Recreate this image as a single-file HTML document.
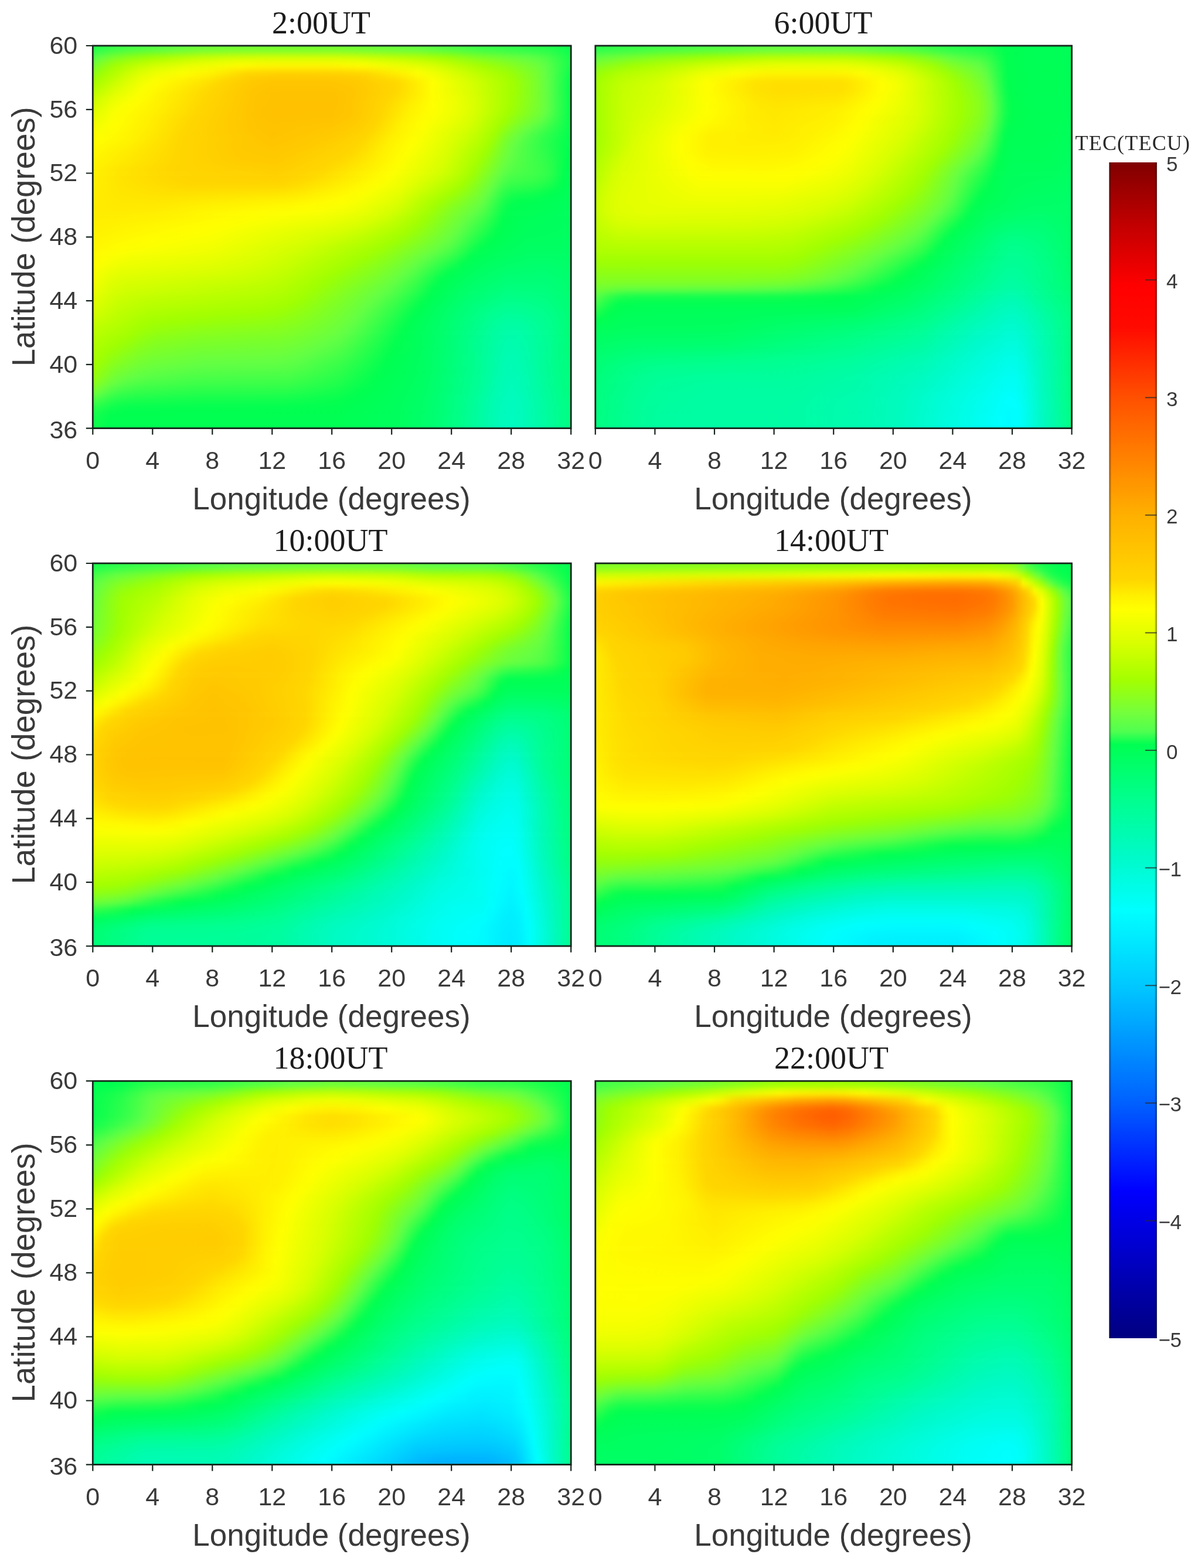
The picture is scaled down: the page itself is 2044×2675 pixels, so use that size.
<!DOCTYPE html>
<html lang="en"><head><meta charset="utf-8"><title>TEC maps</title><style>
html,body{margin:0;padding:0;background:#fff}
body{width:2044px;height:2675px;overflow:hidden}
svg{display:block}
text{font-family:'Liberation Sans',Arial,Helvetica,sans-serif;fill:#3a3a3a}
.tk text{font-size:43px}
.lb{font-size:53px}
.lby{font-size:54.6px}
.tt{font-family:'Liberation Serif','Times New Roman',serif;font-size:54px;fill:#1c1c1c}
.ct{font-family:'Liberation Serif','Times New Roman',serif;font-size:36px;fill:#2a2a2a;letter-spacing:1.2px}
.cbt text{font-size:35px;letter-spacing:-0.5px}
</style></head><body>
<svg width="2044" height="2675" viewBox="0 0 2044 2675">
<defs>
<filter id="vb" x="-5%" y="-5%" width="110%" height="110%" color-interpolation-filters="sRGB"><feGaussianBlur stdDeviation="0 6"/></filter>
<clipPath id="c0"><rect x="158.3" y="78" width="815.9" height="652.6"/></clipPath>
<linearGradient id="g0"><stop offset="0" stop-color="#23ff4c"/><stop offset=".039" stop-color="#38ff49"/><stop offset=".07" stop-color="#45ff48"/><stop offset=".172" stop-color="#62ff44"/><stop offset=".219" stop-color="#6cff3b"/><stop offset=".328" stop-color="#74ff32"/><stop offset=".508" stop-color="#74ff31"/><stop offset=".68" stop-color="#63ff44"/><stop offset=".812" stop-color="#3cff49"/><stop offset=".945" stop-color="#25ff4c"/><stop offset=".969" stop-color="#1bff4d"/><stop offset="1" stop-color="#0aff4f"/></linearGradient>
<linearGradient id="g1"><stop offset="0" stop-color="#23ff4c"/><stop offset=".039" stop-color="#38ff49"/><stop offset=".07" stop-color="#45ff48"/><stop offset=".172" stop-color="#62ff44"/><stop offset=".219" stop-color="#6cff3b"/><stop offset=".328" stop-color="#74ff32"/><stop offset=".508" stop-color="#74ff31"/><stop offset=".68" stop-color="#63ff44"/><stop offset=".812" stop-color="#3cff49"/><stop offset=".945" stop-color="#25ff4c"/><stop offset=".969" stop-color="#1bff4d"/><stop offset="1" stop-color="#0aff4f"/></linearGradient>
<linearGradient id="g2"><stop offset="0" stop-color="#23ff4c"/><stop offset=".039" stop-color="#38ff49"/><stop offset=".07" stop-color="#45ff48"/><stop offset=".172" stop-color="#62ff44"/><stop offset=".219" stop-color="#6cff3b"/><stop offset=".328" stop-color="#74ff32"/><stop offset=".508" stop-color="#74ff31"/><stop offset=".68" stop-color="#63ff44"/><stop offset=".812" stop-color="#3cff49"/><stop offset=".945" stop-color="#25ff4c"/><stop offset=".969" stop-color="#1bff4d"/><stop offset="1" stop-color="#0aff4f"/></linearGradient>
<linearGradient id="g3"><stop offset="0" stop-color="#52ff46"/><stop offset=".016" stop-color="#65ff43"/><stop offset=".047" stop-color="#7eff27"/><stop offset=".078" stop-color="#90ff12"/><stop offset=".117" stop-color="#a0ff00"/><stop offset=".227" stop-color="#c5ff00"/><stop offset=".281" stop-color="#cfff00"/><stop offset=".344" stop-color="#d5ff00"/><stop offset=".516" stop-color="#d6ff00"/><stop offset=".555" stop-color="#d0ff00"/><stop offset=".672" stop-color="#b6ff00"/><stop offset=".742" stop-color="#9fff01"/><stop offset=".812" stop-color="#7fff26"/><stop offset=".906" stop-color="#64ff44"/><stop offset=".93" stop-color="#59ff45"/><stop offset=".953" stop-color="#48ff47"/><stop offset="1" stop-color="#15ff4e"/></linearGradient>
<linearGradient id="g4"><stop offset="0" stop-color="#73ff33"/><stop offset=".039" stop-color="#9bff06"/><stop offset=".047" stop-color="#a2ff00"/><stop offset=".086" stop-color="#bbff00"/><stop offset=".125" stop-color="#d0ff00"/><stop offset=".203" stop-color="#e9ff00"/><stop offset=".312" stop-color="#fffe00"/><stop offset=".367" stop-color="#fff800"/><stop offset=".492" stop-color="#fff800"/><stop offset=".562" stop-color="#ffff00"/><stop offset=".656" stop-color="#e9ff00"/><stop offset=".703" stop-color="#dbff00"/><stop offset=".82" stop-color="#a0ff00"/><stop offset=".922" stop-color="#70ff36"/><stop offset=".945" stop-color="#61ff44"/><stop offset="1" stop-color="#15ff4d"/></linearGradient>
<linearGradient id="g5"><stop offset="0" stop-color="#8aff19"/><stop offset=".023" stop-color="#a2ff00"/><stop offset=".094" stop-color="#dcff00"/><stop offset=".133" stop-color="#efff00"/><stop offset=".188" stop-color="#feff00"/><stop offset=".25" stop-color="#fff200"/><stop offset=".32" stop-color="#ffd500"/><stop offset=".391" stop-color="#ffd000"/><stop offset=".516" stop-color="#ffd100"/><stop offset=".57" stop-color="#ffd600"/><stop offset=".68" stop-color="#ffff00"/><stop offset=".719" stop-color="#eeff00"/><stop offset=".812" stop-color="#baff00"/><stop offset=".867" stop-color="#9fff01"/><stop offset=".922" stop-color="#7aff2b"/><stop offset=".945" stop-color="#66ff42"/><stop offset=".961" stop-color="#4eff47"/><stop offset=".992" stop-color="#17ff4d"/><stop offset="1" stop-color="#0dff4e"/></linearGradient>
<linearGradient id="g6"><stop offset="0" stop-color="#a0ff00"/><stop offset=".07" stop-color="#dbff00"/><stop offset=".109" stop-color="#f5ff00"/><stop offset=".133" stop-color="#fffe00"/><stop offset=".227" stop-color="#ffe600"/><stop offset=".273" stop-color="#ffd500"/><stop offset=".336" stop-color="#ffc900"/><stop offset=".375" stop-color="#ffc600"/><stop offset=".492" stop-color="#ffc600"/><stop offset=".547" stop-color="#ffc900"/><stop offset=".633" stop-color="#ffd700"/><stop offset=".711" stop-color="#ffff00"/><stop offset=".789" stop-color="#d6ff00"/><stop offset=".875" stop-color="#a3ff00"/><stop offset=".883" stop-color="#9dff03"/><stop offset=".922" stop-color="#7eff27"/><stop offset=".945" stop-color="#68ff40"/><stop offset=".953" stop-color="#5dff45"/><stop offset=".992" stop-color="#12ff4e"/><stop offset="1" stop-color="#06ff4f"/></linearGradient>
<linearGradient id="g7"><stop offset="0" stop-color="#b1ff00"/><stop offset=".047" stop-color="#daff00"/><stop offset=".102" stop-color="#faff00"/><stop offset=".117" stop-color="#fffd00"/><stop offset=".25" stop-color="#ffd600"/><stop offset=".336" stop-color="#ffc600"/><stop offset=".375" stop-color="#ffc300"/><stop offset=".492" stop-color="#ffc300"/><stop offset=".539" stop-color="#ffc600"/><stop offset=".633" stop-color="#ffd600"/><stop offset=".711" stop-color="#fffe00"/><stop offset=".789" stop-color="#daff00"/><stop offset=".875" stop-color="#a3ff00"/><stop offset=".883" stop-color="#9eff02"/><stop offset=".922" stop-color="#7eff26"/><stop offset=".945" stop-color="#68ff3f"/><stop offset=".953" stop-color="#5dff45"/><stop offset=".992" stop-color="#11ff4e"/><stop offset="1" stop-color="#05ff4f"/></linearGradient>
<linearGradient id="g8"><stop offset="0" stop-color="#c2ff00"/><stop offset=".023" stop-color="#d8ff00"/><stop offset=".047" stop-color="#e8ff00"/><stop offset=".094" stop-color="#feff00"/><stop offset=".234" stop-color="#ffd700"/><stop offset=".336" stop-color="#ffc500"/><stop offset=".383" stop-color="#ffc200"/><stop offset=".508" stop-color="#ffc200"/><stop offset=".547" stop-color="#ffc700"/><stop offset=".625" stop-color="#ffd700"/><stop offset=".711" stop-color="#fffe00"/><stop offset=".758" stop-color="#edff00"/><stop offset=".797" stop-color="#d8ff00"/><stop offset=".875" stop-color="#a2ff00"/><stop offset=".883" stop-color="#9dff04"/><stop offset=".922" stop-color="#7eff27"/><stop offset=".945" stop-color="#68ff3f"/><stop offset=".953" stop-color="#5eff45"/><stop offset=".992" stop-color="#12ff4e"/><stop offset="1" stop-color="#05ff4f"/></linearGradient>
<linearGradient id="g9"><stop offset="0" stop-color="#d2ff00"/><stop offset=".047" stop-color="#f4ff00"/><stop offset=".078" stop-color="#fffe00"/><stop offset=".133" stop-color="#fff100"/><stop offset=".227" stop-color="#ffd600"/><stop offset=".344" stop-color="#ffc300"/><stop offset=".391" stop-color="#ffc100"/><stop offset=".5" stop-color="#ffc100"/><stop offset=".539" stop-color="#ffc600"/><stop offset=".609" stop-color="#ffd500"/><stop offset=".672" stop-color="#fff200"/><stop offset=".711" stop-color="#ffff00"/><stop offset=".758" stop-color="#eeff00"/><stop offset=".797" stop-color="#d9ff00"/><stop offset=".875" stop-color="#a1ff00"/><stop offset=".93" stop-color="#77ff2f"/><stop offset=".945" stop-color="#68ff3f"/><stop offset=".953" stop-color="#5eff45"/><stop offset=".992" stop-color="#12ff4e"/><stop offset="1" stop-color="#05ff4f"/></linearGradient>
<linearGradient id="g10"><stop offset="0" stop-color="#dfff00"/><stop offset=".039" stop-color="#f7ff00"/><stop offset=".062" stop-color="#fffd00"/><stop offset=".117" stop-color="#fff200"/><stop offset=".219" stop-color="#ffd600"/><stop offset=".344" stop-color="#ffc300"/><stop offset=".383" stop-color="#ffc100"/><stop offset=".5" stop-color="#ffc200"/><stop offset=".539" stop-color="#ffc600"/><stop offset=".602" stop-color="#ffd500"/><stop offset=".664" stop-color="#fff300"/><stop offset=".711" stop-color="#feff00"/><stop offset=".758" stop-color="#edff00"/><stop offset=".797" stop-color="#d8ff00"/><stop offset=".867" stop-color="#a3ff00"/><stop offset=".875" stop-color="#9cff04"/><stop offset=".938" stop-color="#6dff3a"/><stop offset=".945" stop-color="#66ff42"/><stop offset=".953" stop-color="#5aff45"/><stop offset=".992" stop-color="#11ff4e"/><stop offset="1" stop-color="#05ff4f"/></linearGradient>
<linearGradient id="g11"><stop offset="0" stop-color="#eaff00"/><stop offset=".047" stop-color="#ffff00"/><stop offset=".117" stop-color="#ffef00"/><stop offset=".203" stop-color="#ffd600"/><stop offset=".344" stop-color="#ffc400"/><stop offset=".383" stop-color="#ffc200"/><stop offset=".5" stop-color="#ffc400"/><stop offset=".547" stop-color="#ffca00"/><stop offset=".594" stop-color="#ffd500"/><stop offset=".648" stop-color="#fff100"/><stop offset=".695" stop-color="#ffff00"/><stop offset=".742" stop-color="#efff00"/><stop offset=".789" stop-color="#d8ff00"/><stop offset=".859" stop-color="#a0ff00"/><stop offset=".891" stop-color="#83ff21"/><stop offset=".938" stop-color="#60ff44"/><stop offset="1" stop-color="#04ff4f"/></linearGradient>
<linearGradient id="g12"><stop offset="0" stop-color="#f4ff00"/><stop offset=".039" stop-color="#fffe00"/><stop offset=".117" stop-color="#ffed00"/><stop offset=".195" stop-color="#ffd600"/><stop offset=".336" stop-color="#ffc500"/><stop offset=".383" stop-color="#ffc300"/><stop offset=".5" stop-color="#ffc800"/><stop offset=".555" stop-color="#ffcf00"/><stop offset=".586" stop-color="#ffd600"/><stop offset=".641" stop-color="#fff200"/><stop offset=".688" stop-color="#feff00"/><stop offset=".781" stop-color="#d5ff00"/><stop offset=".812" stop-color="#bfff00"/><stop offset=".844" stop-color="#a3ff00"/><stop offset=".852" stop-color="#9aff07"/><stop offset=".875" stop-color="#80ff25"/><stop offset=".906" stop-color="#67ff41"/><stop offset=".914" stop-color="#60ff45"/><stop offset="1" stop-color="#03ff50"/></linearGradient>
<linearGradient id="g13"><stop offset="0" stop-color="#fcff00"/><stop offset=".016" stop-color="#ffff00"/><stop offset=".086" stop-color="#fff200"/><stop offset=".188" stop-color="#ffd600"/><stop offset=".375" stop-color="#ffc400"/><stop offset=".5" stop-color="#ffcb00"/><stop offset=".57" stop-color="#ffd600"/><stop offset=".625" stop-color="#fff000"/><stop offset=".672" stop-color="#fffe00"/><stop offset=".703" stop-color="#f4ff00"/><stop offset=".766" stop-color="#d5ff00"/><stop offset=".805" stop-color="#bcff00"/><stop offset=".836" stop-color="#a1ff00"/><stop offset=".867" stop-color="#79ff2c"/><stop offset=".891" stop-color="#65ff43"/><stop offset=".914" stop-color="#4bff47"/><stop offset=".945" stop-color="#2eff4b"/><stop offset=".977" stop-color="#13ff4e"/><stop offset="1" stop-color="#02ff50"/></linearGradient>
<linearGradient id="g14"><stop offset="0" stop-color="#fffc00"/><stop offset=".07" stop-color="#fff100"/><stop offset=".18" stop-color="#ffd600"/><stop offset=".312" stop-color="#ffc900"/><stop offset=".375" stop-color="#ffc600"/><stop offset=".445" stop-color="#ffc900"/><stop offset=".555" stop-color="#ffd600"/><stop offset=".617" stop-color="#fff100"/><stop offset=".664" stop-color="#ffff00"/><stop offset=".695" stop-color="#f3ff00"/><stop offset=".75" stop-color="#d8ff00"/><stop offset=".805" stop-color="#b4ff00"/><stop offset=".828" stop-color="#a0ff00"/><stop offset=".859" stop-color="#78ff2d"/><stop offset=".875" stop-color="#69ff3f"/><stop offset=".883" stop-color="#62ff44"/><stop offset=".906" stop-color="#4bff47"/><stop offset=".953" stop-color="#24ff4c"/><stop offset=".984" stop-color="#0aff4f"/><stop offset="1" stop-color="#01ff50"/></linearGradient>
<linearGradient id="g15"><stop offset="0" stop-color="#fff800"/><stop offset=".18" stop-color="#ffd600"/><stop offset=".312" stop-color="#ffca00"/><stop offset=".383" stop-color="#ffc800"/><stop offset=".539" stop-color="#ffd600"/><stop offset=".609" stop-color="#fff200"/><stop offset=".656" stop-color="#feff00"/><stop offset=".695" stop-color="#efff00"/><stop offset=".742" stop-color="#d8ff00"/><stop offset=".82" stop-color="#9fff01"/><stop offset=".852" stop-color="#7aff2b"/><stop offset=".875" stop-color="#64ff44"/><stop offset=".891" stop-color="#55ff46"/><stop offset=".945" stop-color="#2eff4b"/><stop offset=".992" stop-color="#02ff50"/><stop offset="1" stop-color="#00ff51"/></linearGradient>
<linearGradient id="g16"><stop offset="0" stop-color="#fff500"/><stop offset=".172" stop-color="#ffd600"/><stop offset=".305" stop-color="#ffcc00"/><stop offset=".383" stop-color="#ffca00"/><stop offset=".516" stop-color="#ffd700"/><stop offset=".641" stop-color="#fffe00"/><stop offset=".734" stop-color="#d8ff00"/><stop offset=".805" stop-color="#a4ff00"/><stop offset=".812" stop-color="#9dff03"/><stop offset=".852" stop-color="#73ff34"/><stop offset=".867" stop-color="#65ff43"/><stop offset=".891" stop-color="#52ff46"/><stop offset=".945" stop-color="#32ff4a"/><stop offset=".961" stop-color="#24ff4c"/><stop offset=".992" stop-color="#00ff50"/><stop offset="1" stop-color="#00ff52"/></linearGradient>
<linearGradient id="g17"><stop offset="0" stop-color="#fff200"/><stop offset=".055" stop-color="#ffe500"/><stop offset=".164" stop-color="#ffd600"/><stop offset=".383" stop-color="#ffce00"/><stop offset=".484" stop-color="#ffd700"/><stop offset=".633" stop-color="#feff00"/><stop offset=".727" stop-color="#d7ff00"/><stop offset=".758" stop-color="#c2ff00"/><stop offset=".797" stop-color="#a2ff00"/><stop offset=".859" stop-color="#64ff43"/><stop offset=".883" stop-color="#51ff46"/><stop offset=".93" stop-color="#3eff49"/><stop offset=".945" stop-color="#35ff4a"/><stop offset=".961" stop-color="#26ff4b"/><stop offset=".984" stop-color="#07ff4f"/><stop offset=".992" stop-color="#00ff51"/><stop offset="1" stop-color="#00ff54"/></linearGradient>
<linearGradient id="g18"><stop offset="0" stop-color="#fff000"/><stop offset=".062" stop-color="#ffe300"/><stop offset=".172" stop-color="#ffd600"/><stop offset=".383" stop-color="#ffd100"/><stop offset=".453" stop-color="#ffd700"/><stop offset=".617" stop-color="#feff00"/><stop offset=".711" stop-color="#d6ff00"/><stop offset=".75" stop-color="#bfff00"/><stop offset=".789" stop-color="#a0ff00"/><stop offset=".844" stop-color="#69ff3f"/><stop offset=".852" stop-color="#60ff44"/><stop offset=".867" stop-color="#4eff47"/><stop offset=".875" stop-color="#49ff47"/><stop offset=".922" stop-color="#3dff49"/><stop offset=".945" stop-color="#32ff4a"/><stop offset=".961" stop-color="#23ff4c"/><stop offset=".984" stop-color="#03ff50"/><stop offset="1" stop-color="#00ff56"/></linearGradient>
<linearGradient id="g19"><stop offset="0" stop-color="#ffef00"/><stop offset=".062" stop-color="#ffe400"/><stop offset=".203" stop-color="#ffd600"/><stop offset=".391" stop-color="#ffd600"/><stop offset=".43" stop-color="#ffdc00"/><stop offset=".594" stop-color="#feff00"/><stop offset=".633" stop-color="#f2ff00"/><stop offset=".656" stop-color="#e7ff00"/><stop offset=".734" stop-color="#bbff00"/><stop offset=".773" stop-color="#a1ff00"/><stop offset=".828" stop-color="#6eff39"/><stop offset=".836" stop-color="#66ff42"/><stop offset=".844" stop-color="#5aff45"/><stop offset=".859" stop-color="#42ff48"/><stop offset=".875" stop-color="#35ff4a"/><stop offset=".93" stop-color="#29ff4b"/><stop offset=".953" stop-color="#1bff4d"/><stop offset=".977" stop-color="#04ff50"/><stop offset=".984" stop-color="#00ff52"/><stop offset="1" stop-color="#00ff57"/></linearGradient>
<linearGradient id="g20"><stop offset="0" stop-color="#ffed00"/><stop offset=".062" stop-color="#ffe600"/><stop offset=".164" stop-color="#ffe000"/><stop offset=".375" stop-color="#ffe300"/><stop offset=".43" stop-color="#ffe800"/><stop offset=".555" stop-color="#fffe00"/><stop offset=".57" stop-color="#fcff00"/><stop offset=".641" stop-color="#e5ff00"/><stop offset=".75" stop-color="#a2ff00"/><stop offset=".758" stop-color="#9dff04"/><stop offset=".797" stop-color="#80ff25"/><stop offset=".828" stop-color="#64ff44"/><stop offset=".859" stop-color="#2dff4b"/><stop offset=".875" stop-color="#1dff4c"/><stop offset=".93" stop-color="#0fff4e"/><stop offset=".961" stop-color="#00ff50"/><stop offset="1" stop-color="#00ff59"/></linearGradient>
<linearGradient id="g21"><stop offset="0" stop-color="#ffec00"/><stop offset=".062" stop-color="#ffe800"/><stop offset=".156" stop-color="#ffe700"/><stop offset=".414" stop-color="#fff300"/><stop offset=".523" stop-color="#ffff00"/><stop offset=".555" stop-color="#f8ff00"/><stop offset=".609" stop-color="#e8ff00"/><stop offset=".641" stop-color="#dbff00"/><stop offset=".688" stop-color="#b9ff00"/><stop offset=".727" stop-color="#a1ff00"/><stop offset=".812" stop-color="#69ff3f"/><stop offset=".82" stop-color="#60ff44"/><stop offset=".859" stop-color="#1aff4d"/><stop offset=".875" stop-color="#09ff4f"/><stop offset=".898" stop-color="#00ff50"/><stop offset="1" stop-color="#00ff5b"/></linearGradient>
<linearGradient id="g22"><stop offset="0" stop-color="#ffec00"/><stop offset=".047" stop-color="#ffea00"/><stop offset=".133" stop-color="#ffeb00"/><stop offset=".234" stop-color="#fff400"/><stop offset=".453" stop-color="#ffff00"/><stop offset=".508" stop-color="#f9ff00"/><stop offset=".547" stop-color="#f2ff00"/><stop offset=".633" stop-color="#d5ff00"/><stop offset=".711" stop-color="#9fff02"/><stop offset=".75" stop-color="#83ff21"/><stop offset=".805" stop-color="#63ff44"/><stop offset=".82" stop-color="#50ff46"/><stop offset=".852" stop-color="#18ff4d"/><stop offset=".867" stop-color="#03ff50"/><stop offset=".875" stop-color="#00ff51"/><stop offset="1" stop-color="#00ff5c"/></linearGradient>
<linearGradient id="g23"><stop offset="0" stop-color="#ffed00"/><stop offset=".125" stop-color="#fff000"/><stop offset=".336" stop-color="#ffff00"/><stop offset=".484" stop-color="#f2ff00"/><stop offset=".547" stop-color="#e7ff00"/><stop offset=".594" stop-color="#d9ff00"/><stop offset=".617" stop-color="#cfff00"/><stop offset=".695" stop-color="#9fff02"/><stop offset=".75" stop-color="#7aff2b"/><stop offset=".789" stop-color="#61ff44"/><stop offset=".82" stop-color="#3fff48"/><stop offset=".859" stop-color="#02ff50"/><stop offset=".898" stop-color="#00ff57"/><stop offset="1" stop-color="#00ff5e"/></linearGradient>
<linearGradient id="g24"><stop offset="0" stop-color="#ffef00"/><stop offset=".273" stop-color="#ffff00"/><stop offset=".484" stop-color="#e7ff00"/><stop offset=".555" stop-color="#d9ff00"/><stop offset=".625" stop-color="#bdff00"/><stop offset=".68" stop-color="#9eff02"/><stop offset=".766" stop-color="#68ff40"/><stop offset=".773" stop-color="#62ff44"/><stop offset=".812" stop-color="#37ff49"/><stop offset=".852" stop-color="#03ff50"/><stop offset=".859" stop-color="#00ff52"/><stop offset=".906" stop-color="#00ff5a"/><stop offset="1" stop-color="#00ff5f"/></linearGradient>
<linearGradient id="g25"><stop offset="0" stop-color="#fff200"/><stop offset=".211" stop-color="#ffff00"/><stop offset=".25" stop-color="#fcff00"/><stop offset=".516" stop-color="#d5ff00"/><stop offset=".586" stop-color="#beff00"/><stop offset=".656" stop-color="#a1ff00"/><stop offset=".75" stop-color="#6aff3d"/><stop offset=".766" stop-color="#5dff45"/><stop offset=".844" stop-color="#01ff50"/><stop offset=".867" stop-color="#00ff56"/><stop offset=".906" stop-color="#00ff5c"/><stop offset="1" stop-color="#00ff60"/></linearGradient>
<linearGradient id="g26"><stop offset="0" stop-color="#fff400"/><stop offset=".125" stop-color="#ffff00"/><stop offset=".258" stop-color="#f6ff00"/><stop offset=".445" stop-color="#d8ff00"/><stop offset=".484" stop-color="#cfff00"/><stop offset=".555" stop-color="#bbff00"/><stop offset=".633" stop-color="#9fff01"/><stop offset=".742" stop-color="#66ff42"/><stop offset=".758" stop-color="#57ff46"/><stop offset=".805" stop-color="#1bff4d"/><stop offset=".828" stop-color="#02ff50"/><stop offset=".836" stop-color="#00ff52"/><stop offset=".906" stop-color="#00ff5f"/><stop offset="1" stop-color="#00ff61"/></linearGradient>
<linearGradient id="g27"><stop offset="0" stop-color="#fff600"/><stop offset=".062" stop-color="#ffff00"/><stop offset=".258" stop-color="#f0ff00"/><stop offset=".43" stop-color="#d2ff00"/><stop offset=".602" stop-color="#9fff01"/><stop offset=".719" stop-color="#67ff41"/><stop offset=".75" stop-color="#4dff47"/><stop offset=".797" stop-color="#10ff4e"/><stop offset=".812" stop-color="#00ff51"/><stop offset=".859" stop-color="#00ff5c"/><stop offset=".906" stop-color="#00ff62"/><stop offset="1" stop-color="#00ff63"/></linearGradient>
<linearGradient id="g28"><stop offset="0" stop-color="#fffa00"/><stop offset=".023" stop-color="#feff00"/><stop offset=".078" stop-color="#f5ff00"/><stop offset=".258" stop-color="#e9ff00"/><stop offset=".367" stop-color="#d8ff00"/><stop offset=".43" stop-color="#c9ff00"/><stop offset=".57" stop-color="#a0ff00"/><stop offset=".633" stop-color="#85ff1f"/><stop offset=".695" stop-color="#65ff43"/><stop offset=".742" stop-color="#3cff49"/><stop offset=".758" stop-color="#2bff4b"/><stop offset=".789" stop-color="#03ff50"/><stop offset=".797" stop-color="#00ff52"/><stop offset=".844" stop-color="#00ff5e"/><stop offset=".906" stop-color="#00ff66"/><stop offset="1" stop-color="#00ff66"/></linearGradient>
<linearGradient id="g29"><stop offset="0" stop-color="#ffff00"/><stop offset=".062" stop-color="#eeff00"/><stop offset=".25" stop-color="#e1ff00"/><stop offset=".336" stop-color="#d7ff00"/><stop offset=".406" stop-color="#c8ff00"/><stop offset=".539" stop-color="#a0ff01"/><stop offset=".617" stop-color="#80ff24"/><stop offset=".672" stop-color="#65ff43"/><stop offset=".703" stop-color="#48ff47"/><stop offset=".773" stop-color="#00ff51"/><stop offset=".82" stop-color="#00ff60"/><stop offset=".867" stop-color="#00ff68"/><stop offset=".938" stop-color="#00ff6d"/><stop offset="1" stop-color="#00ff68"/></linearGradient>
<linearGradient id="g30"><stop offset="0" stop-color="#f9ff00"/><stop offset=".039" stop-color="#e9ff00"/><stop offset=".062" stop-color="#e4ff00"/><stop offset=".266" stop-color="#d7ff00"/><stop offset=".367" stop-color="#c9ff00"/><stop offset=".414" stop-color="#beff00"/><stop offset=".508" stop-color="#a0ff00"/><stop offset=".594" stop-color="#80ff24"/><stop offset=".648" stop-color="#67ff41"/><stop offset=".656" stop-color="#62ff44"/><stop offset=".688" stop-color="#43ff48"/><stop offset=".742" stop-color="#04ff50"/><stop offset=".75" stop-color="#00ff51"/><stop offset=".812" stop-color="#00ff64"/><stop offset=".867" stop-color="#00ff6f"/><stop offset=".945" stop-color="#00ff72"/><stop offset="1" stop-color="#00ff6b"/></linearGradient>
<linearGradient id="g31"><stop offset="0" stop-color="#f3ff00"/><stop offset=".039" stop-color="#e1ff00"/><stop offset=".062" stop-color="#dbff00"/><stop offset=".328" stop-color="#c6ff00"/><stop offset=".391" stop-color="#bcff00"/><stop offset=".445" stop-color="#acff00"/><stop offset=".484" stop-color="#9fff01"/><stop offset=".586" stop-color="#79ff2c"/><stop offset=".633" stop-color="#65ff43"/><stop offset=".68" stop-color="#39ff49"/><stop offset=".727" stop-color="#00ff50"/><stop offset=".797" stop-color="#00ff67"/><stop offset=".867" stop-color="#00ff76"/><stop offset=".945" stop-color="#00ff77"/><stop offset="1" stop-color="#00ff6e"/></linearGradient>
<linearGradient id="g32"><stop offset="0" stop-color="#edff00"/><stop offset=".039" stop-color="#daff00"/><stop offset=".07" stop-color="#d2ff00"/><stop offset=".359" stop-color="#b9ff00"/><stop offset=".398" stop-color="#b3ff00"/><stop offset=".453" stop-color="#a3ff00"/><stop offset=".461" stop-color="#a0ff00"/><stop offset=".617" stop-color="#62ff44"/><stop offset=".664" stop-color="#39ff49"/><stop offset=".688" stop-color="#20ff4c"/><stop offset=".711" stop-color="#02ff50"/><stop offset=".719" stop-color="#00ff52"/><stop offset=".789" stop-color="#00ff6b"/><stop offset=".867" stop-color="#00ff7d"/><stop offset=".945" stop-color="#00ff7c"/><stop offset="1" stop-color="#00ff6f"/></linearGradient>
<linearGradient id="g33"><stop offset="0" stop-color="#e6ff00"/><stop offset=".047" stop-color="#cfff00"/><stop offset=".078" stop-color="#c8ff00"/><stop offset=".141" stop-color="#c1ff00"/><stop offset=".359" stop-color="#b1ff00"/><stop offset=".398" stop-color="#abff00"/><stop offset=".438" stop-color="#a1ff00"/><stop offset=".594" stop-color="#64ff44"/><stop offset=".641" stop-color="#3fff48"/><stop offset=".703" stop-color="#00ff51"/><stop offset=".789" stop-color="#00ff71"/><stop offset=".867" stop-color="#00ff86"/><stop offset=".945" stop-color="#00ff81"/><stop offset="1" stop-color="#00ff71"/></linearGradient>
<linearGradient id="g34"><stop offset="0" stop-color="#ddff00"/><stop offset=".055" stop-color="#c5ff00"/><stop offset=".109" stop-color="#baff00"/><stop offset=".359" stop-color="#a8ff00"/><stop offset=".406" stop-color="#a1ff00"/><stop offset=".422" stop-color="#9dff03"/><stop offset=".531" stop-color="#76ff2f"/><stop offset=".578" stop-color="#63ff44"/><stop offset=".633" stop-color="#37ff49"/><stop offset=".688" stop-color="#00ff50"/><stop offset=".797" stop-color="#00ff7b"/><stop offset=".867" stop-color="#00ff8f"/><stop offset=".898" stop-color="#00ff8e"/><stop offset=".945" stop-color="#00ff87"/><stop offset="1" stop-color="#00ff72"/></linearGradient>
<linearGradient id="g35"><stop offset="0" stop-color="#d4ff00"/><stop offset=".055" stop-color="#beff00"/><stop offset=".117" stop-color="#afff00"/><stop offset=".195" stop-color="#a8ff00"/><stop offset=".344" stop-color="#a0ff00"/><stop offset=".391" stop-color="#9bff06"/><stop offset=".445" stop-color="#8dff16"/><stop offset=".516" stop-color="#76ff30"/><stop offset=".562" stop-color="#63ff44"/><stop offset=".625" stop-color="#30ff4a"/><stop offset=".672" stop-color="#02ff50"/><stop offset=".68" stop-color="#00ff52"/><stop offset=".836" stop-color="#00ff8f"/><stop offset=".867" stop-color="#00fe98"/><stop offset=".898" stop-color="#00fe96"/><stop offset=".938" stop-color="#00ff8e"/><stop offset=".961" stop-color="#00ff86"/><stop offset="1" stop-color="#00ff73"/></linearGradient>
<linearGradient id="g36"><stop offset="0" stop-color="#c9ff00"/><stop offset=".094" stop-color="#abff00"/><stop offset=".125" stop-color="#a4ff00"/><stop offset=".172" stop-color="#a0ff00"/><stop offset=".367" stop-color="#93ff0f"/><stop offset=".422" stop-color="#8bff18"/><stop offset=".5" stop-color="#75ff31"/><stop offset=".547" stop-color="#64ff44"/><stop offset=".602" stop-color="#38ff49"/><stop offset=".664" stop-color="#00ff51"/><stop offset=".734" stop-color="#00ff6a"/><stop offset=".844" stop-color="#00fe9a"/><stop offset=".867" stop-color="#00fda0"/><stop offset=".898" stop-color="#00fd9e"/><stop offset=".938" stop-color="#00fe93"/><stop offset=".961" stop-color="#00ff8a"/><stop offset="1" stop-color="#00ff74"/></linearGradient>
<linearGradient id="g37"><stop offset="0" stop-color="#bfff00"/><stop offset=".102" stop-color="#a1ff00"/><stop offset=".133" stop-color="#99ff08"/><stop offset=".219" stop-color="#90ff13"/><stop offset=".391" stop-color="#87ff1d"/><stop offset=".438" stop-color="#7eff26"/><stop offset=".5" stop-color="#6fff38"/><stop offset=".531" stop-color="#64ff44"/><stop offset=".547" stop-color="#59ff45"/><stop offset=".586" stop-color="#3aff49"/><stop offset=".648" stop-color="#04ff50"/><stop offset=".656" stop-color="#00ff51"/><stop offset=".734" stop-color="#00ff6c"/><stop offset=".844" stop-color="#00fd9f"/><stop offset=".867" stop-color="#00fda6"/><stop offset=".891" stop-color="#00fda6"/><stop offset=".93" stop-color="#00fe9a"/><stop offset=".961" stop-color="#00ff8c"/><stop offset="1" stop-color="#00ff75"/></linearGradient>
<linearGradient id="g38"><stop offset="0" stop-color="#b7ff00"/><stop offset=".078" stop-color="#a0ff00"/><stop offset=".109" stop-color="#93ff0f"/><stop offset=".133" stop-color="#8dff15"/><stop offset=".227" stop-color="#84ff20"/><stop offset=".391" stop-color="#7dff27"/><stop offset=".438" stop-color="#76ff2f"/><stop offset=".5" stop-color="#68ff40"/><stop offset=".516" stop-color="#62ff44"/><stop offset=".547" stop-color="#4eff47"/><stop offset=".641" stop-color="#03ff50"/><stop offset=".648" stop-color="#00ff51"/><stop offset=".727" stop-color="#00ff6b"/><stop offset=".844" stop-color="#00fda3"/><stop offset=".867" stop-color="#00fcab"/><stop offset=".891" stop-color="#00fdaa"/><stop offset=".914" stop-color="#00fda2"/><stop offset=".953" stop-color="#00ff92"/><stop offset="1" stop-color="#00ff76"/></linearGradient>
<linearGradient id="g39"><stop offset="0" stop-color="#b1ff00"/><stop offset=".055" stop-color="#9eff02"/><stop offset=".102" stop-color="#8bff18"/><stop offset=".133" stop-color="#83ff21"/><stop offset=".227" stop-color="#7aff2b"/><stop offset=".391" stop-color="#75ff31"/><stop offset=".43" stop-color="#70ff37"/><stop offset=".484" stop-color="#64ff44"/><stop offset=".516" stop-color="#57ff46"/><stop offset=".539" stop-color="#49ff47"/><stop offset=".633" stop-color="#02ff50"/><stop offset=".688" stop-color="#00ff5e"/><stop offset=".727" stop-color="#00ff6c"/><stop offset=".852" stop-color="#00fda9"/><stop offset=".867" stop-color="#00fcae"/><stop offset=".883" stop-color="#00fcae"/><stop offset=".906" stop-color="#00fda8"/><stop offset=".953" stop-color="#00fe93"/><stop offset="1" stop-color="#00ff77"/></linearGradient>
<linearGradient id="g40"><stop offset="0" stop-color="#abff00"/><stop offset=".031" stop-color="#9eff02"/><stop offset=".094" stop-color="#83ff21"/><stop offset=".125" stop-color="#7bff2a"/><stop offset=".219" stop-color="#71ff35"/><stop offset=".391" stop-color="#6dff3a"/><stop offset=".453" stop-color="#63ff44"/><stop offset=".5" stop-color="#52ff46"/><stop offset=".531" stop-color="#42ff48"/><stop offset=".625" stop-color="#01ff50"/><stop offset=".68" stop-color="#00ff5d"/><stop offset=".719" stop-color="#00ff6a"/><stop offset=".766" stop-color="#00ff7e"/><stop offset=".852" stop-color="#00fcab"/><stop offset=".867" stop-color="#00fcb0"/><stop offset=".883" stop-color="#00fcb1"/><stop offset=".906" stop-color="#00fdaa"/><stop offset=".953" stop-color="#00fe93"/><stop offset="1" stop-color="#00ff78"/></linearGradient>
<linearGradient id="g41"><stop offset="0" stop-color="#a6ff00"/><stop offset=".016" stop-color="#9eff02"/><stop offset=".039" stop-color="#8fff13"/><stop offset=".062" stop-color="#84ff20"/><stop offset=".102" stop-color="#76ff30"/><stop offset=".125" stop-color="#71ff35"/><stop offset=".227" stop-color="#68ff40"/><stop offset=".383" stop-color="#65ff42"/><stop offset=".43" stop-color="#5eff45"/><stop offset=".523" stop-color="#3bff49"/><stop offset=".617" stop-color="#00ff50"/><stop offset=".68" stop-color="#00ff5e"/><stop offset=".719" stop-color="#00ff6b"/><stop offset=".781" stop-color="#00ff86"/><stop offset=".852" stop-color="#00fcad"/><stop offset=".867" stop-color="#00fcb3"/><stop offset=".883" stop-color="#00fcb3"/><stop offset=".906" stop-color="#00fcab"/><stop offset="1" stop-color="#00ff79"/></linearGradient>
<linearGradient id="g42"><stop offset="0" stop-color="#a0ff00"/><stop offset=".039" stop-color="#83ff20"/><stop offset=".055" stop-color="#7bff2a"/><stop offset=".094" stop-color="#6dff39"/><stop offset=".133" stop-color="#66ff41"/><stop offset=".227" stop-color="#5cff45"/><stop offset=".375" stop-color="#59ff45"/><stop offset=".414" stop-color="#55ff46"/><stop offset=".453" stop-color="#4aff47"/><stop offset=".516" stop-color="#33ff4a"/><stop offset=".609" stop-color="#00ff51"/><stop offset=".672" stop-color="#00ff5d"/><stop offset=".711" stop-color="#00ff68"/><stop offset=".805" stop-color="#00fe92"/><stop offset=".859" stop-color="#00fcb2"/><stop offset=".875" stop-color="#00fcb6"/><stop offset=".906" stop-color="#00fcad"/><stop offset="1" stop-color="#00ff7a"/></linearGradient>
<linearGradient id="g43"><stop offset="0" stop-color="#97ff0a"/><stop offset=".047" stop-color="#72ff34"/><stop offset=".086" stop-color="#64ff44"/><stop offset=".125" stop-color="#59ff45"/><stop offset=".203" stop-color="#4eff47"/><stop offset=".406" stop-color="#48ff47"/><stop offset=".445" stop-color="#3fff48"/><stop offset=".516" stop-color="#28ff4b"/><stop offset=".594" stop-color="#01ff50"/><stop offset=".664" stop-color="#00ff5c"/><stop offset=".703" stop-color="#00ff66"/><stop offset=".75" stop-color="#00ff7a"/><stop offset=".812" stop-color="#00fe98"/><stop offset=".852" stop-color="#00fcb0"/><stop offset=".875" stop-color="#00fbb8"/><stop offset=".891" stop-color="#00fcb5"/><stop offset=".906" stop-color="#00fcaf"/><stop offset="1" stop-color="#00ff7b"/></linearGradient>
<linearGradient id="g44"><stop offset="0" stop-color="#89ff1b"/><stop offset=".031" stop-color="#6eff39"/><stop offset=".047" stop-color="#63ff44"/><stop offset=".07" stop-color="#54ff46"/><stop offset=".109" stop-color="#48ff47"/><stop offset=".219" stop-color="#3cff49"/><stop offset=".406" stop-color="#39ff49"/><stop offset=".508" stop-color="#1fff4c"/><stop offset=".586" stop-color="#00ff51"/><stop offset=".656" stop-color="#00ff5c"/><stop offset=".695" stop-color="#00ff65"/><stop offset=".734" stop-color="#00ff74"/><stop offset=".812" stop-color="#00fe99"/><stop offset=".852" stop-color="#00fcb3"/><stop offset=".875" stop-color="#00fbba"/><stop offset=".891" stop-color="#00fbb7"/><stop offset=".906" stop-color="#00fcb0"/><stop offset="1" stop-color="#00ff7c"/></linearGradient>
<linearGradient id="g45"><stop offset="0" stop-color="#71ff35"/><stop offset=".016" stop-color="#66ff42"/><stop offset=".023" stop-color="#5cff45"/><stop offset=".039" stop-color="#4bff47"/><stop offset=".055" stop-color="#3eff49"/><stop offset=".094" stop-color="#32ff4a"/><stop offset=".211" stop-color="#27ff4b"/><stop offset=".406" stop-color="#25ff4c"/><stop offset=".508" stop-color="#13ff4e"/><stop offset=".562" stop-color="#00ff50"/><stop offset=".633" stop-color="#00ff5a"/><stop offset=".688" stop-color="#00ff64"/><stop offset=".719" stop-color="#00ff6f"/><stop offset=".797" stop-color="#00fe94"/><stop offset=".852" stop-color="#00fcb5"/><stop offset=".875" stop-color="#00fbbc"/><stop offset=".898" stop-color="#00fbb7"/><stop offset="1" stop-color="#00ff7e"/></linearGradient>
<linearGradient id="g46"><stop offset="0" stop-color="#4dff47"/><stop offset=".031" stop-color="#2eff4a"/><stop offset=".047" stop-color="#23ff4c"/><stop offset=".062" stop-color="#1dff4d"/><stop offset=".086" stop-color="#19ff4d"/><stop offset=".211" stop-color="#12ff4e"/><stop offset=".398" stop-color="#11ff4e"/><stop offset=".516" stop-color="#05ff4f"/><stop offset=".539" stop-color="#00ff50"/><stop offset=".625" stop-color="#00ff5a"/><stop offset=".68" stop-color="#00ff64"/><stop offset=".719" stop-color="#00ff71"/><stop offset=".773" stop-color="#00ff8a"/><stop offset=".852" stop-color="#00fbb8"/><stop offset=".875" stop-color="#00fbbf"/><stop offset=".898" stop-color="#00fbb9"/><stop offset="1" stop-color="#00ff7f"/></linearGradient>
<linearGradient id="g47"><stop offset="0" stop-color="#27ff4b"/><stop offset=".039" stop-color="#0cff4f"/><stop offset=".07" stop-color="#04ff50"/><stop offset=".508" stop-color="#00ff51"/><stop offset=".633" stop-color="#00ff5c"/><stop offset=".688" stop-color="#00ff67"/><stop offset=".727" stop-color="#00ff75"/><stop offset=".766" stop-color="#00ff87"/><stop offset=".852" stop-color="#00fbba"/><stop offset=".875" stop-color="#00fbc0"/><stop offset=".898" stop-color="#00fbba"/><stop offset="1" stop-color="#00ff81"/></linearGradient>
<linearGradient id="g48"><stop offset="0" stop-color="#15ff4e"/><stop offset=".039" stop-color="#00ff50"/><stop offset=".508" stop-color="#00ff52"/><stop offset=".633" stop-color="#00ff5d"/><stop offset=".688" stop-color="#00ff68"/><stop offset=".727" stop-color="#00ff76"/><stop offset=".766" stop-color="#00ff88"/><stop offset=".852" stop-color="#00fbbb"/><stop offset=".875" stop-color="#00fbc1"/><stop offset=".898" stop-color="#00fbbb"/><stop offset="1" stop-color="#00ff81"/></linearGradient>
<linearGradient id="g49"><stop offset="0" stop-color="#12ff4e"/><stop offset=".031" stop-color="#01ff50"/><stop offset=".039" stop-color="#00ff51"/><stop offset=".516" stop-color="#00ff53"/><stop offset=".633" stop-color="#00ff5d"/><stop offset=".688" stop-color="#00ff68"/><stop offset=".727" stop-color="#00ff76"/><stop offset=".766" stop-color="#00ff88"/><stop offset=".852" stop-color="#00fbbb"/><stop offset=".875" stop-color="#00fbc1"/><stop offset=".898" stop-color="#00fbbb"/><stop offset="1" stop-color="#00ff81"/></linearGradient>
<linearGradient id="g50"><stop offset="0" stop-color="#12ff4e"/><stop offset=".031" stop-color="#01ff50"/><stop offset=".039" stop-color="#00ff51"/><stop offset=".516" stop-color="#00ff53"/><stop offset=".633" stop-color="#00ff5d"/><stop offset=".688" stop-color="#00ff68"/><stop offset=".727" stop-color="#00ff76"/><stop offset=".766" stop-color="#00ff88"/><stop offset=".852" stop-color="#00fbbb"/><stop offset=".875" stop-color="#00fbc1"/><stop offset=".898" stop-color="#00fbbb"/><stop offset="1" stop-color="#00ff81"/></linearGradient>
<linearGradient id="g51"><stop offset="0" stop-color="#12ff4e"/><stop offset=".031" stop-color="#01ff50"/><stop offset=".039" stop-color="#00ff51"/><stop offset=".516" stop-color="#00ff53"/><stop offset=".633" stop-color="#00ff5d"/><stop offset=".688" stop-color="#00ff68"/><stop offset=".727" stop-color="#00ff76"/><stop offset=".766" stop-color="#00ff88"/><stop offset=".852" stop-color="#00fbbb"/><stop offset=".875" stop-color="#00fbc1"/><stop offset=".898" stop-color="#00fbbb"/><stop offset="1" stop-color="#00ff81"/></linearGradient>
<clipPath id="c1"><rect x="1015.8" y="78" width="812.8" height="652.6"/></clipPath>
<linearGradient id="g52"><stop offset="0" stop-color="#2aff4b"/><stop offset=".133" stop-color="#44ff48"/><stop offset=".25" stop-color="#52ff46"/><stop offset=".352" stop-color="#64ff44"/><stop offset=".516" stop-color="#67ff41"/><stop offset=".562" stop-color="#62ff44"/><stop offset=".664" stop-color="#4aff47"/><stop offset=".742" stop-color="#2bff4b"/><stop offset=".812" stop-color="#1dff4c"/><stop offset=".828" stop-color="#16ff4d"/><stop offset=".859" stop-color="#00ff50"/><stop offset=".922" stop-color="#00ff56"/><stop offset="1" stop-color="#00ff56"/></linearGradient>
<linearGradient id="g53"><stop offset="0" stop-color="#2aff4b"/><stop offset=".133" stop-color="#44ff48"/><stop offset=".25" stop-color="#52ff46"/><stop offset=".352" stop-color="#64ff44"/><stop offset=".516" stop-color="#67ff41"/><stop offset=".562" stop-color="#62ff44"/><stop offset=".664" stop-color="#4aff47"/><stop offset=".742" stop-color="#2bff4b"/><stop offset=".812" stop-color="#1dff4c"/><stop offset=".828" stop-color="#16ff4d"/><stop offset=".859" stop-color="#00ff50"/><stop offset=".922" stop-color="#00ff56"/><stop offset="1" stop-color="#00ff56"/></linearGradient>
<linearGradient id="g54"><stop offset="0" stop-color="#2aff4b"/><stop offset=".133" stop-color="#44ff48"/><stop offset=".25" stop-color="#52ff46"/><stop offset=".352" stop-color="#64ff44"/><stop offset=".516" stop-color="#67ff41"/><stop offset=".562" stop-color="#62ff44"/><stop offset=".664" stop-color="#4aff47"/><stop offset=".742" stop-color="#2bff4b"/><stop offset=".812" stop-color="#1dff4c"/><stop offset=".828" stop-color="#16ff4d"/><stop offset=".859" stop-color="#00ff50"/><stop offset=".922" stop-color="#00ff56"/><stop offset="1" stop-color="#00ff56"/></linearGradient>
<linearGradient id="g55"><stop offset="0" stop-color="#61ff44"/><stop offset=".031" stop-color="#6aff3d"/><stop offset=".133" stop-color="#8aff18"/><stop offset=".234" stop-color="#9fff01"/><stop offset=".359" stop-color="#b7ff00"/><stop offset=".461" stop-color="#bcff00"/><stop offset=".523" stop-color="#bbff00"/><stop offset=".562" stop-color="#b4ff00"/><stop offset=".633" stop-color="#a1ff00"/><stop offset=".648" stop-color="#9bff05"/><stop offset=".688" stop-color="#88ff1b"/><stop offset=".742" stop-color="#65ff43"/><stop offset=".812" stop-color="#40ff48"/><stop offset=".828" stop-color="#30ff4a"/><stop offset=".859" stop-color="#05ff4f"/><stop offset=".867" stop-color="#00ff51"/><stop offset=".922" stop-color="#00ff56"/><stop offset="1" stop-color="#00ff56"/></linearGradient>
<linearGradient id="g56"><stop offset="0" stop-color="#7eff27"/><stop offset=".078" stop-color="#a0ff00"/><stop offset=".234" stop-color="#cfff00"/><stop offset=".305" stop-color="#dfff00"/><stop offset=".375" stop-color="#e9ff00"/><stop offset=".523" stop-color="#eaff00"/><stop offset=".562" stop-color="#e2ff00"/><stop offset=".609" stop-color="#d5ff00"/><stop offset=".648" stop-color="#c4ff00"/><stop offset=".703" stop-color="#a3ff00"/><stop offset=".711" stop-color="#9dff03"/><stop offset=".75" stop-color="#7dff27"/><stop offset=".805" stop-color="#63ff44"/><stop offset=".82" stop-color="#50ff46"/><stop offset=".852" stop-color="#15ff4d"/><stop offset=".859" stop-color="#09ff4f"/><stop offset=".867" stop-color="#00ff50"/><stop offset=".914" stop-color="#00ff55"/><stop offset="1" stop-color="#00ff56"/></linearGradient>
<linearGradient id="g57"><stop offset="0" stop-color="#95ff0d"/><stop offset=".016" stop-color="#9fff01"/><stop offset=".023" stop-color="#a3ff00"/><stop offset=".062" stop-color="#b5ff00"/><stop offset=".133" stop-color="#c7ff00"/><stop offset=".219" stop-color="#eaff00"/><stop offset=".297" stop-color="#feff00"/><stop offset=".359" stop-color="#fff500"/><stop offset=".477" stop-color="#fff400"/><stop offset=".523" stop-color="#fff600"/><stop offset=".562" stop-color="#fffe00"/><stop offset=".625" stop-color="#eaff00"/><stop offset=".656" stop-color="#dbff00"/><stop offset=".734" stop-color="#a2ff00"/><stop offset=".758" stop-color="#8fff13"/><stop offset=".812" stop-color="#6aff3d"/><stop offset=".82" stop-color="#61ff44"/><stop offset=".852" stop-color="#1aff4d"/><stop offset=".859" stop-color="#0bff4f"/><stop offset=".867" stop-color="#00ff50"/><stop offset=".914" stop-color="#00ff55"/><stop offset="1" stop-color="#00ff56"/></linearGradient>
<linearGradient id="g58"><stop offset="0" stop-color="#a1ff00"/><stop offset=".055" stop-color="#c0ff00"/><stop offset=".125" stop-color="#d2ff00"/><stop offset=".234" stop-color="#ffff00"/><stop offset=".336" stop-color="#ffe300"/><stop offset=".391" stop-color="#ffdf00"/><stop offset=".516" stop-color="#ffe000"/><stop offset=".539" stop-color="#ffe600"/><stop offset=".602" stop-color="#fffe00"/><stop offset=".633" stop-color="#f3ff00"/><stop offset=".68" stop-color="#d8ff00"/><stop offset=".75" stop-color="#a3ff00"/><stop offset=".758" stop-color="#9dff03"/><stop offset=".789" stop-color="#87ff1d"/><stop offset=".812" stop-color="#73ff33"/><stop offset=".82" stop-color="#6aff3d"/><stop offset=".828" stop-color="#5cff45"/><stop offset=".852" stop-color="#1eff4c"/><stop offset=".859" stop-color="#0dff4e"/><stop offset=".867" stop-color="#01ff50"/><stop offset=".914" stop-color="#00ff55"/><stop offset="1" stop-color="#00ff56"/></linearGradient>
<linearGradient id="g59"><stop offset="0" stop-color="#a2ff00"/><stop offset=".039" stop-color="#bbff00"/><stop offset=".062" stop-color="#c6ff00"/><stop offset=".141" stop-color="#dbff00"/><stop offset=".234" stop-color="#fffe00"/><stop offset=".336" stop-color="#ffe200"/><stop offset=".383" stop-color="#ffdd00"/><stop offset=".516" stop-color="#ffe000"/><stop offset=".539" stop-color="#ffe600"/><stop offset=".602" stop-color="#fffe00"/><stop offset=".633" stop-color="#f4ff00"/><stop offset=".656" stop-color="#e7ff00"/><stop offset=".758" stop-color="#a2ff00"/><stop offset=".805" stop-color="#81ff23"/><stop offset=".82" stop-color="#70ff36"/><stop offset=".828" stop-color="#65ff43"/><stop offset=".852" stop-color="#23ff4c"/><stop offset=".859" stop-color="#11ff4e"/><stop offset=".867" stop-color="#03ff50"/><stop offset=".875" stop-color="#00ff51"/><stop offset=".914" stop-color="#00ff55"/><stop offset="1" stop-color="#00ff56"/></linearGradient>
<linearGradient id="g60"><stop offset="0" stop-color="#a2ff00"/><stop offset=".039" stop-color="#bcff00"/><stop offset=".062" stop-color="#c7ff00"/><stop offset=".141" stop-color="#dcff00"/><stop offset=".234" stop-color="#ffff00"/><stop offset=".336" stop-color="#ffe600"/><stop offset=".383" stop-color="#ffe100"/><stop offset=".508" stop-color="#ffe500"/><stop offset=".531" stop-color="#ffea00"/><stop offset=".594" stop-color="#fffe00"/><stop offset=".633" stop-color="#f1ff00"/><stop offset=".664" stop-color="#e1ff00"/><stop offset=".766" stop-color="#a0ff00"/><stop offset=".805" stop-color="#86ff1e"/><stop offset=".82" stop-color="#75ff31"/><stop offset=".828" stop-color="#69ff3e"/><stop offset=".836" stop-color="#57ff46"/><stop offset=".852" stop-color="#29ff4b"/><stop offset=".859" stop-color="#16ff4d"/><stop offset=".867" stop-color="#07ff4f"/><stop offset=".875" stop-color="#00ff50"/><stop offset=".922" stop-color="#00ff56"/><stop offset="1" stop-color="#00ff56"/></linearGradient>
<linearGradient id="g61"><stop offset="0" stop-color="#a2ff00"/><stop offset=".039" stop-color="#bcff00"/><stop offset=".062" stop-color="#c8ff00"/><stop offset=".141" stop-color="#ddff00"/><stop offset=".234" stop-color="#feff00"/><stop offset=".344" stop-color="#ffe800"/><stop offset=".383" stop-color="#ffe500"/><stop offset=".508" stop-color="#ffec00"/><stop offset=".586" stop-color="#feff00"/><stop offset=".641" stop-color="#ebff00"/><stop offset=".68" stop-color="#d8ff00"/><stop offset=".742" stop-color="#aeff00"/><stop offset=".766" stop-color="#a1ff00"/><stop offset=".805" stop-color="#89ff1b"/><stop offset=".82" stop-color="#78ff2d"/><stop offset=".828" stop-color="#6dff3a"/><stop offset=".836" stop-color="#5cff45"/><stop offset=".852" stop-color="#2dff4b"/><stop offset=".859" stop-color="#19ff4d"/><stop offset=".867" stop-color="#0aff4f"/><stop offset=".875" stop-color="#01ff50"/><stop offset=".922" stop-color="#00ff56"/><stop offset="1" stop-color="#00ff56"/></linearGradient>
<linearGradient id="g62"><stop offset="0" stop-color="#a2ff00"/><stop offset=".039" stop-color="#bcff00"/><stop offset=".07" stop-color="#ccff00"/><stop offset=".234" stop-color="#ffff00"/><stop offset=".328" stop-color="#ffec00"/><stop offset=".375" stop-color="#ffe800"/><stop offset=".492" stop-color="#ffef00"/><stop offset=".57" stop-color="#ffff00"/><stop offset=".633" stop-color="#eaff00"/><stop offset=".68" stop-color="#d7ff00"/><stop offset=".742" stop-color="#aeff00"/><stop offset=".766" stop-color="#a1ff00"/><stop offset=".805" stop-color="#88ff1b"/><stop offset=".82" stop-color="#78ff2d"/><stop offset=".828" stop-color="#6cff3b"/><stop offset=".836" stop-color="#5bff45"/><stop offset=".852" stop-color="#2dff4b"/><stop offset=".859" stop-color="#19ff4d"/><stop offset=".867" stop-color="#0aff4f"/><stop offset=".875" stop-color="#01ff50"/><stop offset=".922" stop-color="#00ff55"/><stop offset="1" stop-color="#00ff56"/></linearGradient>
<linearGradient id="g63"><stop offset="0" stop-color="#a2ff00"/><stop offset=".047" stop-color="#c2ff00"/><stop offset=".078" stop-color="#d1ff00"/><stop offset=".219" stop-color="#ffff00"/><stop offset=".32" stop-color="#ffed00"/><stop offset=".375" stop-color="#ffe900"/><stop offset=".469" stop-color="#ffef00"/><stop offset=".516" stop-color="#fff500"/><stop offset=".555" stop-color="#fffe00"/><stop offset=".672" stop-color="#d8ff00"/><stop offset=".758" stop-color="#a2ff00"/><stop offset=".766" stop-color="#9eff02"/><stop offset=".805" stop-color="#84ff1f"/><stop offset=".82" stop-color="#74ff32"/><stop offset=".828" stop-color="#68ff3f"/><stop offset=".836" stop-color="#54ff46"/><stop offset=".852" stop-color="#27ff4b"/><stop offset=".859" stop-color="#13ff4e"/><stop offset=".867" stop-color="#05ff4f"/><stop offset=".875" stop-color="#00ff51"/><stop offset=".922" stop-color="#00ff56"/><stop offset="1" stop-color="#00ff57"/></linearGradient>
<linearGradient id="g64"><stop offset="0" stop-color="#a2ff00"/><stop offset=".047" stop-color="#c2ff00"/><stop offset=".086" stop-color="#d7ff00"/><stop offset=".195" stop-color="#feff00"/><stop offset=".242" stop-color="#fff500"/><stop offset=".375" stop-color="#ffea00"/><stop offset=".5" stop-color="#fff500"/><stop offset=".547" stop-color="#ffff00"/><stop offset=".664" stop-color="#d7ff00"/><stop offset=".75" stop-color="#a3ff00"/><stop offset=".758" stop-color="#9eff02"/><stop offset=".797" stop-color="#84ff20"/><stop offset=".812" stop-color="#76ff2f"/><stop offset=".82" stop-color="#6dff3a"/><stop offset=".828" stop-color="#60ff45"/><stop offset=".852" stop-color="#1dff4c"/><stop offset=".859" stop-color="#0bff4f"/><stop offset=".867" stop-color="#00ff51"/><stop offset=".891" stop-color="#00ff54"/><stop offset="1" stop-color="#00ff59"/></linearGradient>
<linearGradient id="g65"><stop offset="0" stop-color="#a2ff00"/><stop offset=".078" stop-color="#d6ff00"/><stop offset=".18" stop-color="#feff00"/><stop offset=".242" stop-color="#fff000"/><stop offset=".375" stop-color="#ffec00"/><stop offset=".438" stop-color="#fff000"/><stop offset=".539" stop-color="#feff00"/><stop offset=".648" stop-color="#d8ff00"/><stop offset=".742" stop-color="#a3ff00"/><stop offset=".75" stop-color="#9eff02"/><stop offset=".797" stop-color="#7cff28"/><stop offset=".82" stop-color="#65ff43"/><stop offset=".828" stop-color="#53ff46"/><stop offset=".852" stop-color="#13ff4e"/><stop offset=".859" stop-color="#02ff50"/><stop offset=".875" stop-color="#00ff55"/><stop offset=".953" stop-color="#00ff56"/><stop offset="1" stop-color="#00ff5b"/></linearGradient>
<linearGradient id="g66"><stop offset="0" stop-color="#a3ff00"/><stop offset=".078" stop-color="#d9ff00"/><stop offset=".18" stop-color="#ffff00"/><stop offset=".242" stop-color="#fff000"/><stop offset=".32" stop-color="#ffee00"/><stop offset=".406" stop-color="#ffef00"/><stop offset=".523" stop-color="#ffff00"/><stop offset=".641" stop-color="#d5ff00"/><stop offset=".734" stop-color="#a2ff00"/><stop offset=".742" stop-color="#9dff03"/><stop offset=".789" stop-color="#7aff2b"/><stop offset=".812" stop-color="#66ff42"/><stop offset=".82" stop-color="#58ff45"/><stop offset=".828" stop-color="#46ff48"/><stop offset=".852" stop-color="#0aff4f"/><stop offset=".859" stop-color="#00ff52"/><stop offset=".875" stop-color="#00ff56"/><stop offset=".945" stop-color="#00ff57"/><stop offset="1" stop-color="#00ff5c"/></linearGradient>
<linearGradient id="g67"><stop offset="0" stop-color="#a6ff00"/><stop offset=".07" stop-color="#d8ff00"/><stop offset=".18" stop-color="#feff00"/><stop offset=".234" stop-color="#fff300"/><stop offset=".32" stop-color="#fff100"/><stop offset=".414" stop-color="#fff300"/><stop offset=".508" stop-color="#ffff00"/><stop offset=".547" stop-color="#f4ff00"/><stop offset=".625" stop-color="#d6ff00"/><stop offset=".68" stop-color="#bbff00"/><stop offset=".727" stop-color="#9fff01"/><stop offset=".805" stop-color="#62ff44"/><stop offset=".82" stop-color="#48ff47"/><stop offset=".852" stop-color="#01ff50"/><stop offset=".875" stop-color="#00ff58"/><stop offset=".945" stop-color="#00ff58"/><stop offset="1" stop-color="#00ff5e"/></linearGradient>
<linearGradient id="g68"><stop offset="0" stop-color="#acff00"/><stop offset=".039" stop-color="#caff00"/><stop offset=".062" stop-color="#d9ff00"/><stop offset=".195" stop-color="#fffe00"/><stop offset=".242" stop-color="#fff600"/><stop offset=".328" stop-color="#fff500"/><stop offset=".398" stop-color="#fff600"/><stop offset=".477" stop-color="#fffe00"/><stop offset=".5" stop-color="#fcff00"/><stop offset=".539" stop-color="#f2ff00"/><stop offset=".609" stop-color="#d7ff00"/><stop offset=".711" stop-color="#a1ff00"/><stop offset=".789" stop-color="#63ff44"/><stop offset=".805" stop-color="#4eff47"/><stop offset=".82" stop-color="#36ff4a"/><stop offset=".844" stop-color="#07ff4f"/><stop offset=".852" stop-color="#00ff52"/><stop offset=".875" stop-color="#00ff59"/><stop offset=".945" stop-color="#00ff59"/><stop offset="1" stop-color="#00ff5f"/></linearGradient>
<linearGradient id="g69"><stop offset="0" stop-color="#b2ff00"/><stop offset=".039" stop-color="#d0ff00"/><stop offset=".055" stop-color="#d9ff00"/><stop offset=".203" stop-color="#feff00"/><stop offset=".25" stop-color="#fffa00"/><stop offset=".352" stop-color="#fff900"/><stop offset=".445" stop-color="#fffe00"/><stop offset=".5" stop-color="#f7ff00"/><stop offset=".539" stop-color="#edff00"/><stop offset=".594" stop-color="#d8ff00"/><stop offset=".695" stop-color="#a3ff00"/><stop offset=".703" stop-color="#9dff03"/><stop offset=".75" stop-color="#75ff31"/><stop offset=".773" stop-color="#62ff44"/><stop offset=".812" stop-color="#30ff4a"/><stop offset=".836" stop-color="#09ff4f"/><stop offset=".844" stop-color="#00ff51"/><stop offset=".875" stop-color="#00ff5b"/><stop offset=".945" stop-color="#00ff5b"/><stop offset="1" stop-color="#00ff61"/></linearGradient>
<linearGradient id="g70"><stop offset="0" stop-color="#b7ff00"/><stop offset=".039" stop-color="#d5ff00"/><stop offset=".062" stop-color="#dfff00"/><stop offset=".219" stop-color="#fdff00"/><stop offset=".406" stop-color="#ffff00"/><stop offset=".492" stop-color="#f3ff00"/><stop offset=".531" stop-color="#eaff00"/><stop offset=".578" stop-color="#d9ff00"/><stop offset=".688" stop-color="#a0ff00"/><stop offset=".758" stop-color="#66ff41"/><stop offset=".836" stop-color="#00ff51"/><stop offset=".859" stop-color="#00ff5a"/><stop offset=".875" stop-color="#00ff5c"/><stop offset=".953" stop-color="#00ff5e"/><stop offset="1" stop-color="#00ff63"/></linearGradient>
<linearGradient id="g71"><stop offset="0" stop-color="#bdff00"/><stop offset=".031" stop-color="#d4ff00"/><stop offset=".055" stop-color="#dfff00"/><stop offset=".219" stop-color="#f8ff00"/><stop offset=".391" stop-color="#f9ff00"/><stop offset=".5" stop-color="#eaff00"/><stop offset=".562" stop-color="#d8ff00"/><stop offset=".672" stop-color="#a2ff00"/><stop offset=".688" stop-color="#98ff09"/><stop offset=".75" stop-color="#67ff41"/><stop offset=".758" stop-color="#5eff45"/><stop offset=".797" stop-color="#25ff4c"/><stop offset=".828" stop-color="#00ff51"/><stop offset=".867" stop-color="#00ff5d"/><stop offset="1" stop-color="#00ff64"/></linearGradient>
<linearGradient id="g72"><stop offset="0" stop-color="#c2ff00"/><stop offset=".031" stop-color="#d8ff00"/><stop offset=".055" stop-color="#e1ff00"/><stop offset=".219" stop-color="#f3ff00"/><stop offset=".391" stop-color="#f2ff00"/><stop offset=".5" stop-color="#e3ff00"/><stop offset=".547" stop-color="#d6ff00"/><stop offset=".656" stop-color="#a3ff00"/><stop offset=".664" stop-color="#9fff01"/><stop offset=".703" stop-color="#85ff1e"/><stop offset=".75" stop-color="#60ff44"/><stop offset=".797" stop-color="#17ff4d"/><stop offset=".812" stop-color="#03ff50"/><stop offset=".82" stop-color="#00ff51"/><stop offset=".875" stop-color="#00ff5f"/><stop offset="1" stop-color="#00ff66"/></linearGradient>
<linearGradient id="g73"><stop offset="0" stop-color="#c6ff00"/><stop offset=".023" stop-color="#d6ff00"/><stop offset=".055" stop-color="#e2ff00"/><stop offset=".195" stop-color="#edff00"/><stop offset=".273" stop-color="#eeff00"/><stop offset=".383" stop-color="#eaff00"/><stop offset=".5" stop-color="#dbff00"/><stop offset=".539" stop-color="#cfff00"/><stop offset=".641" stop-color="#a1ff00"/><stop offset=".68" stop-color="#8cff16"/><stop offset=".727" stop-color="#6dff39"/><stop offset=".742" stop-color="#60ff44"/><stop offset=".75" stop-color="#56ff46"/><stop offset=".797" stop-color="#08ff4f"/><stop offset=".805" stop-color="#00ff51"/><stop offset=".875" stop-color="#00ff61"/><stop offset=".922" stop-color="#00ff66"/><stop offset="1" stop-color="#00ff68"/></linearGradient>
<linearGradient id="g74"><stop offset="0" stop-color="#c6ff00"/><stop offset=".023" stop-color="#d6ff00"/><stop offset=".047" stop-color="#e0ff00"/><stop offset=".109" stop-color="#e6ff00"/><stop offset=".328" stop-color="#e5ff00"/><stop offset=".406" stop-color="#e1ff00"/><stop offset=".477" stop-color="#d7ff00"/><stop offset=".531" stop-color="#c7ff00"/><stop offset=".625" stop-color="#9fff01"/><stop offset=".68" stop-color="#83ff21"/><stop offset=".711" stop-color="#6fff37"/><stop offset=".727" stop-color="#65ff43"/><stop offset=".742" stop-color="#51ff46"/><stop offset=".758" stop-color="#3bff49"/><stop offset=".789" stop-color="#04ff50"/><stop offset=".797" stop-color="#00ff53"/><stop offset=".836" stop-color="#00ff5e"/><stop offset=".906" stop-color="#00ff68"/><stop offset="1" stop-color="#00ff68"/></linearGradient>
<linearGradient id="g75"><stop offset="0" stop-color="#c4ff00"/><stop offset=".031" stop-color="#d6ff00"/><stop offset=".047" stop-color="#dcff00"/><stop offset=".102" stop-color="#e1ff00"/><stop offset=".32" stop-color="#deff00"/><stop offset=".391" stop-color="#daff00"/><stop offset=".438" stop-color="#d4ff00"/><stop offset=".523" stop-color="#bfff00"/><stop offset=".602" stop-color="#a0ff00"/><stop offset=".688" stop-color="#74ff32"/><stop offset=".711" stop-color="#65ff43"/><stop offset=".719" stop-color="#5bff45"/><stop offset=".75" stop-color="#32ff4a"/><stop offset=".781" stop-color="#00ff51"/><stop offset=".828" stop-color="#00ff63"/><stop offset=".891" stop-color="#00ff6d"/><stop offset=".938" stop-color="#00ff6f"/><stop offset="1" stop-color="#00ff68"/></linearGradient>
<linearGradient id="g76"><stop offset="0" stop-color="#c0ff00"/><stop offset=".047" stop-color="#d4ff00"/><stop offset=".094" stop-color="#d8ff00"/><stop offset=".312" stop-color="#d5ff00"/><stop offset=".383" stop-color="#d1ff00"/><stop offset=".422" stop-color="#ccff00"/><stop offset=".516" stop-color="#b5ff00"/><stop offset=".578" stop-color="#a0ff00"/><stop offset=".68" stop-color="#6eff39"/><stop offset=".695" stop-color="#64ff44"/><stop offset=".703" stop-color="#5bff45"/><stop offset=".766" stop-color="#01ff50"/><stop offset=".82" stop-color="#00ff67"/><stop offset=".875" stop-color="#00ff75"/><stop offset=".93" stop-color="#00ff75"/><stop offset="1" stop-color="#00ff69"/></linearGradient>
<linearGradient id="g77"><stop offset="0" stop-color="#bbff00"/><stop offset=".047" stop-color="#c8ff00"/><stop offset=".102" stop-color="#cbff00"/><stop offset=".32" stop-color="#c9ff00"/><stop offset=".414" stop-color="#c2ff00"/><stop offset=".547" stop-color="#a0ff00"/><stop offset=".672" stop-color="#67ff40"/><stop offset=".68" stop-color="#62ff44"/><stop offset=".695" stop-color="#51ff46"/><stop offset=".742" stop-color="#09ff4f"/><stop offset=".75" stop-color="#00ff51"/><stop offset=".844" stop-color="#00ff77"/><stop offset=".875" stop-color="#00ff7f"/><stop offset=".93" stop-color="#00ff7b"/><stop offset="1" stop-color="#00ff69"/></linearGradient>
<linearGradient id="g78"><stop offset="0" stop-color="#b5ff00"/><stop offset=".047" stop-color="#bdff00"/><stop offset=".102" stop-color="#beff00"/><stop offset=".328" stop-color="#bdff00"/><stop offset=".414" stop-color="#b7ff00"/><stop offset=".508" stop-color="#a0ff00"/><stop offset=".578" stop-color="#86ff1e"/><stop offset=".656" stop-color="#63ff44"/><stop offset=".68" stop-color="#4eff47"/><stop offset=".695" stop-color="#3cff49"/><stop offset=".734" stop-color="#00ff51"/><stop offset=".852" stop-color="#00ff83"/><stop offset=".875" stop-color="#00ff88"/><stop offset=".898" stop-color="#00ff86"/><stop offset=".938" stop-color="#00ff7e"/><stop offset="1" stop-color="#00ff69"/></linearGradient>
<linearGradient id="g79"><stop offset="0" stop-color="#afff00"/><stop offset=".062" stop-color="#b2ff00"/><stop offset=".289" stop-color="#b2ff00"/><stop offset=".375" stop-color="#b1ff00"/><stop offset=".414" stop-color="#adff00"/><stop offset=".469" stop-color="#9fff01"/><stop offset=".547" stop-color="#85ff1f"/><stop offset=".625" stop-color="#65ff43"/><stop offset=".656" stop-color="#4dff47"/><stop offset=".68" stop-color="#38ff49"/><stop offset=".695" stop-color="#26ff4b"/><stop offset=".719" stop-color="#01ff50"/><stop offset=".852" stop-color="#00ff89"/><stop offset=".875" stop-color="#00ff8e"/><stop offset=".898" stop-color="#00ff8c"/><stop offset=".938" stop-color="#00ff82"/><stop offset="1" stop-color="#00ff69"/></linearGradient>
<linearGradient id="g80"><stop offset="0" stop-color="#a6ff00"/><stop offset=".367" stop-color="#a7ff00"/><stop offset=".414" stop-color="#a3ff00"/><stop offset=".43" stop-color="#a0ff00"/><stop offset=".453" stop-color="#99ff08"/><stop offset=".531" stop-color="#7fff26"/><stop offset=".594" stop-color="#65ff43"/><stop offset=".664" stop-color="#2eff4a"/><stop offset=".688" stop-color="#16ff4d"/><stop offset=".703" stop-color="#02ff50"/><stop offset=".758" stop-color="#00ff69"/><stop offset=".867" stop-color="#00fe92"/><stop offset=".891" stop-color="#00ff92"/><stop offset=".914" stop-color="#00ff8c"/><stop offset=".953" stop-color="#00ff80"/><stop offset="1" stop-color="#00ff6b"/></linearGradient>
<linearGradient id="g81"><stop offset="0" stop-color="#9bff06"/><stop offset=".398" stop-color="#9bff06"/><stop offset=".438" stop-color="#92ff10"/><stop offset=".508" stop-color="#7bff2a"/><stop offset=".57" stop-color="#62ff44"/><stop offset=".633" stop-color="#31ff4a"/><stop offset=".68" stop-color="#04ff50"/><stop offset=".688" stop-color="#00ff51"/><stop offset=".844" stop-color="#00ff90"/><stop offset=".867" stop-color="#00fe97"/><stop offset=".891" stop-color="#00fe96"/><stop offset=".914" stop-color="#00ff90"/><stop offset=".953" stop-color="#00ff82"/><stop offset="1" stop-color="#00ff6c"/></linearGradient>
<linearGradient id="g82"><stop offset="0" stop-color="#8eff14"/><stop offset=".375" stop-color="#8fff13"/><stop offset=".406" stop-color="#8cff16"/><stop offset=".453" stop-color="#81ff24"/><stop offset=".539" stop-color="#63ff44"/><stop offset=".594" stop-color="#3aff49"/><stop offset=".656" stop-color="#03ff50"/><stop offset=".664" stop-color="#00ff51"/><stop offset=".844" stop-color="#00fe95"/><stop offset=".867" stop-color="#00fe9b"/><stop offset=".891" stop-color="#00fe9a"/><stop offset=".914" stop-color="#00fe93"/><stop offset=".953" stop-color="#00ff85"/><stop offset="1" stop-color="#00ff6e"/></linearGradient>
<linearGradient id="g83"><stop offset="0" stop-color="#83ff21"/><stop offset=".281" stop-color="#83ff21"/><stop offset=".398" stop-color="#7eff26"/><stop offset=".438" stop-color="#76ff2f"/><stop offset=".5" stop-color="#63ff44"/><stop offset=".547" stop-color="#46ff48"/><stop offset=".633" stop-color="#02ff50"/><stop offset=".641" stop-color="#00ff51"/><stop offset=".695" stop-color="#00ff61"/><stop offset=".836" stop-color="#00fe97"/><stop offset=".867" stop-color="#00fda0"/><stop offset=".883" stop-color="#00fda0"/><stop offset=".906" stop-color="#00fe99"/><stop offset="1" stop-color="#00ff71"/></linearGradient>
<linearGradient id="g84"><stop offset="0" stop-color="#74ff31"/><stop offset=".062" stop-color="#6aff3d"/><stop offset=".281" stop-color="#68ff3f"/><stop offset=".391" stop-color="#5fff45"/><stop offset=".438" stop-color="#53ff46"/><stop offset=".508" stop-color="#36ff4a"/><stop offset=".539" stop-color="#26ff4b"/><stop offset=".602" stop-color="#00ff50"/><stop offset=".695" stop-color="#00ff68"/><stop offset=".805" stop-color="#00fe93"/><stop offset=".867" stop-color="#00fda6"/><stop offset=".898" stop-color="#00fda2"/><stop offset="1" stop-color="#00ff74"/></linearGradient>
<linearGradient id="g85"><stop offset="0" stop-color="#5aff45"/><stop offset=".031" stop-color="#31ff4a"/><stop offset=".047" stop-color="#21ff4c"/><stop offset=".062" stop-color="#19ff4d"/><stop offset=".094" stop-color="#14ff4e"/><stop offset=".383" stop-color="#0fff4e"/><stop offset=".516" stop-color="#00ff50"/><stop offset=".562" stop-color="#00ff55"/><stop offset=".656" stop-color="#00ff66"/><stop offset=".734" stop-color="#00ff80"/><stop offset=".836" stop-color="#00fda8"/><stop offset=".867" stop-color="#00fcb0"/><stop offset=".883" stop-color="#00fcb0"/><stop offset=".898" stop-color="#00fcaa"/><stop offset=".938" stop-color="#00fe95"/><stop offset="1" stop-color="#00ff78"/></linearGradient>
<linearGradient id="g86"><stop offset="0" stop-color="#3eff49"/><stop offset=".039" stop-color="#09ff4f"/><stop offset=".047" stop-color="#01ff50"/><stop offset=".055" stop-color="#00ff51"/><stop offset=".117" stop-color="#00ff54"/><stop offset=".508" stop-color="#00ff55"/><stop offset=".547" stop-color="#00ff58"/><stop offset=".664" stop-color="#00ff71"/><stop offset=".742" stop-color="#00ff8b"/><stop offset=".844" stop-color="#00fcb4"/><stop offset=".867" stop-color="#00fbb9"/><stop offset=".883" stop-color="#00fbb9"/><stop offset=".898" stop-color="#00fcb3"/><stop offset=".938" stop-color="#00fe9b"/><stop offset="1" stop-color="#00ff7d"/></linearGradient>
<linearGradient id="g87"><stop offset="0" stop-color="#21ff4c"/><stop offset=".023" stop-color="#06ff4f"/><stop offset=".031" stop-color="#00ff51"/><stop offset=".055" stop-color="#00ff56"/><stop offset=".086" stop-color="#00ff58"/><stop offset=".5" stop-color="#00ff5d"/><stop offset=".547" stop-color="#00ff60"/><stop offset=".688" stop-color="#00ff81"/><stop offset=".836" stop-color="#00fbb9"/><stop offset=".867" stop-color="#00fbc1"/><stop offset=".883" stop-color="#00fbc1"/><stop offset=".898" stop-color="#00fbbb"/><stop offset="1" stop-color="#00ff7f"/></linearGradient>
<linearGradient id="g88"><stop offset="0" stop-color="#01ff50"/><stop offset=".062" stop-color="#00ff5b"/><stop offset=".273" stop-color="#00ff5c"/><stop offset=".547" stop-color="#00ff6e"/><stop offset=".688" stop-color="#00ff8a"/><stop offset=".805" stop-color="#00fbb7"/><stop offset=".867" stop-color="#00fac9"/><stop offset=".883" stop-color="#00fac8"/><stop offset=".898" stop-color="#00fbc2"/><stop offset="1" stop-color="#00ff81"/></linearGradient>
<linearGradient id="g89"><stop offset="0" stop-color="#00ff58"/><stop offset=".062" stop-color="#00ff5f"/><stop offset=".281" stop-color="#00ff61"/><stop offset=".547" stop-color="#00ff7a"/><stop offset=".688" stop-color="#00fe94"/><stop offset=".797" stop-color="#00fbbd"/><stop offset=".867" stop-color="#00fbd0"/><stop offset=".883" stop-color="#00fbcf"/><stop offset=".898" stop-color="#00fac9"/><stop offset="1" stop-color="#00ff82"/></linearGradient>
<linearGradient id="g90"><stop offset="0" stop-color="#00ff60"/><stop offset=".055" stop-color="#00ff65"/><stop offset=".273" stop-color="#00ff67"/><stop offset=".539" stop-color="#00ff83"/><stop offset=".688" stop-color="#00fe9c"/><stop offset=".797" stop-color="#00fac4"/><stop offset=".867" stop-color="#00fbd6"/><stop offset=".883" stop-color="#00fbd5"/><stop offset=".898" stop-color="#00fbcf"/><stop offset="1" stop-color="#00ff82"/></linearGradient>
<linearGradient id="g91"><stop offset="0" stop-color="#00ff66"/><stop offset=".07" stop-color="#00ff6d"/><stop offset=".273" stop-color="#00ff70"/><stop offset=".539" stop-color="#00ff8c"/><stop offset=".688" stop-color="#00fda4"/><stop offset=".797" stop-color="#00facb"/><stop offset=".867" stop-color="#00fcdd"/><stop offset=".883" stop-color="#00fcdc"/><stop offset=".898" stop-color="#00fbd4"/><stop offset="1" stop-color="#00ff82"/></linearGradient>
<linearGradient id="g92"><stop offset="0" stop-color="#00ff6c"/><stop offset=".094" stop-color="#00ff78"/><stop offset=".281" stop-color="#00ff7d"/><stop offset=".539" stop-color="#00fe94"/><stop offset=".688" stop-color="#00fcac"/><stop offset=".797" stop-color="#00fbd1"/><stop offset=".867" stop-color="#00fce3"/><stop offset=".883" stop-color="#00fce2"/><stop offset=".898" stop-color="#00fcd9"/><stop offset=".922" stop-color="#00fac4"/><stop offset="1" stop-color="#00ff82"/></linearGradient>
<linearGradient id="g93"><stop offset="0" stop-color="#00ff72"/><stop offset=".055" stop-color="#00ff7c"/><stop offset=".117" stop-color="#00ff84"/><stop offset=".398" stop-color="#00ff90"/><stop offset=".539" stop-color="#00fe9c"/><stop offset=".688" stop-color="#00fcb4"/><stop offset=".797" stop-color="#00fbd6"/><stop offset=".867" stop-color="#00fde9"/><stop offset=".883" stop-color="#00fde7"/><stop offset=".898" stop-color="#00fcde"/><stop offset=".922" stop-color="#00fac7"/><stop offset="1" stop-color="#00ff82"/></linearGradient>
<linearGradient id="g94"><stop offset="0" stop-color="#00ff76"/><stop offset=".062" stop-color="#00ff85"/><stop offset=".125" stop-color="#00ff8f"/><stop offset=".414" stop-color="#00fe98"/><stop offset=".539" stop-color="#00fda2"/><stop offset=".688" stop-color="#00fbba"/><stop offset=".867" stop-color="#00fdee"/><stop offset=".883" stop-color="#00fdec"/><stop offset=".898" stop-color="#00fce2"/><stop offset=".938" stop-color="#00fbba"/><stop offset="1" stop-color="#00ff82"/></linearGradient>
<linearGradient id="g95"><stop offset="0" stop-color="#00ff79"/><stop offset=".086" stop-color="#00ff8f"/><stop offset=".133" stop-color="#00fe96"/><stop offset=".227" stop-color="#00fe9b"/><stop offset=".414" stop-color="#00fe9d"/><stop offset=".547" stop-color="#00fda8"/><stop offset=".688" stop-color="#00fbc0"/><stop offset=".867" stop-color="#00fef3"/><stop offset=".883" stop-color="#00fef1"/><stop offset=".898" stop-color="#00fde6"/><stop offset=".938" stop-color="#00fbbb"/><stop offset="1" stop-color="#00ff82"/></linearGradient>
<linearGradient id="g96"><stop offset="0" stop-color="#00ff7c"/><stop offset=".086" stop-color="#00fe92"/><stop offset=".133" stop-color="#00fe9a"/><stop offset=".227" stop-color="#00fd9f"/><stop offset=".414" stop-color="#00fda0"/><stop offset=".547" stop-color="#00fcaa"/><stop offset=".688" stop-color="#00fac4"/><stop offset=".867" stop-color="#00fef7"/><stop offset=".883" stop-color="#00fef5"/><stop offset=".898" stop-color="#00fdea"/><stop offset=".938" stop-color="#00fbbd"/><stop offset="1" stop-color="#00ff82"/></linearGradient>
<linearGradient id="g97"><stop offset="0" stop-color="#00ff7e"/><stop offset=".086" stop-color="#00fe94"/><stop offset=".133" stop-color="#00fe9c"/><stop offset=".227" stop-color="#00fda1"/><stop offset=".422" stop-color="#00fda2"/><stop offset=".555" stop-color="#00fcad"/><stop offset=".664" stop-color="#00fbc2"/><stop offset=".867" stop-color="#00fffb"/><stop offset=".883" stop-color="#00fef9"/><stop offset=".898" stop-color="#00fded"/><stop offset=".938" stop-color="#00fbbf"/><stop offset="1" stop-color="#00ff82"/></linearGradient>
<linearGradient id="g98"><stop offset="0" stop-color="#00ff7f"/><stop offset=".086" stop-color="#00fe96"/><stop offset=".133" stop-color="#00fe9d"/><stop offset=".227" stop-color="#00fda2"/><stop offset=".422" stop-color="#00fda4"/><stop offset=".562" stop-color="#00fcb0"/><stop offset=".648" stop-color="#00fbc0"/><stop offset=".867" stop-color="#00ffff"/><stop offset=".883" stop-color="#00fffc"/><stop offset=".898" stop-color="#00fef0"/><stop offset=".938" stop-color="#00fbc0"/><stop offset="1" stop-color="#00ff82"/></linearGradient>
<linearGradient id="g99"><stop offset="0" stop-color="#00ff80"/><stop offset=".086" stop-color="#00fe97"/><stop offset=".133" stop-color="#00fd9e"/><stop offset=".227" stop-color="#00fda3"/><stop offset=".422" stop-color="#00fda5"/><stop offset=".562" stop-color="#00fcb1"/><stop offset=".641" stop-color="#00fbbf"/><stop offset=".859" stop-color="#00feff"/><stop offset=".883" stop-color="#00ffff"/><stop offset=".891" stop-color="#00fffa"/><stop offset=".906" stop-color="#00fdea"/><stop offset=".938" stop-color="#00fbc2"/><stop offset="1" stop-color="#00ff83"/></linearGradient>
<linearGradient id="g100"><stop offset="0" stop-color="#00ff81"/><stop offset=".086" stop-color="#00fe97"/><stop offset=".133" stop-color="#00fd9f"/><stop offset=".227" stop-color="#00fda4"/><stop offset=".422" stop-color="#00fda5"/><stop offset=".562" stop-color="#00fcb1"/><stop offset=".641" stop-color="#00fbc0"/><stop offset=".852" stop-color="#00ffff"/><stop offset=".867" stop-color="#00fcff"/><stop offset=".883" stop-color="#00feff"/><stop offset=".891" stop-color="#00fffb"/><stop offset=".906" stop-color="#00fdeb"/><stop offset=".938" stop-color="#00fac2"/><stop offset="1" stop-color="#00ff83"/></linearGradient>
<linearGradient id="g101"><stop offset="0" stop-color="#00ff81"/><stop offset=".086" stop-color="#00fe97"/><stop offset=".133" stop-color="#00fd9f"/><stop offset=".227" stop-color="#00fda4"/><stop offset=".422" stop-color="#00fda5"/><stop offset=".562" stop-color="#00fcb1"/><stop offset=".641" stop-color="#00fbc0"/><stop offset=".852" stop-color="#00ffff"/><stop offset=".867" stop-color="#00fcff"/><stop offset=".883" stop-color="#00feff"/><stop offset=".891" stop-color="#00fffc"/><stop offset=".906" stop-color="#00fdeb"/><stop offset=".938" stop-color="#00fac2"/><stop offset="1" stop-color="#00ff83"/></linearGradient>
<linearGradient id="g102"><stop offset="0" stop-color="#00ff81"/><stop offset=".086" stop-color="#00fe97"/><stop offset=".133" stop-color="#00fd9f"/><stop offset=".227" stop-color="#00fda4"/><stop offset=".422" stop-color="#00fda5"/><stop offset=".562" stop-color="#00fcb1"/><stop offset=".641" stop-color="#00fbc0"/><stop offset=".852" stop-color="#00ffff"/><stop offset=".867" stop-color="#00fcff"/><stop offset=".883" stop-color="#00feff"/><stop offset=".891" stop-color="#00fffc"/><stop offset=".906" stop-color="#00fdeb"/><stop offset=".938" stop-color="#00fac2"/><stop offset="1" stop-color="#00ff83"/></linearGradient>
<linearGradient id="g103"><stop offset="0" stop-color="#00ff81"/><stop offset=".086" stop-color="#00fe97"/><stop offset=".133" stop-color="#00fd9f"/><stop offset=".227" stop-color="#00fda4"/><stop offset=".422" stop-color="#00fda5"/><stop offset=".562" stop-color="#00fcb1"/><stop offset=".641" stop-color="#00fbc0"/><stop offset=".852" stop-color="#00ffff"/><stop offset=".867" stop-color="#00fcff"/><stop offset=".883" stop-color="#00feff"/><stop offset=".891" stop-color="#00fffc"/><stop offset=".906" stop-color="#00fdeb"/><stop offset=".938" stop-color="#00fac2"/><stop offset="1" stop-color="#00ff83"/></linearGradient>
<clipPath id="c2"><rect x="158.3" y="961" width="815.9" height="653"/></clipPath>
<linearGradient id="g104"><stop offset="0" stop-color="#1cff4d"/><stop offset=".062" stop-color="#32ff4a"/><stop offset=".289" stop-color="#64ff44"/><stop offset=".461" stop-color="#71ff36"/><stop offset=".578" stop-color="#71ff36"/><stop offset=".633" stop-color="#6eff39"/><stop offset=".695" stop-color="#63ff44"/><stop offset=".742" stop-color="#5fff45"/><stop offset=".812" stop-color="#5fff45"/><stop offset=".836" stop-color="#5bff45"/><stop offset=".883" stop-color="#47ff47"/><stop offset=".938" stop-color="#23ff4c"/><stop offset="1" stop-color="#01ff50"/></linearGradient>
<linearGradient id="g105"><stop offset="0" stop-color="#1cff4d"/><stop offset=".062" stop-color="#32ff4a"/><stop offset=".289" stop-color="#64ff44"/><stop offset=".461" stop-color="#71ff36"/><stop offset=".578" stop-color="#71ff36"/><stop offset=".633" stop-color="#6eff39"/><stop offset=".695" stop-color="#63ff44"/><stop offset=".742" stop-color="#5fff45"/><stop offset=".812" stop-color="#5fff45"/><stop offset=".836" stop-color="#5bff45"/><stop offset=".883" stop-color="#47ff47"/><stop offset=".938" stop-color="#23ff4c"/><stop offset="1" stop-color="#01ff50"/></linearGradient>
<linearGradient id="g106"><stop offset="0" stop-color="#1cff4d"/><stop offset=".062" stop-color="#32ff4a"/><stop offset=".289" stop-color="#64ff44"/><stop offset=".461" stop-color="#71ff36"/><stop offset=".578" stop-color="#71ff36"/><stop offset=".633" stop-color="#6eff39"/><stop offset=".695" stop-color="#63ff44"/><stop offset=".742" stop-color="#5fff45"/><stop offset=".812" stop-color="#5fff45"/><stop offset=".836" stop-color="#5bff45"/><stop offset=".883" stop-color="#47ff47"/><stop offset=".938" stop-color="#23ff4c"/><stop offset="1" stop-color="#01ff50"/></linearGradient>
<linearGradient id="g107"><stop offset="0" stop-color="#44ff48"/><stop offset=".047" stop-color="#66ff41"/><stop offset=".133" stop-color="#83ff20"/><stop offset=".203" stop-color="#9fff01"/><stop offset=".211" stop-color="#a2ff00"/><stop offset=".305" stop-color="#b7ff00"/><stop offset=".445" stop-color="#ccff00"/><stop offset=".5" stop-color="#d0ff00"/><stop offset=".578" stop-color="#cdff00"/><stop offset=".633" stop-color="#c8ff00"/><stop offset=".68" stop-color="#b8ff00"/><stop offset=".711" stop-color="#b2ff00"/><stop offset=".812" stop-color="#adff00"/><stop offset=".852" stop-color="#a2ff00"/><stop offset=".859" stop-color="#9dff03"/><stop offset=".883" stop-color="#8eff15"/><stop offset=".922" stop-color="#67ff41"/><stop offset=".93" stop-color="#5cff45"/><stop offset=".969" stop-color="#25ff4c"/><stop offset=".992" stop-color="#09ff4f"/><stop offset="1" stop-color="#03ff50"/></linearGradient>
<linearGradient id="g108"><stop offset="0" stop-color="#58ff45"/><stop offset=".016" stop-color="#67ff40"/><stop offset=".055" stop-color="#81ff23"/><stop offset=".133" stop-color="#a2ff00"/><stop offset=".227" stop-color="#cdff00"/><stop offset=".266" stop-color="#d9ff00"/><stop offset=".469" stop-color="#fcff00"/><stop offset=".508" stop-color="#feff00"/><stop offset=".562" stop-color="#fbff00"/><stop offset=".625" stop-color="#f4ff00"/><stop offset=".711" stop-color="#e1ff00"/><stop offset=".805" stop-color="#d4ff00"/><stop offset=".828" stop-color="#ceff00"/><stop offset=".852" stop-color="#c3ff00"/><stop offset=".875" stop-color="#b5ff00"/><stop offset=".898" stop-color="#a2ff00"/><stop offset=".945" stop-color="#67ff41"/><stop offset=".953" stop-color="#5aff45"/><stop offset=".992" stop-color="#12ff4e"/><stop offset="1" stop-color="#07ff4f"/></linearGradient>
<linearGradient id="g109"><stop offset="0" stop-color="#62ff44"/><stop offset=".008" stop-color="#68ff3f"/><stop offset=".047" stop-color="#8cff17"/><stop offset=".062" stop-color="#96ff0c"/><stop offset=".086" stop-color="#a0ff00"/><stop offset=".141" stop-color="#b3ff00"/><stop offset=".219" stop-color="#dfff00"/><stop offset=".281" stop-color="#f2ff00"/><stop offset=".352" stop-color="#fffe00"/><stop offset=".398" stop-color="#fff300"/><stop offset=".461" stop-color="#ffde00"/><stop offset=".5" stop-color="#ffd800"/><stop offset=".57" stop-color="#ffe000"/><stop offset=".703" stop-color="#ffff00"/><stop offset=".828" stop-color="#e1ff00"/><stop offset=".852" stop-color="#d8ff00"/><stop offset=".883" stop-color="#c3ff00"/><stop offset=".914" stop-color="#a5ff00"/><stop offset=".922" stop-color="#9cff05"/><stop offset=".961" stop-color="#67ff41"/><stop offset=".992" stop-color="#20ff4c"/><stop offset="1" stop-color="#12ff4e"/></linearGradient>
<linearGradient id="g110"><stop offset="0" stop-color="#66ff41"/><stop offset=".039" stop-color="#8dff16"/><stop offset=".062" stop-color="#9fff02"/><stop offset=".133" stop-color="#b9ff00"/><stop offset=".18" stop-color="#d7ff00"/><stop offset=".227" stop-color="#eeff00"/><stop offset=".281" stop-color="#ffff00"/><stop offset=".352" stop-color="#fff000"/><stop offset=".422" stop-color="#ffd600"/><stop offset=".5" stop-color="#ffce00"/><stop offset=".617" stop-color="#ffd700"/><stop offset=".75" stop-color="#fffe00"/><stop offset=".797" stop-color="#f3ff00"/><stop offset=".844" stop-color="#e2ff00"/><stop offset=".867" stop-color="#d7ff00"/><stop offset=".891" stop-color="#c5ff00"/><stop offset=".922" stop-color="#a6ff00"/><stop offset=".93" stop-color="#9dff03"/><stop offset=".969" stop-color="#65ff43"/><stop offset=".992" stop-color="#29ff4b"/><stop offset="1" stop-color="#19ff4d"/></linearGradient>
<linearGradient id="g111"><stop offset="0" stop-color="#6aff3d"/><stop offset=".039" stop-color="#8fff14"/><stop offset=".062" stop-color="#a1ff00"/><stop offset=".125" stop-color="#bdff00"/><stop offset=".203" stop-color="#e8ff00"/><stop offset=".258" stop-color="#feff00"/><stop offset=".32" stop-color="#fff100"/><stop offset=".422" stop-color="#ffd600"/><stop offset=".5" stop-color="#ffcf00"/><stop offset=".609" stop-color="#ffd600"/><stop offset=".742" stop-color="#fffe00"/><stop offset=".797" stop-color="#efff00"/><stop offset=".852" stop-color="#dbff00"/><stop offset=".875" stop-color="#cdff00"/><stop offset=".898" stop-color="#baff00"/><stop offset=".922" stop-color="#a3ff00"/><stop offset=".93" stop-color="#9aff07"/><stop offset=".969" stop-color="#62ff44"/><stop offset=".992" stop-color="#26ff4b"/><stop offset="1" stop-color="#17ff4d"/></linearGradient>
<linearGradient id="g112"><stop offset="0" stop-color="#6dff3a"/><stop offset=".047" stop-color="#96ff0b"/><stop offset=".062" stop-color="#a2ff00"/><stop offset=".164" stop-color="#daff00"/><stop offset=".25" stop-color="#feff00"/><stop offset=".352" stop-color="#ffe500"/><stop offset=".422" stop-color="#ffd700"/><stop offset=".508" stop-color="#ffd200"/><stop offset=".578" stop-color="#ffd700"/><stop offset=".719" stop-color="#ffff00"/><stop offset=".836" stop-color="#d6ff00"/><stop offset=".875" stop-color="#c0ff00"/><stop offset=".906" stop-color="#a8ff00"/><stop offset=".914" stop-color="#a1ff00"/><stop offset=".922" stop-color="#98ff09"/><stop offset=".961" stop-color="#66ff42"/><stop offset=".992" stop-color="#1dff4d"/><stop offset="1" stop-color="#0fff4e"/></linearGradient>
<linearGradient id="g113"><stop offset="0" stop-color="#70ff36"/><stop offset=".055" stop-color="#9dff03"/><stop offset=".062" stop-color="#a3ff00"/><stop offset=".148" stop-color="#d8ff00"/><stop offset=".242" stop-color="#feff00"/><stop offset=".359" stop-color="#ffe000"/><stop offset=".438" stop-color="#ffd700"/><stop offset=".5" stop-color="#ffd500"/><stop offset=".547" stop-color="#ffd800"/><stop offset=".688" stop-color="#fffe00"/><stop offset=".797" stop-color="#d8ff00"/><stop offset=".859" stop-color="#b9ff00"/><stop offset=".898" stop-color="#a1ff00"/><stop offset=".922" stop-color="#8aff19"/><stop offset=".953" stop-color="#68ff40"/><stop offset=".961" stop-color="#5aff45"/><stop offset=".992" stop-color="#15ff4d"/><stop offset="1" stop-color="#08ff4f"/></linearGradient>
<linearGradient id="g114"><stop offset="0" stop-color="#75ff31"/><stop offset=".016" stop-color="#80ff25"/><stop offset=".055" stop-color="#a0ff00"/><stop offset=".133" stop-color="#d8ff00"/><stop offset=".227" stop-color="#feff00"/><stop offset=".352" stop-color="#ffdb00"/><stop offset=".453" stop-color="#ffd600"/><stop offset=".539" stop-color="#ffdd00"/><stop offset=".664" stop-color="#fffe00"/><stop offset=".703" stop-color="#f3ff00"/><stop offset=".773" stop-color="#d6ff00"/><stop offset=".875" stop-color="#a2ff00"/><stop offset=".891" stop-color="#97ff0a"/><stop offset=".93" stop-color="#78ff2d"/><stop offset=".953" stop-color="#5fff45"/><stop offset=".992" stop-color="#12ff4e"/><stop offset="1" stop-color="#05ff4f"/></linearGradient>
<linearGradient id="g115"><stop offset="0" stop-color="#7dff28"/><stop offset=".016" stop-color="#87ff1d"/><stop offset=".047" stop-color="#a1ff00"/><stop offset=".117" stop-color="#daff00"/><stop offset=".195" stop-color="#feff00"/><stop offset=".32" stop-color="#ffd700"/><stop offset=".375" stop-color="#ffd300"/><stop offset=".461" stop-color="#ffd600"/><stop offset=".523" stop-color="#ffdf00"/><stop offset=".648" stop-color="#fffe00"/><stop offset=".75" stop-color="#d6ff00"/><stop offset=".844" stop-color="#a1ff00"/><stop offset=".938" stop-color="#69ff3f"/><stop offset=".945" stop-color="#62ff44"/><stop offset=".961" stop-color="#4aff47"/><stop offset=".992" stop-color="#11ff4e"/><stop offset="1" stop-color="#05ff4f"/></linearGradient>
<linearGradient id="g116"><stop offset="0" stop-color="#86ff1d"/><stop offset=".031" stop-color="#9dff03"/><stop offset=".039" stop-color="#a3ff00"/><stop offset=".07" stop-color="#bcff00"/><stop offset=".102" stop-color="#daff00"/><stop offset=".125" stop-color="#e9ff00"/><stop offset=".164" stop-color="#feff00"/><stop offset=".227" stop-color="#ffe300"/><stop offset=".266" stop-color="#ffd700"/><stop offset=".375" stop-color="#ffcf00"/><stop offset=".461" stop-color="#ffd600"/><stop offset=".562" stop-color="#ffeb00"/><stop offset=".641" stop-color="#ffff00"/><stop offset=".727" stop-color="#d7ff00"/><stop offset=".812" stop-color="#a3ff00"/><stop offset=".82" stop-color="#9eff02"/><stop offset=".852" stop-color="#88ff1b"/><stop offset=".875" stop-color="#7bff2a"/><stop offset=".922" stop-color="#69ff3e"/><stop offset=".938" stop-color="#60ff44"/><stop offset=".961" stop-color="#45ff48"/><stop offset="1" stop-color="#05ff4f"/></linearGradient>
<linearGradient id="g117"><stop offset="0" stop-color="#91ff11"/><stop offset=".023" stop-color="#a2ff00"/><stop offset=".055" stop-color="#b9ff00"/><stop offset=".086" stop-color="#d7ff00"/><stop offset=".109" stop-color="#e9ff00"/><stop offset=".148" stop-color="#fffd00"/><stop offset=".219" stop-color="#ffd600"/><stop offset=".289" stop-color="#ffcf00"/><stop offset=".375" stop-color="#ffcc00"/><stop offset=".461" stop-color="#ffd500"/><stop offset=".508" stop-color="#ffe300"/><stop offset=".633" stop-color="#feff00"/><stop offset=".711" stop-color="#d6ff00"/><stop offset=".797" stop-color="#9fff01"/><stop offset=".844" stop-color="#7fff26"/><stop offset=".867" stop-color="#72ff34"/><stop offset=".914" stop-color="#65ff43"/><stop offset=".938" stop-color="#59ff45"/><stop offset=".961" stop-color="#41ff48"/><stop offset="1" stop-color="#05ff4f"/></linearGradient>
<linearGradient id="g118"><stop offset="0" stop-color="#9cff04"/><stop offset=".008" stop-color="#a1ff00"/><stop offset=".039" stop-color="#b8ff00"/><stop offset=".102" stop-color="#ecff00"/><stop offset=".133" stop-color="#fffe00"/><stop offset=".156" stop-color="#fff100"/><stop offset=".188" stop-color="#ffd900"/><stop offset=".203" stop-color="#ffd400"/><stop offset=".25" stop-color="#ffcd00"/><stop offset=".367" stop-color="#ffcc00"/><stop offset=".406" stop-color="#ffce00"/><stop offset=".461" stop-color="#ffd600"/><stop offset=".523" stop-color="#ffeb00"/><stop offset=".609" stop-color="#ffff00"/><stop offset=".641" stop-color="#f4ff00"/><stop offset=".688" stop-color="#daff00"/><stop offset=".773" stop-color="#a2ff00"/><stop offset=".828" stop-color="#7eff27"/><stop offset=".867" stop-color="#6aff3d"/><stop offset=".891" stop-color="#64ff44"/><stop offset=".938" stop-color="#52ff46"/><stop offset=".961" stop-color="#3cff49"/><stop offset="1" stop-color="#03ff50"/></linearGradient>
<linearGradient id="g119"><stop offset="0" stop-color="#aaff00"/><stop offset=".102" stop-color="#f3ff00"/><stop offset=".117" stop-color="#feff00"/><stop offset=".125" stop-color="#fffc00"/><stop offset=".141" stop-color="#fff300"/><stop offset=".18" stop-color="#ffd600"/><stop offset=".227" stop-color="#ffcc00"/><stop offset=".281" stop-color="#ffca00"/><stop offset=".391" stop-color="#ffcd00"/><stop offset=".453" stop-color="#ffd500"/><stop offset=".523" stop-color="#fff000"/><stop offset=".578" stop-color="#ffff00"/><stop offset=".625" stop-color="#f0ff00"/><stop offset=".672" stop-color="#d9ff00"/><stop offset=".75" stop-color="#a3ff00"/><stop offset=".758" stop-color="#9dff03"/><stop offset=".82" stop-color="#6cff3b"/><stop offset=".828" stop-color="#66ff42"/><stop offset=".836" stop-color="#5bff45"/><stop offset=".859" stop-color="#3dff49"/><stop offset=".875" stop-color="#32ff4a"/><stop offset=".938" stop-color="#22ff4c"/><stop offset=".961" stop-color="#16ff4d"/><stop offset=".984" stop-color="#03ff50"/><stop offset="1" stop-color="#00ff53"/></linearGradient>
<linearGradient id="g120"><stop offset="0" stop-color="#b8ff00"/><stop offset=".039" stop-color="#d6ff00"/><stop offset=".109" stop-color="#fffe00"/><stop offset=".133" stop-color="#fff100"/><stop offset=".172" stop-color="#ffd500"/><stop offset=".219" stop-color="#ffca00"/><stop offset=".258" stop-color="#ffc800"/><stop offset=".383" stop-color="#ffcd00"/><stop offset=".453" stop-color="#ffd600"/><stop offset=".516" stop-color="#fff100"/><stop offset=".562" stop-color="#ffff00"/><stop offset=".617" stop-color="#ebff00"/><stop offset=".656" stop-color="#d8ff00"/><stop offset=".734" stop-color="#a1ff00"/><stop offset=".805" stop-color="#68ff40"/><stop offset=".812" stop-color="#5fff45"/><stop offset=".82" stop-color="#52ff46"/><stop offset=".852" stop-color="#16ff4d"/><stop offset=".867" stop-color="#01ff50"/><stop offset="1" stop-color="#00ff57"/></linearGradient>
<linearGradient id="g121"><stop offset="0" stop-color="#c8ff00"/><stop offset=".031" stop-color="#dfff00"/><stop offset=".086" stop-color="#fdff00"/><stop offset=".117" stop-color="#fff200"/><stop offset=".164" stop-color="#ffd500"/><stop offset=".211" stop-color="#ffca00"/><stop offset=".25" stop-color="#ffc600"/><stop offset=".344" stop-color="#ffcb00"/><stop offset=".445" stop-color="#ffd600"/><stop offset=".547" stop-color="#fffe00"/><stop offset=".586" stop-color="#f1ff00"/><stop offset=".641" stop-color="#d9ff00"/><stop offset=".719" stop-color="#a0ff00"/><stop offset=".75" stop-color="#84ff20"/><stop offset=".797" stop-color="#64ff44"/><stop offset=".82" stop-color="#42ff48"/><stop offset=".852" stop-color="#00ff50"/><stop offset=".875" stop-color="#00ff58"/><stop offset="1" stop-color="#00ff5a"/></linearGradient>
<linearGradient id="g122"><stop offset="0" stop-color="#daff00"/><stop offset=".062" stop-color="#ffff00"/><stop offset=".148" stop-color="#ffd500"/><stop offset=".211" stop-color="#ffc800"/><stop offset=".25" stop-color="#ffc400"/><stop offset=".312" stop-color="#ffc700"/><stop offset=".438" stop-color="#ffd500"/><stop offset=".539" stop-color="#fffe00"/><stop offset=".633" stop-color="#d7ff00"/><stop offset=".703" stop-color="#a1ff00"/><stop offset=".75" stop-color="#74ff32"/><stop offset=".773" stop-color="#62ff44"/><stop offset=".797" stop-color="#4aff47"/><stop offset=".812" stop-color="#36ff4a"/><stop offset=".82" stop-color="#28ff4b"/><stop offset=".836" stop-color="#06ff4f"/><stop offset=".844" stop-color="#00ff54"/><stop offset=".859" stop-color="#00ff5d"/><stop offset=".875" stop-color="#00ff62"/><stop offset="1" stop-color="#00ff5f"/></linearGradient>
<linearGradient id="g123"><stop offset="0" stop-color="#ecff00"/><stop offset=".031" stop-color="#feff00"/><stop offset=".039" stop-color="#fffb00"/><stop offset=".109" stop-color="#ffd700"/><stop offset=".203" stop-color="#ffc700"/><stop offset=".25" stop-color="#ffc300"/><stop offset=".32" stop-color="#ffc700"/><stop offset=".445" stop-color="#ffd600"/><stop offset=".5" stop-color="#fff100"/><stop offset=".539" stop-color="#feff00"/><stop offset=".625" stop-color="#d5ff00"/><stop offset=".688" stop-color="#a5ff00"/><stop offset=".695" stop-color="#9eff03"/><stop offset=".734" stop-color="#72ff34"/><stop offset=".75" stop-color="#60ff44"/><stop offset=".82" stop-color="#00ff52"/><stop offset=".852" stop-color="#00ff67"/><stop offset=".875" stop-color="#00ff70"/><stop offset=".945" stop-color="#00ff6e"/><stop offset="1" stop-color="#00ff66"/></linearGradient>
<linearGradient id="g124"><stop offset="0" stop-color="#feff00"/><stop offset=".023" stop-color="#fff400"/><stop offset=".07" stop-color="#ffd600"/><stop offset=".18" stop-color="#ffc700"/><stop offset=".25" stop-color="#ffc200"/><stop offset=".328" stop-color="#ffc600"/><stop offset=".445" stop-color="#ffd600"/><stop offset=".5" stop-color="#fff200"/><stop offset=".531" stop-color="#ffff00"/><stop offset=".609" stop-color="#d8ff00"/><stop offset=".68" stop-color="#a3ff00"/><stop offset=".688" stop-color="#9bff06"/><stop offset=".734" stop-color="#60ff44"/><stop offset=".773" stop-color="#17ff4d"/><stop offset=".781" stop-color="#09ff4f"/><stop offset=".789" stop-color="#00ff51"/><stop offset=".82" stop-color="#00ff62"/><stop offset=".852" stop-color="#00ff78"/><stop offset=".875" stop-color="#00ff80"/><stop offset=".945" stop-color="#00ff7c"/><stop offset="1" stop-color="#00ff6e"/></linearGradient>
<linearGradient id="g125"><stop offset="0" stop-color="#fff200"/><stop offset=".039" stop-color="#ffd800"/><stop offset=".078" stop-color="#ffcf00"/><stop offset=".164" stop-color="#ffc500"/><stop offset=".266" stop-color="#ffc200"/><stop offset=".375" stop-color="#ffcb00"/><stop offset=".445" stop-color="#ffd600"/><stop offset=".492" stop-color="#fff000"/><stop offset=".523" stop-color="#fffe00"/><stop offset=".602" stop-color="#d7ff00"/><stop offset=".672" stop-color="#a0ff00"/><stop offset=".695" stop-color="#85ff1e"/><stop offset=".719" stop-color="#67ff41"/><stop offset=".727" stop-color="#57ff46"/><stop offset=".766" stop-color="#01ff50"/><stop offset=".852" stop-color="#00ff88"/><stop offset=".875" stop-color="#00ff90"/><stop offset=".945" stop-color="#00ff86"/><stop offset="1" stop-color="#00ff74"/></linearGradient>
<linearGradient id="g126"><stop offset="0" stop-color="#ffe600"/><stop offset=".023" stop-color="#ffd600"/><stop offset=".102" stop-color="#ffc800"/><stop offset=".195" stop-color="#ffc200"/><stop offset=".281" stop-color="#ffc200"/><stop offset=".383" stop-color="#ffcc00"/><stop offset=".438" stop-color="#ffd500"/><stop offset=".445" stop-color="#ffd700"/><stop offset=".492" stop-color="#fff300"/><stop offset=".516" stop-color="#fffe00"/><stop offset=".594" stop-color="#d5ff00"/><stop offset=".656" stop-color="#a2ff00"/><stop offset=".664" stop-color="#9bff06"/><stop offset=".695" stop-color="#76ff30"/><stop offset=".711" stop-color="#5fff45"/><stop offset=".75" stop-color="#05ff4f"/><stop offset=".758" stop-color="#00ff54"/><stop offset=".852" stop-color="#00fe96"/><stop offset=".875" stop-color="#00fe9e"/><stop offset=".906" stop-color="#00fe98"/><stop offset="1" stop-color="#00ff75"/></linearGradient>
<linearGradient id="g127"><stop offset="0" stop-color="#ffde00"/><stop offset=".016" stop-color="#ffd500"/><stop offset=".039" stop-color="#ffce00"/><stop offset=".102" stop-color="#ffc500"/><stop offset=".211" stop-color="#ffc200"/><stop offset=".289" stop-color="#ffc300"/><stop offset=".43" stop-color="#ffd500"/><stop offset=".477" stop-color="#fff000"/><stop offset=".508" stop-color="#feff00"/><stop offset=".578" stop-color="#d7ff00"/><stop offset=".641" stop-color="#a3ff00"/><stop offset=".648" stop-color="#9bff06"/><stop offset=".695" stop-color="#62ff44"/><stop offset=".734" stop-color="#0cff4f"/><stop offset=".742" stop-color="#00ff52"/><stop offset=".852" stop-color="#00fda1"/><stop offset=".875" stop-color="#00fdaa"/><stop offset=".898" stop-color="#00fda4"/><stop offset="1" stop-color="#00ff75"/></linearGradient>
<linearGradient id="g128"><stop offset="0" stop-color="#ffd700"/><stop offset=".047" stop-color="#ffca00"/><stop offset=".102" stop-color="#ffc400"/><stop offset=".289" stop-color="#ffc300"/><stop offset=".414" stop-color="#ffd500"/><stop offset=".492" stop-color="#feff00"/><stop offset=".562" stop-color="#d8ff00"/><stop offset=".625" stop-color="#a3ff00"/><stop offset=".633" stop-color="#9bff06"/><stop offset=".68" stop-color="#60ff44"/><stop offset=".727" stop-color="#00ff50"/><stop offset=".773" stop-color="#00ff70"/><stop offset=".852" stop-color="#00fcac"/><stop offset=".875" stop-color="#00fcb5"/><stop offset=".891" stop-color="#00fcb1"/><stop offset=".938" stop-color="#00fe93"/><stop offset="1" stop-color="#00ff75"/></linearGradient>
<linearGradient id="g129"><stop offset="0" stop-color="#ffd400"/><stop offset=".047" stop-color="#ffc700"/><stop offset=".086" stop-color="#ffc300"/><stop offset=".281" stop-color="#ffc300"/><stop offset=".398" stop-color="#ffd600"/><stop offset=".445" stop-color="#fff100"/><stop offset=".477" stop-color="#fdff00"/><stop offset=".547" stop-color="#d8ff00"/><stop offset=".609" stop-color="#a4ff00"/><stop offset=".617" stop-color="#9cff05"/><stop offset=".648" stop-color="#76ff30"/><stop offset=".664" stop-color="#5fff45"/><stop offset=".688" stop-color="#2eff4b"/><stop offset=".711" stop-color="#00ff50"/><stop offset=".766" stop-color="#00ff73"/><stop offset=".852" stop-color="#00fbb7"/><stop offset=".875" stop-color="#00fbc0"/><stop offset=".891" stop-color="#00fbbb"/><stop offset=".93" stop-color="#00fe9a"/><stop offset=".945" stop-color="#00ff90"/><stop offset="1" stop-color="#00ff75"/></linearGradient>
<linearGradient id="g130"><stop offset="0" stop-color="#ffd300"/><stop offset=".039" stop-color="#ffc800"/><stop offset=".07" stop-color="#ffc300"/><stop offset=".273" stop-color="#ffc200"/><stop offset=".383" stop-color="#ffd600"/><stop offset=".43" stop-color="#fff200"/><stop offset=".453" stop-color="#fffd00"/><stop offset=".531" stop-color="#d8ff00"/><stop offset=".602" stop-color="#9eff02"/><stop offset=".648" stop-color="#65ff43"/><stop offset=".68" stop-color="#1fff4c"/><stop offset=".695" stop-color="#00ff50"/><stop offset=".758" stop-color="#00ff76"/><stop offset=".852" stop-color="#00fbc0"/><stop offset=".875" stop-color="#00fac9"/><stop offset=".891" stop-color="#00fac3"/><stop offset=".93" stop-color="#00fe9d"/><stop offset=".945" stop-color="#00ff92"/><stop offset="1" stop-color="#00ff75"/></linearGradient>
<linearGradient id="g131"><stop offset="0" stop-color="#ffd300"/><stop offset=".039" stop-color="#ffc800"/><stop offset=".07" stop-color="#ffc300"/><stop offset=".273" stop-color="#ffc300"/><stop offset=".367" stop-color="#ffd600"/><stop offset=".414" stop-color="#fff200"/><stop offset=".445" stop-color="#fdff00"/><stop offset=".516" stop-color="#d8ff00"/><stop offset=".586" stop-color="#a2ff00"/><stop offset=".594" stop-color="#9aff07"/><stop offset=".625" stop-color="#76ff30"/><stop offset=".641" stop-color="#60ff44"/><stop offset=".68" stop-color="#06ff4f"/><stop offset=".688" stop-color="#00ff53"/><stop offset=".75" stop-color="#00ff78"/><stop offset=".844" stop-color="#00fac3"/><stop offset=".867" stop-color="#00fbd0"/><stop offset=".883" stop-color="#00fbcf"/><stop offset=".891" stop-color="#00faca"/><stop offset=".938" stop-color="#00fe9a"/><stop offset=".977" stop-color="#00ff80"/><stop offset="1" stop-color="#00ff75"/></linearGradient>
<linearGradient id="g132"><stop offset="0" stop-color="#ffd400"/><stop offset=".047" stop-color="#ffc800"/><stop offset=".078" stop-color="#ffc500"/><stop offset=".273" stop-color="#ffc700"/><stop offset=".352" stop-color="#ffd600"/><stop offset=".398" stop-color="#fff100"/><stop offset=".43" stop-color="#feff00"/><stop offset=".508" stop-color="#d5ff00"/><stop offset=".578" stop-color="#a0ff00"/><stop offset=".617" stop-color="#74ff31"/><stop offset=".633" stop-color="#5fff45"/><stop offset=".672" stop-color="#04ff50"/><stop offset=".68" stop-color="#00ff54"/><stop offset=".75" stop-color="#00ff7f"/><stop offset=".836" stop-color="#00fac5"/><stop offset=".852" stop-color="#00fbd0"/><stop offset=".867" stop-color="#00fbd7"/><stop offset=".883" stop-color="#00fbd6"/><stop offset=".891" stop-color="#00fbd1"/><stop offset=".938" stop-color="#00fd9f"/><stop offset=".977" stop-color="#00ff82"/><stop offset="1" stop-color="#00ff76"/></linearGradient>
<linearGradient id="g133"><stop offset="0" stop-color="#ffd600"/><stop offset=".047" stop-color="#ffcb00"/><stop offset=".094" stop-color="#ffc800"/><stop offset=".266" stop-color="#ffcc00"/><stop offset=".328" stop-color="#ffd500"/><stop offset=".383" stop-color="#fff200"/><stop offset=".414" stop-color="#feff00"/><stop offset=".492" stop-color="#d7ff00"/><stop offset=".562" stop-color="#a4ff00"/><stop offset=".57" stop-color="#9dff03"/><stop offset=".609" stop-color="#73ff32"/><stop offset=".625" stop-color="#5fff45"/><stop offset=".641" stop-color="#3eff49"/><stop offset=".664" stop-color="#05ff4f"/><stop offset=".672" stop-color="#00ff54"/><stop offset=".75" stop-color="#00ff86"/><stop offset=".797" stop-color="#00fcb1"/><stop offset=".828" stop-color="#00fac9"/><stop offset=".852" stop-color="#00fbd8"/><stop offset=".867" stop-color="#00fcde"/><stop offset=".883" stop-color="#00fcdc"/><stop offset=".891" stop-color="#00fbd7"/><stop offset=".938" stop-color="#00fda5"/><stop offset=".977" stop-color="#00ff86"/><stop offset="1" stop-color="#00ff78"/></linearGradient>
<linearGradient id="g134"><stop offset="0" stop-color="#ffdb00"/><stop offset=".039" stop-color="#ffd000"/><stop offset=".102" stop-color="#ffcc00"/><stop offset=".164" stop-color="#ffcc00"/><stop offset=".266" stop-color="#ffd200"/><stop offset=".297" stop-color="#ffd600"/><stop offset=".359" stop-color="#fff200"/><stop offset=".391" stop-color="#fffd00"/><stop offset=".414" stop-color="#f7ff00"/><stop offset=".477" stop-color="#d7ff00"/><stop offset=".555" stop-color="#a1ff00"/><stop offset=".602" stop-color="#72ff35"/><stop offset=".617" stop-color="#5eff45"/><stop offset=".633" stop-color="#3eff49"/><stop offset=".656" stop-color="#07ff4f"/><stop offset=".664" stop-color="#00ff54"/><stop offset=".75" stop-color="#00ff8d"/><stop offset=".797" stop-color="#00fbbb"/><stop offset=".812" stop-color="#00fac7"/><stop offset=".844" stop-color="#00fcdb"/><stop offset=".867" stop-color="#00fce3"/><stop offset=".883" stop-color="#00fce2"/><stop offset=".891" stop-color="#00fcdd"/><stop offset=".938" stop-color="#00fcaa"/><stop offset=".977" stop-color="#00ff89"/><stop offset="1" stop-color="#00ff7a"/></linearGradient>
<linearGradient id="g135"><stop offset="0" stop-color="#ffe100"/><stop offset=".031" stop-color="#ffd500"/><stop offset=".07" stop-color="#ffd200"/><stop offset=".141" stop-color="#ffd000"/><stop offset=".219" stop-color="#ffd500"/><stop offset=".273" stop-color="#ffe000"/><stop offset=".367" stop-color="#fffe00"/><stop offset=".406" stop-color="#f1ff00"/><stop offset=".461" stop-color="#d7ff00"/><stop offset=".539" stop-color="#a1ff00"/><stop offset=".562" stop-color="#8cff16"/><stop offset=".602" stop-color="#65ff42"/><stop offset=".625" stop-color="#3bff49"/><stop offset=".648" stop-color="#07ff4f"/><stop offset=".656" stop-color="#00ff54"/><stop offset=".75" stop-color="#00fe95"/><stop offset=".797" stop-color="#00fac4"/><stop offset=".812" stop-color="#00fbd0"/><stop offset=".844" stop-color="#00fce1"/><stop offset=".867" stop-color="#00fde9"/><stop offset=".883" stop-color="#00fde7"/><stop offset=".891" stop-color="#00fce2"/><stop offset=".914" stop-color="#00fac9"/><stop offset=".938" stop-color="#00fcaf"/><stop offset=".984" stop-color="#00ff86"/><stop offset="1" stop-color="#00ff7b"/></linearGradient>
<linearGradient id="g136"><stop offset="0" stop-color="#ffe800"/><stop offset=".047" stop-color="#ffdb00"/><stop offset=".078" stop-color="#ffd700"/><stop offset=".156" stop-color="#ffd600"/><stop offset=".336" stop-color="#feff00"/><stop offset=".391" stop-color="#edff00"/><stop offset=".438" stop-color="#d9ff00"/><stop offset=".523" stop-color="#a0ff00"/><stop offset=".586" stop-color="#66ff41"/><stop offset=".617" stop-color="#30ff4a"/><stop offset=".641" stop-color="#00ff50"/><stop offset=".75" stop-color="#00fe9d"/><stop offset=".805" stop-color="#00fbd2"/><stop offset=".836" stop-color="#00fce3"/><stop offset=".867" stop-color="#00fded"/><stop offset=".883" stop-color="#00fdeb"/><stop offset=".891" stop-color="#00fde6"/><stop offset=".938" stop-color="#00fcb2"/><stop offset=".984" stop-color="#00ff88"/><stop offset="1" stop-color="#00ff7d"/></linearGradient>
<linearGradient id="g137"><stop offset="0" stop-color="#fff200"/><stop offset=".07" stop-color="#ffe500"/><stop offset=".133" stop-color="#ffe200"/><stop offset=".164" stop-color="#ffe600"/><stop offset=".281" stop-color="#feff00"/><stop offset=".359" stop-color="#ebff00"/><stop offset=".414" stop-color="#d8ff00"/><stop offset=".5" stop-color="#a2ff00"/><stop offset=".508" stop-color="#9cff05"/><stop offset=".57" stop-color="#62ff44"/><stop offset=".602" stop-color="#2dff4b"/><stop offset=".625" stop-color="#01ff50"/><stop offset=".742" stop-color="#00fda0"/><stop offset=".805" stop-color="#00fcd9"/><stop offset=".836" stop-color="#00fde8"/><stop offset=".867" stop-color="#00fef1"/><stop offset=".883" stop-color="#00fdee"/><stop offset=".891" stop-color="#00fdea"/><stop offset=".938" stop-color="#00fcb4"/><stop offset=".984" stop-color="#00ff89"/><stop offset="1" stop-color="#00ff7e"/></linearGradient>
<linearGradient id="g138"><stop offset="0" stop-color="#fffa00"/><stop offset=".125" stop-color="#fff200"/><stop offset=".164" stop-color="#fff600"/><stop offset=".211" stop-color="#ffff00"/><stop offset=".375" stop-color="#d8ff00"/><stop offset=".422" stop-color="#c2ff00"/><stop offset=".477" stop-color="#a1ff00"/><stop offset=".5" stop-color="#8fff14"/><stop offset=".547" stop-color="#65ff43"/><stop offset=".602" stop-color="#07ff4f"/><stop offset=".609" stop-color="#00ff52"/><stop offset=".742" stop-color="#00fdaa"/><stop offset=".773" stop-color="#00fac5"/><stop offset=".805" stop-color="#00fce0"/><stop offset=".828" stop-color="#00fdeb"/><stop offset=".859" stop-color="#00fef3"/><stop offset=".875" stop-color="#00fef4"/><stop offset=".891" stop-color="#00fded"/><stop offset=".922" stop-color="#00fac8"/><stop offset=".938" stop-color="#00fcb6"/><stop offset=".984" stop-color="#00ff8a"/><stop offset="1" stop-color="#00ff7e"/></linearGradient>
<linearGradient id="g139"><stop offset="0" stop-color="#faff00"/><stop offset=".133" stop-color="#ffff00"/><stop offset=".18" stop-color="#f8ff00"/><stop offset=".32" stop-color="#d7ff00"/><stop offset=".383" stop-color="#c0ff00"/><stop offset=".445" stop-color="#a2ff00"/><stop offset=".453" stop-color="#9dff03"/><stop offset=".469" stop-color="#92ff10"/><stop offset=".523" stop-color="#65ff43"/><stop offset=".547" stop-color="#41ff48"/><stop offset=".578" stop-color="#0aff4f"/><stop offset=".586" stop-color="#00ff51"/><stop offset=".641" stop-color="#00ff71"/><stop offset=".742" stop-color="#00fcb4"/><stop offset=".805" stop-color="#00fde6"/><stop offset=".828" stop-color="#00fef0"/><stop offset=".859" stop-color="#00fef6"/><stop offset=".875" stop-color="#00fef7"/><stop offset=".891" stop-color="#00fef0"/><stop offset=".938" stop-color="#00fbb7"/><stop offset=".984" stop-color="#00ff8b"/><stop offset="1" stop-color="#00ff7f"/></linearGradient>
<linearGradient id="g140"><stop offset="0" stop-color="#f0ff00"/><stop offset=".109" stop-color="#f2ff00"/><stop offset=".172" stop-color="#ecff00"/><stop offset=".266" stop-color="#d5ff00"/><stop offset=".406" stop-color="#a1ff00"/><stop offset=".461" stop-color="#7fff25"/><stop offset=".5" stop-color="#63ff44"/><stop offset=".523" stop-color="#41ff48"/><stop offset=".562" stop-color="#00ff50"/><stop offset=".664" stop-color="#00ff8c"/><stop offset=".734" stop-color="#00fbb8"/><stop offset=".805" stop-color="#00fdeb"/><stop offset=".828" stop-color="#00fef4"/><stop offset=".859" stop-color="#00fffa"/><stop offset=".875" stop-color="#00fffa"/><stop offset=".891" stop-color="#00fef2"/><stop offset=".938" stop-color="#00fbb9"/><stop offset=".984" stop-color="#00ff8c"/><stop offset="1" stop-color="#00ff80"/></linearGradient>
<linearGradient id="g141"><stop offset="0" stop-color="#e5ff00"/><stop offset=".102" stop-color="#e6ff00"/><stop offset=".164" stop-color="#dfff00"/><stop offset=".203" stop-color="#d6ff00"/><stop offset=".352" stop-color="#a1ff00"/><stop offset=".43" stop-color="#79ff2c"/><stop offset=".469" stop-color="#60ff44"/><stop offset=".508" stop-color="#31ff4a"/><stop offset=".539" stop-color="#01ff50"/><stop offset=".648" stop-color="#00ff8e"/><stop offset=".734" stop-color="#00fbc1"/><stop offset=".797" stop-color="#00fdea"/><stop offset=".82" stop-color="#00fef4"/><stop offset=".859" stop-color="#00fffc"/><stop offset=".875" stop-color="#00fffd"/><stop offset=".891" stop-color="#00fef5"/><stop offset=".938" stop-color="#00fbbb"/><stop offset=".984" stop-color="#00ff8e"/><stop offset="1" stop-color="#00ff82"/></linearGradient>
<linearGradient id="g142"><stop offset="0" stop-color="#dbff00"/><stop offset=".078" stop-color="#daff00"/><stop offset=".141" stop-color="#d4ff00"/><stop offset=".18" stop-color="#caff00"/><stop offset=".297" stop-color="#a1ff00"/><stop offset=".422" stop-color="#61ff44"/><stop offset=".469" stop-color="#35ff4a"/><stop offset=".516" stop-color="#00ff51"/><stop offset=".625" stop-color="#00ff8b"/><stop offset=".734" stop-color="#00fac9"/><stop offset=".789" stop-color="#00fde8"/><stop offset=".812" stop-color="#00fef2"/><stop offset=".859" stop-color="#00ffff"/><stop offset=".875" stop-color="#00ffff"/><stop offset=".891" stop-color="#00fef8"/><stop offset=".938" stop-color="#00fbbe"/><stop offset=".984" stop-color="#00ff8f"/><stop offset="1" stop-color="#00ff83"/></linearGradient>
<linearGradient id="g143"><stop offset="0" stop-color="#cfff00"/><stop offset=".07" stop-color="#ccff00"/><stop offset=".133" stop-color="#c3ff00"/><stop offset=".172" stop-color="#b9ff00"/><stop offset=".242" stop-color="#a0ff00"/><stop offset=".312" stop-color="#7fff25"/><stop offset=".367" stop-color="#62ff44"/><stop offset=".469" stop-color="#05ff4f"/><stop offset=".477" stop-color="#00ff51"/><stop offset=".539" stop-color="#00ff6a"/><stop offset=".719" stop-color="#00fac8"/><stop offset=".781" stop-color="#00fde6"/><stop offset=".852" stop-color="#00ffff"/><stop offset=".883" stop-color="#00feff"/><stop offset=".891" stop-color="#00fffb"/><stop offset=".906" stop-color="#00fdea"/><stop offset=".938" stop-color="#00fbc2"/><stop offset=".984" stop-color="#00fe92"/><stop offset="1" stop-color="#00ff85"/></linearGradient>
<linearGradient id="g144"><stop offset="0" stop-color="#c2ff00"/><stop offset=".086" stop-color="#baff00"/><stop offset=".188" stop-color="#a0ff00"/><stop offset=".203" stop-color="#99ff08"/><stop offset=".312" stop-color="#64ff44"/><stop offset=".422" stop-color="#00ff50"/><stop offset=".516" stop-color="#00ff6e"/><stop offset=".734" stop-color="#00fbd6"/><stop offset=".852" stop-color="#00feff"/><stop offset=".875" stop-color="#00fbff"/><stop offset=".891" stop-color="#00fffe"/><stop offset=".906" stop-color="#00fdee"/><stop offset=".938" stop-color="#00fac6"/><stop offset=".984" stop-color="#00fe95"/><stop offset="1" stop-color="#00ff88"/></linearGradient>
<linearGradient id="g145"><stop offset="0" stop-color="#b3ff00"/><stop offset=".07" stop-color="#acff00"/><stop offset=".117" stop-color="#a0ff01"/><stop offset=".18" stop-color="#88ff1c"/><stop offset=".25" stop-color="#68ff3f"/><stop offset=".258" stop-color="#64ff44"/><stop offset=".297" stop-color="#44ff48"/><stop offset=".367" stop-color="#03ff50"/><stop offset=".375" stop-color="#00ff51"/><stop offset=".516" stop-color="#00ff7e"/><stop offset=".688" stop-color="#00fac9"/><stop offset=".727" stop-color="#00fcd9"/><stop offset=".82" stop-color="#00fef4"/><stop offset=".844" stop-color="#00ffff"/><stop offset=".875" stop-color="#00f9ff"/><stop offset=".891" stop-color="#00fdff"/><stop offset=".898" stop-color="#00fffa"/><stop offset=".938" stop-color="#00faca"/><stop offset="1" stop-color="#00ff8b"/></linearGradient>
<linearGradient id="g146"><stop offset="0" stop-color="#a3ff00"/><stop offset=".039" stop-color="#a0ff00"/><stop offset=".07" stop-color="#99ff08"/><stop offset=".195" stop-color="#65ff43"/><stop offset=".25" stop-color="#3eff49"/><stop offset=".32" stop-color="#02ff50"/><stop offset=".328" stop-color="#00ff51"/><stop offset=".523" stop-color="#00ff8f"/><stop offset=".664" stop-color="#00fac7"/><stop offset=".727" stop-color="#00fcdf"/><stop offset=".812" stop-color="#00fef2"/><stop offset=".844" stop-color="#00feff"/><stop offset=".875" stop-color="#00f7ff"/><stop offset=".898" stop-color="#00fffd"/><stop offset=".945" stop-color="#00fac6"/><stop offset="1" stop-color="#00ff8d"/></linearGradient>
<linearGradient id="g147"><stop offset="0" stop-color="#8dff16"/><stop offset=".047" stop-color="#86ff1d"/><stop offset=".086" stop-color="#78ff2d"/><stop offset=".125" stop-color="#62ff44"/><stop offset=".273" stop-color="#00ff51"/><stop offset=".414" stop-color="#00ff78"/><stop offset=".648" stop-color="#00fac8"/><stop offset=".727" stop-color="#00fde4"/><stop offset=".812" stop-color="#00fef2"/><stop offset=".844" stop-color="#00fdff"/><stop offset=".875" stop-color="#00f5ff"/><stop offset=".898" stop-color="#00feff"/><stop offset=".945" stop-color="#00faca"/><stop offset="1" stop-color="#00ff8f"/></linearGradient>
<linearGradient id="g148"><stop offset="0" stop-color="#70ff37"/><stop offset=".031" stop-color="#6bff3d"/><stop offset=".062" stop-color="#5fff45"/><stop offset=".078" stop-color="#54ff46"/><stop offset=".125" stop-color="#26ff4b"/><stop offset=".188" stop-color="#00ff50"/><stop offset=".273" stop-color="#00ff60"/><stop offset=".375" stop-color="#00ff78"/><stop offset=".633" stop-color="#00fac8"/><stop offset=".719" stop-color="#00fde7"/><stop offset=".75" stop-color="#00fdee"/><stop offset=".812" stop-color="#00fef3"/><stop offset=".836" stop-color="#00fffe"/><stop offset=".844" stop-color="#00fcff"/><stop offset=".875" stop-color="#00f3ff"/><stop offset=".898" stop-color="#00fcff"/><stop offset=".906" stop-color="#00fffb"/><stop offset=".953" stop-color="#00fac5"/><stop offset="1" stop-color="#00ff8f"/></linearGradient>
<linearGradient id="g149"><stop offset="0" stop-color="#32ff4a"/><stop offset=".039" stop-color="#20ff4c"/><stop offset=".086" stop-color="#00ff51"/><stop offset=".125" stop-color="#00ff5d"/><stop offset=".273" stop-color="#00ff71"/><stop offset=".383" stop-color="#00ff86"/><stop offset=".5" stop-color="#00fcab"/><stop offset=".609" stop-color="#00fac8"/><stop offset=".719" stop-color="#00fdeb"/><stop offset=".758" stop-color="#00fef3"/><stop offset=".812" stop-color="#00fef7"/><stop offset=".836" stop-color="#00fdff"/><stop offset=".859" stop-color="#00f3ff"/><stop offset=".875" stop-color="#00f0ff"/><stop offset=".891" stop-color="#00f5ff"/><stop offset=".906" stop-color="#00ffff"/><stop offset=".953" stop-color="#00fac8"/><stop offset="1" stop-color="#00ff8f"/></linearGradient>
<linearGradient id="g150"><stop offset="0" stop-color="#00ff58"/><stop offset=".062" stop-color="#00ff65"/><stop offset=".125" stop-color="#00ff77"/><stop offset=".273" stop-color="#00ff83"/><stop offset=".383" stop-color="#00ff92"/><stop offset=".5" stop-color="#00fbb6"/><stop offset=".578" stop-color="#00fac8"/><stop offset=".719" stop-color="#00feef"/><stop offset=".82" stop-color="#00ffff"/><stop offset=".859" stop-color="#00f0ff"/><stop offset=".875" stop-color="#00eeff"/><stop offset=".891" stop-color="#00f2ff"/><stop offset=".906" stop-color="#00fdff"/><stop offset=".914" stop-color="#00fef9"/><stop offset=".953" stop-color="#00faca"/><stop offset="1" stop-color="#00ff8f"/></linearGradient>
<linearGradient id="g151"><stop offset="0" stop-color="#00ff6b"/><stop offset=".117" stop-color="#00ff8c"/><stop offset=".289" stop-color="#00ff92"/><stop offset=".391" stop-color="#00fe9c"/><stop offset=".5" stop-color="#00fbbe"/><stop offset=".617" stop-color="#00fbd6"/><stop offset=".734" stop-color="#00fef6"/><stop offset=".805" stop-color="#00feff"/><stop offset=".859" stop-color="#00eeff"/><stop offset=".875" stop-color="#00ecff"/><stop offset=".891" stop-color="#00f0ff"/><stop offset=".906" stop-color="#00fbff"/><stop offset=".914" stop-color="#00fffc"/><stop offset=".953" stop-color="#00facc"/><stop offset="1" stop-color="#00ff90"/></linearGradient>
<linearGradient id="g152"><stop offset="0" stop-color="#00ff74"/><stop offset=".117" stop-color="#00fe96"/><stop offset=".289" stop-color="#00fe98"/><stop offset=".391" stop-color="#00fda0"/><stop offset=".5" stop-color="#00fbc2"/><stop offset=".617" stop-color="#00fbd8"/><stop offset=".734" stop-color="#00fef7"/><stop offset=".789" stop-color="#00ffff"/><stop offset=".82" stop-color="#00faff"/><stop offset=".859" stop-color="#00edff"/><stop offset=".875" stop-color="#00ebff"/><stop offset=".891" stop-color="#00efff"/><stop offset=".914" stop-color="#00fffd"/><stop offset=".961" stop-color="#00fac3"/><stop offset="1" stop-color="#00ff90"/></linearGradient>
<linearGradient id="g153"><stop offset="0" stop-color="#00ff75"/><stop offset=".117" stop-color="#00fe97"/><stop offset=".289" stop-color="#00fe99"/><stop offset=".391" stop-color="#00fda0"/><stop offset=".5" stop-color="#00fbc2"/><stop offset=".617" stop-color="#00fbd8"/><stop offset=".734" stop-color="#00fef7"/><stop offset=".789" stop-color="#00feff"/><stop offset=".82" stop-color="#00faff"/><stop offset=".859" stop-color="#00edff"/><stop offset=".875" stop-color="#00ebff"/><stop offset=".891" stop-color="#00efff"/><stop offset=".914" stop-color="#00fffd"/><stop offset=".961" stop-color="#00fac3"/><stop offset="1" stop-color="#00ff90"/></linearGradient>
<linearGradient id="g154"><stop offset="0" stop-color="#00ff75"/><stop offset=".117" stop-color="#00fe97"/><stop offset=".289" stop-color="#00fe99"/><stop offset=".391" stop-color="#00fda0"/><stop offset=".5" stop-color="#00fbc2"/><stop offset=".617" stop-color="#00fbd8"/><stop offset=".734" stop-color="#00fef7"/><stop offset=".789" stop-color="#00feff"/><stop offset=".82" stop-color="#00faff"/><stop offset=".859" stop-color="#00edff"/><stop offset=".875" stop-color="#00ebff"/><stop offset=".891" stop-color="#00efff"/><stop offset=".914" stop-color="#00fffd"/><stop offset=".961" stop-color="#00fac3"/><stop offset="1" stop-color="#00ff90"/></linearGradient>
<linearGradient id="g155"><stop offset="0" stop-color="#00ff75"/><stop offset=".117" stop-color="#00fe97"/><stop offset=".289" stop-color="#00fe99"/><stop offset=".391" stop-color="#00fda0"/><stop offset=".5" stop-color="#00fbc2"/><stop offset=".617" stop-color="#00fbd8"/><stop offset=".734" stop-color="#00fef7"/><stop offset=".789" stop-color="#00feff"/><stop offset=".82" stop-color="#00faff"/><stop offset=".859" stop-color="#00edff"/><stop offset=".875" stop-color="#00ebff"/><stop offset=".891" stop-color="#00efff"/><stop offset=".914" stop-color="#00fffd"/><stop offset=".961" stop-color="#00fac3"/><stop offset="1" stop-color="#00ff90"/></linearGradient>
<clipPath id="c3"><rect x="1015.8" y="961" width="812.8" height="653"/></clipPath>
<linearGradient id="g156"><stop offset="0" stop-color="#7eff26"/><stop offset=".727" stop-color="#9dff03"/><stop offset=".828" stop-color="#9cff04"/><stop offset=".867" stop-color="#91ff11"/><stop offset=".875" stop-color="#8cff17"/><stop offset=".883" stop-color="#83ff21"/><stop offset=".898" stop-color="#66ff42"/><stop offset=".906" stop-color="#51ff46"/><stop offset=".922" stop-color="#30ff4a"/><stop offset=".93" stop-color="#24ff4c"/><stop offset=".945" stop-color="#12ff4e"/><stop offset=".969" stop-color="#03ff50"/><stop offset="1" stop-color="#00ff50"/></linearGradient>
<linearGradient id="g157"><stop offset="0" stop-color="#7eff26"/><stop offset=".727" stop-color="#9dff03"/><stop offset=".828" stop-color="#9cff04"/><stop offset=".867" stop-color="#91ff11"/><stop offset=".875" stop-color="#8cff17"/><stop offset=".883" stop-color="#83ff21"/><stop offset=".898" stop-color="#66ff42"/><stop offset=".906" stop-color="#51ff46"/><stop offset=".922" stop-color="#30ff4a"/><stop offset=".93" stop-color="#24ff4c"/><stop offset=".945" stop-color="#12ff4e"/><stop offset=".969" stop-color="#03ff50"/><stop offset="1" stop-color="#00ff50"/></linearGradient>
<linearGradient id="g158"><stop offset="0" stop-color="#7eff26"/><stop offset=".727" stop-color="#9dff03"/><stop offset=".828" stop-color="#9cff04"/><stop offset=".867" stop-color="#91ff11"/><stop offset=".875" stop-color="#8cff17"/><stop offset=".883" stop-color="#83ff21"/><stop offset=".898" stop-color="#66ff42"/><stop offset=".906" stop-color="#51ff46"/><stop offset=".922" stop-color="#30ff4a"/><stop offset=".93" stop-color="#24ff4c"/><stop offset=".945" stop-color="#12ff4e"/><stop offset=".969" stop-color="#03ff50"/><stop offset="1" stop-color="#00ff50"/></linearGradient>
<linearGradient id="g159"><stop offset="0" stop-color="#d0ff00"/><stop offset=".375" stop-color="#e5ff00"/><stop offset=".633" stop-color="#ffff00"/><stop offset=".75" stop-color="#fff900"/><stop offset=".812" stop-color="#fffa00"/><stop offset=".836" stop-color="#fffe00"/><stop offset=".844" stop-color="#fdff00"/><stop offset=".867" stop-color="#f0ff00"/><stop offset=".883" stop-color="#dfff00"/><stop offset=".891" stop-color="#ceff00"/><stop offset=".906" stop-color="#a3ff00"/><stop offset=".922" stop-color="#7aff2c"/><stop offset=".93" stop-color="#68ff3f"/><stop offset=".938" stop-color="#51ff46"/><stop offset=".945" stop-color="#3bff49"/><stop offset=".953" stop-color="#28ff4b"/><stop offset=".961" stop-color="#19ff4d"/><stop offset=".977" stop-color="#09ff4f"/><stop offset="1" stop-color="#01ff50"/></linearGradient>
<linearGradient id="g160"><stop offset="0" stop-color="#fff600"/><stop offset=".242" stop-color="#ffd600"/><stop offset=".492" stop-color="#ffc200"/><stop offset=".625" stop-color="#ffac00"/><stop offset=".75" stop-color="#ffa400"/><stop offset=".82" stop-color="#ffa900"/><stop offset=".859" stop-color="#ffbb00"/><stop offset=".883" stop-color="#ffce00"/><stop offset=".891" stop-color="#ffde00"/><stop offset=".898" stop-color="#fffa00"/><stop offset=".906" stop-color="#efff00"/><stop offset=".914" stop-color="#dbff00"/><stop offset=".93" stop-color="#adff00"/><stop offset=".938" stop-color="#97ff0b"/><stop offset=".953" stop-color="#6bff3c"/><stop offset=".961" stop-color="#53ff46"/><stop offset=".969" stop-color="#3dff49"/><stop offset=".984" stop-color="#1fff4c"/><stop offset=".992" stop-color="#15ff4d"/><stop offset="1" stop-color="#10ff4e"/></linearGradient>
<linearGradient id="g161"><stop offset="0" stop-color="#ffd200"/><stop offset=".07" stop-color="#ffc900"/><stop offset=".391" stop-color="#ffb000"/><stop offset=".508" stop-color="#ff9b00"/><stop offset=".586" stop-color="#ff8000"/><stop offset=".617" stop-color="#ff7900"/><stop offset=".695" stop-color="#ff7300"/><stop offset=".766" stop-color="#ff7200"/><stop offset=".82" stop-color="#ff7900"/><stop offset=".836" stop-color="#ff8000"/><stop offset=".859" stop-color="#ff9100"/><stop offset=".875" stop-color="#ffa100"/><stop offset=".906" stop-color="#ffd000"/><stop offset=".914" stop-color="#ffe200"/><stop offset=".922" stop-color="#fffa00"/><stop offset=".93" stop-color="#f1ff00"/><stop offset=".938" stop-color="#dfff00"/><stop offset=".953" stop-color="#b2ff00"/><stop offset=".961" stop-color="#9bff06"/><stop offset=".969" stop-color="#83ff20"/><stop offset=".977" stop-color="#70ff36"/><stop offset=".984" stop-color="#5eff45"/><stop offset=".992" stop-color="#49ff47"/><stop offset="1" stop-color="#3cff49"/></linearGradient>
<linearGradient id="g162"><stop offset="0" stop-color="#ffcf00"/><stop offset=".07" stop-color="#ffc500"/><stop offset=".359" stop-color="#ffad00"/><stop offset=".5" stop-color="#ff9500"/><stop offset=".609" stop-color="#ff7400"/><stop offset=".68" stop-color="#ff6e00"/><stop offset=".758" stop-color="#ff6c00"/><stop offset=".82" stop-color="#ff7400"/><stop offset=".836" stop-color="#ff7a00"/><stop offset=".859" stop-color="#ff8a00"/><stop offset=".875" stop-color="#ff9900"/><stop offset=".891" stop-color="#ffb100"/><stop offset=".914" stop-color="#ffcf00"/><stop offset=".922" stop-color="#ffdb00"/><stop offset=".93" stop-color="#fff200"/><stop offset=".938" stop-color="#faff00"/><stop offset=".953" stop-color="#cfff00"/><stop offset=".969" stop-color="#9eff02"/><stop offset=".977" stop-color="#87ff1d"/><stop offset=".984" stop-color="#73ff33"/><stop offset=".992" stop-color="#64ff44"/><stop offset="1" stop-color="#53ff46"/></linearGradient>
<linearGradient id="g163"><stop offset="0" stop-color="#ffcf00"/><stop offset=".391" stop-color="#ffa800"/><stop offset=".5" stop-color="#ff9500"/><stop offset=".586" stop-color="#ff7c00"/><stop offset=".617" stop-color="#ff7600"/><stop offset=".758" stop-color="#ff7000"/><stop offset=".82" stop-color="#ff7800"/><stop offset=".836" stop-color="#ff7e00"/><stop offset=".859" stop-color="#ff8d00"/><stop offset=".875" stop-color="#ff9b00"/><stop offset=".898" stop-color="#ffbc00"/><stop offset=".922" stop-color="#ffd900"/><stop offset=".93" stop-color="#ffef00"/><stop offset=".938" stop-color="#fdff00"/><stop offset=".953" stop-color="#d3ff00"/><stop offset=".961" stop-color="#b8ff00"/><stop offset=".969" stop-color="#a1ff00"/><stop offset=".984" stop-color="#75ff31"/><stop offset=".992" stop-color="#65ff43"/><stop offset="1" stop-color="#55ff46"/></linearGradient>
<linearGradient id="g164"><stop offset="0" stop-color="#ffd000"/><stop offset=".398" stop-color="#ffa300"/><stop offset=".508" stop-color="#ff9300"/><stop offset=".609" stop-color="#ff7c00"/><stop offset=".758" stop-color="#ff7800"/><stop offset=".82" stop-color="#ff8000"/><stop offset=".836" stop-color="#ff8600"/><stop offset=".859" stop-color="#ff9500"/><stop offset=".875" stop-color="#ffa300"/><stop offset=".914" stop-color="#ffd400"/><stop offset=".93" stop-color="#fff600"/><stop offset=".938" stop-color="#f8ff00"/><stop offset=".945" stop-color="#e6ff00"/><stop offset=".969" stop-color="#9eff02"/><stop offset=".977" stop-color="#86ff1d"/><stop offset=".984" stop-color="#72ff34"/><stop offset=".992" stop-color="#60ff44"/><stop offset="1" stop-color="#4fff47"/></linearGradient>
<linearGradient id="g165"><stop offset="0" stop-color="#ffd200"/><stop offset=".094" stop-color="#ffc800"/><stop offset=".242" stop-color="#ffb200"/><stop offset=".508" stop-color="#ff9200"/><stop offset=".594" stop-color="#ff8500"/><stop offset=".758" stop-color="#ff8200"/><stop offset=".82" stop-color="#ff8b00"/><stop offset=".836" stop-color="#ff9100"/><stop offset=".859" stop-color="#ff9f00"/><stop offset=".883" stop-color="#ffb500"/><stop offset=".906" stop-color="#ffd300"/><stop offset=".922" stop-color="#fff100"/><stop offset=".93" stop-color="#fffd00"/><stop offset=".938" stop-color="#f3ff00"/><stop offset=".945" stop-color="#e2ff00"/><stop offset=".961" stop-color="#b1ff00"/><stop offset=".969" stop-color="#99ff08"/><stop offset=".977" stop-color="#81ff23"/><stop offset=".984" stop-color="#6dff3a"/><stop offset=".992" stop-color="#58ff45"/><stop offset="1" stop-color="#47ff48"/></linearGradient>
<linearGradient id="g166"><stop offset="0" stop-color="#ffd400"/><stop offset=".117" stop-color="#ffc700"/><stop offset=".289" stop-color="#ffac00"/><stop offset=".516" stop-color="#ff9300"/><stop offset=".609" stop-color="#ff8d00"/><stop offset=".758" stop-color="#ff8e00"/><stop offset=".82" stop-color="#ff9500"/><stop offset=".852" stop-color="#ffa300"/><stop offset=".883" stop-color="#ffbb00"/><stop offset=".906" stop-color="#ffd600"/><stop offset=".914" stop-color="#ffe900"/><stop offset=".922" stop-color="#fff700"/><stop offset=".93" stop-color="#fcff00"/><stop offset=".938" stop-color="#eeff00"/><stop offset=".945" stop-color="#ddff00"/><stop offset=".961" stop-color="#acff00"/><stop offset=".969" stop-color="#93ff0f"/><stop offset=".977" stop-color="#7bff2a"/><stop offset=".984" stop-color="#68ff40"/><stop offset=".992" stop-color="#50ff46"/><stop offset="1" stop-color="#3fff48"/></linearGradient>
<linearGradient id="g167"><stop offset="0" stop-color="#ffdc00"/><stop offset=".039" stop-color="#ffd300"/><stop offset=".188" stop-color="#ffc200"/><stop offset=".258" stop-color="#ffb400"/><stop offset=".438" stop-color="#ffa000"/><stop offset=".609" stop-color="#ff9700"/><stop offset=".766" stop-color="#ff9b00"/><stop offset=".828" stop-color="#ffa200"/><stop offset=".875" stop-color="#ffb900"/><stop offset=".891" stop-color="#ffc700"/><stop offset=".906" stop-color="#ffd900"/><stop offset=".914" stop-color="#ffec00"/><stop offset=".922" stop-color="#fff900"/><stop offset=".93" stop-color="#f8ff00"/><stop offset=".945" stop-color="#d9ff00"/><stop offset=".961" stop-color="#a5ff00"/><stop offset=".969" stop-color="#8aff19"/><stop offset=".977" stop-color="#73ff33"/><stop offset=".984" stop-color="#5eff45"/><stop offset=".992" stop-color="#46ff48"/><stop offset="1" stop-color="#36ff49"/></linearGradient>
<linearGradient id="g168"><stop offset="0" stop-color="#ffe700"/><stop offset=".031" stop-color="#ffd600"/><stop offset=".039" stop-color="#ffd500"/><stop offset=".188" stop-color="#ffc900"/><stop offset=".25" stop-color="#ffb900"/><stop offset=".352" stop-color="#ffab00"/><stop offset=".484" stop-color="#ffa400"/><stop offset=".633" stop-color="#ffa200"/><stop offset=".828" stop-color="#ffab00"/><stop offset=".867" stop-color="#ffba00"/><stop offset=".891" stop-color="#ffca00"/><stop offset=".906" stop-color="#ffdc00"/><stop offset=".914" stop-color="#ffef00"/><stop offset=".922" stop-color="#fffc00"/><stop offset=".93" stop-color="#f5ff00"/><stop offset=".945" stop-color="#d3ff00"/><stop offset=".961" stop-color="#9eff02"/><stop offset=".969" stop-color="#82ff22"/><stop offset=".977" stop-color="#6cff3b"/><stop offset=".984" stop-color="#54ff46"/><stop offset=".992" stop-color="#3dff49"/><stop offset="1" stop-color="#2fff4a"/></linearGradient>
<linearGradient id="g169"><stop offset="0" stop-color="#ffeb00"/><stop offset=".039" stop-color="#ffd600"/><stop offset=".188" stop-color="#ffcb00"/><stop offset=".25" stop-color="#ffba00"/><stop offset=".344" stop-color="#ffae00"/><stop offset=".461" stop-color="#ffaa00"/><stop offset=".633" stop-color="#ffab00"/><stop offset=".727" stop-color="#ffb100"/><stop offset=".812" stop-color="#ffb200"/><stop offset=".844" stop-color="#ffb800"/><stop offset=".875" stop-color="#ffc300"/><stop offset=".898" stop-color="#ffd400"/><stop offset=".922" stop-color="#ffff00"/><stop offset=".938" stop-color="#e2ff00"/><stop offset=".945" stop-color="#ceff00"/><stop offset=".953" stop-color="#b4ff00"/><stop offset=".961" stop-color="#99ff07"/><stop offset=".969" stop-color="#7fff26"/><stop offset=".977" stop-color="#69ff3e"/><stop offset=".984" stop-color="#50ff46"/><stop offset=".992" stop-color="#3aff49"/><stop offset="1" stop-color="#2dff4b"/></linearGradient>
<linearGradient id="g170"><stop offset="0" stop-color="#ffeb00"/><stop offset=".047" stop-color="#ffd600"/><stop offset=".188" stop-color="#ffc900"/><stop offset=".258" stop-color="#ffb700"/><stop offset=".359" stop-color="#ffad00"/><stop offset=".453" stop-color="#ffac00"/><stop offset=".828" stop-color="#ffbb00"/><stop offset=".867" stop-color="#ffc600"/><stop offset=".891" stop-color="#ffd200"/><stop offset=".898" stop-color="#ffd800"/><stop offset=".914" stop-color="#fff600"/><stop offset=".922" stop-color="#fbff00"/><stop offset=".938" stop-color="#deff00"/><stop offset=".945" stop-color="#caff00"/><stop offset=".953" stop-color="#b1ff00"/><stop offset=".961" stop-color="#98ff09"/><stop offset=".969" stop-color="#7eff26"/><stop offset=".977" stop-color="#6aff3e"/><stop offset=".984" stop-color="#51ff46"/><stop offset=".992" stop-color="#3bff49"/><stop offset="1" stop-color="#2dff4b"/></linearGradient>
<linearGradient id="g171"><stop offset="0" stop-color="#ffeb00"/><stop offset=".047" stop-color="#ffd700"/><stop offset=".141" stop-color="#ffcf00"/><stop offset=".242" stop-color="#ffb700"/><stop offset=".352" stop-color="#ffae00"/><stop offset=".422" stop-color="#ffad00"/><stop offset=".828" stop-color="#ffc300"/><stop offset=".867" stop-color="#ffcd00"/><stop offset=".891" stop-color="#ffd700"/><stop offset=".914" stop-color="#fffb00"/><stop offset=".922" stop-color="#f7ff00"/><stop offset=".938" stop-color="#dbff00"/><stop offset=".953" stop-color="#afff00"/><stop offset=".961" stop-color="#96ff0b"/><stop offset=".969" stop-color="#7eff27"/><stop offset=".977" stop-color="#6aff3d"/><stop offset=".984" stop-color="#52ff46"/><stop offset=".992" stop-color="#3cff49"/><stop offset="1" stop-color="#2eff4b"/></linearGradient>
<linearGradient id="g172"><stop offset="0" stop-color="#ffeb00"/><stop offset=".055" stop-color="#ffd600"/><stop offset=".133" stop-color="#ffd000"/><stop offset=".242" stop-color="#ffb300"/><stop offset=".398" stop-color="#ffae00"/><stop offset=".516" stop-color="#ffb300"/><stop offset=".82" stop-color="#ffc900"/><stop offset=".875" stop-color="#ffd600"/><stop offset=".906" stop-color="#fff800"/><stop offset=".914" stop-color="#fdff00"/><stop offset=".93" stop-color="#e5ff00"/><stop offset=".938" stop-color="#d7ff00"/><stop offset=".953" stop-color="#adff00"/><stop offset=".961" stop-color="#95ff0c"/><stop offset=".969" stop-color="#7eff27"/><stop offset=".977" stop-color="#6bff3d"/><stop offset=".984" stop-color="#54ff46"/><stop offset=".992" stop-color="#3dff49"/><stop offset="1" stop-color="#2eff4a"/></linearGradient>
<linearGradient id="g173"><stop offset="0" stop-color="#ffeb00"/><stop offset=".055" stop-color="#ffd700"/><stop offset=".133" stop-color="#ffd100"/><stop offset=".234" stop-color="#ffb200"/><stop offset=".391" stop-color="#ffaf00"/><stop offset=".508" stop-color="#ffb600"/><stop offset=".82" stop-color="#ffcf00"/><stop offset=".852" stop-color="#ffd600"/><stop offset=".906" stop-color="#ffff00"/><stop offset=".93" stop-color="#dfff00"/><stop offset=".938" stop-color="#d1ff00"/><stop offset=".953" stop-color="#aaff00"/><stop offset=".961" stop-color="#94ff0e"/><stop offset=".977" stop-color="#6bff3c"/><stop offset=".984" stop-color="#54ff46"/><stop offset=".992" stop-color="#3eff49"/><stop offset="1" stop-color="#2eff4a"/></linearGradient>
<linearGradient id="g174"><stop offset="0" stop-color="#ffeb00"/><stop offset=".062" stop-color="#ffd700"/><stop offset=".133" stop-color="#ffd100"/><stop offset=".188" stop-color="#ffbf00"/><stop offset=".234" stop-color="#ffb300"/><stop offset=".383" stop-color="#ffb200"/><stop offset=".82" stop-color="#ffd500"/><stop offset=".844" stop-color="#ffdf00"/><stop offset=".898" stop-color="#feff00"/><stop offset=".914" stop-color="#efff00"/><stop offset=".93" stop-color="#d9ff00"/><stop offset=".953" stop-color="#a5ff00"/><stop offset=".961" stop-color="#90ff12"/><stop offset=".977" stop-color="#6aff3d"/><stop offset=".984" stop-color="#53ff46"/><stop offset=".992" stop-color="#3dff49"/><stop offset="1" stop-color="#2dff4b"/></linearGradient>
<linearGradient id="g175"><stop offset="0" stop-color="#ffeb00"/><stop offset=".055" stop-color="#ffda00"/><stop offset=".133" stop-color="#ffd300"/><stop offset=".234" stop-color="#ffb900"/><stop offset=".383" stop-color="#ffb600"/><stop offset=".781" stop-color="#ffd600"/><stop offset=".828" stop-color="#ffe400"/><stop offset=".883" stop-color="#fffe00"/><stop offset=".906" stop-color="#eeff00"/><stop offset=".922" stop-color="#dcff00"/><stop offset=".945" stop-color="#aeff00"/><stop offset=".953" stop-color="#9dff03"/><stop offset=".961" stop-color="#89ff1a"/><stop offset=".977" stop-color="#65ff42"/><stop offset=".992" stop-color="#38ff49"/><stop offset="1" stop-color="#29ff4b"/></linearGradient>
<linearGradient id="g176"><stop offset="0" stop-color="#ffeb00"/><stop offset=".062" stop-color="#ffda00"/><stop offset=".133" stop-color="#ffd400"/><stop offset=".234" stop-color="#ffc100"/><stop offset=".383" stop-color="#ffbd00"/><stop offset=".5" stop-color="#ffc900"/><stop offset=".711" stop-color="#ffd600"/><stop offset=".797" stop-color="#ffe700"/><stop offset=".867" stop-color="#fffd00"/><stop offset=".875" stop-color="#fdff00"/><stop offset=".891" stop-color="#f3ff00"/><stop offset=".914" stop-color="#dcff00"/><stop offset=".922" stop-color="#d0ff00"/><stop offset=".945" stop-color="#a3ff00"/><stop offset=".953" stop-color="#91ff11"/><stop offset=".969" stop-color="#6eff38"/><stop offset=".977" stop-color="#5cff45"/><stop offset=".992" stop-color="#31ff4a"/><stop offset="1" stop-color="#23ff4c"/></linearGradient>
<linearGradient id="g177"><stop offset="0" stop-color="#ffec00"/><stop offset=".062" stop-color="#ffdb00"/><stop offset=".234" stop-color="#ffc900"/><stop offset=".383" stop-color="#ffc300"/><stop offset=".492" stop-color="#ffcf00"/><stop offset=".633" stop-color="#ffd600"/><stop offset=".852" stop-color="#feff00"/><stop offset=".883" stop-color="#f1ff00"/><stop offset=".898" stop-color="#e3ff00"/><stop offset=".914" stop-color="#d1ff00"/><stop offset=".938" stop-color="#a8ff00"/><stop offset=".945" stop-color="#99ff08"/><stop offset=".969" stop-color="#67ff40"/><stop offset=".977" stop-color="#52ff46"/><stop offset=".992" stop-color="#2aff4b"/><stop offset="1" stop-color="#1cff4d"/></linearGradient>
<linearGradient id="g178"><stop offset="0" stop-color="#ffec00"/><stop offset=".047" stop-color="#ffdf00"/><stop offset=".078" stop-color="#ffda00"/><stop offset=".25" stop-color="#ffcc00"/><stop offset=".383" stop-color="#ffc900"/><stop offset=".609" stop-color="#ffdf00"/><stop offset=".797" stop-color="#fffe00"/><stop offset=".836" stop-color="#f8ff00"/><stop offset=".875" stop-color="#ecff00"/><stop offset=".891" stop-color="#e1ff00"/><stop offset=".906" stop-color="#d1ff00"/><stop offset=".938" stop-color="#a1ff00"/><stop offset=".969" stop-color="#62ff44"/><stop offset=".984" stop-color="#37ff49"/><stop offset=".992" stop-color="#25ff4c"/><stop offset="1" stop-color="#17ff4d"/></linearGradient>
<linearGradient id="g179"><stop offset="0" stop-color="#ffec00"/><stop offset=".047" stop-color="#ffdf00"/><stop offset=".078" stop-color="#ffdb00"/><stop offset=".25" stop-color="#ffcf00"/><stop offset=".375" stop-color="#ffcd00"/><stop offset=".477" stop-color="#ffd600"/><stop offset=".617" stop-color="#ffea00"/><stop offset=".727" stop-color="#fffe00"/><stop offset=".836" stop-color="#ecff00"/><stop offset=".883" stop-color="#dcff00"/><stop offset=".891" stop-color="#d7ff00"/><stop offset=".914" stop-color="#bcff00"/><stop offset=".93" stop-color="#a6ff00"/><stop offset=".938" stop-color="#9aff07"/><stop offset=".961" stop-color="#6eff39"/><stop offset=".969" stop-color="#5dff45"/><stop offset=".992" stop-color="#20ff4c"/><stop offset="1" stop-color="#12ff4e"/></linearGradient>
<linearGradient id="g180"><stop offset="0" stop-color="#ffed00"/><stop offset=".055" stop-color="#ffdf00"/><stop offset=".148" stop-color="#ffd600"/><stop offset=".258" stop-color="#ffd000"/><stop offset=".375" stop-color="#ffd100"/><stop offset=".445" stop-color="#ffd600"/><stop offset=".5" stop-color="#ffe100"/><stop offset=".68" stop-color="#fffe00"/><stop offset=".828" stop-color="#e1ff00"/><stop offset=".859" stop-color="#d8ff00"/><stop offset=".883" stop-color="#cdff00"/><stop offset=".906" stop-color="#baff00"/><stop offset=".93" stop-color="#a0ff00"/><stop offset=".961" stop-color="#6bff3c"/><stop offset=".969" stop-color="#59ff45"/><stop offset=".992" stop-color="#1cff4d"/><stop offset="1" stop-color="#0dff4e"/></linearGradient>
<linearGradient id="g181"><stop offset="0" stop-color="#ffef00"/><stop offset=".039" stop-color="#ffe300"/><stop offset=".07" stop-color="#ffdd00"/><stop offset=".164" stop-color="#ffd600"/><stop offset=".312" stop-color="#ffd300"/><stop offset=".406" stop-color="#ffd600"/><stop offset=".5" stop-color="#ffe800"/><stop offset=".648" stop-color="#ffff00"/><stop offset=".742" stop-color="#e7ff00"/><stop offset=".812" stop-color="#d8ff00"/><stop offset=".883" stop-color="#bdff00"/><stop offset=".906" stop-color="#b0ff00"/><stop offset=".922" stop-color="#a3ff00"/><stop offset=".93" stop-color="#99ff07"/><stop offset=".938" stop-color="#8fff14"/><stop offset=".961" stop-color="#69ff3f"/><stop offset=".969" stop-color="#56ff46"/><stop offset=".992" stop-color="#18ff4d"/><stop offset="1" stop-color="#09ff4f"/></linearGradient>
<linearGradient id="g182"><stop offset="0" stop-color="#fff000"/><stop offset=".039" stop-color="#ffe300"/><stop offset=".07" stop-color="#ffde00"/><stop offset=".188" stop-color="#ffd600"/><stop offset=".281" stop-color="#ffd500"/><stop offset=".391" stop-color="#ffdf00"/><stop offset=".609" stop-color="#ffff00"/><stop offset=".656" stop-color="#f5ff00"/><stop offset=".812" stop-color="#cbff00"/><stop offset=".891" stop-color="#aeff00"/><stop offset=".914" stop-color="#a2ff00"/><stop offset=".922" stop-color="#9cff05"/><stop offset=".938" stop-color="#8aff19"/><stop offset=".961" stop-color="#66ff42"/><stop offset=".992" stop-color="#16ff4d"/><stop offset="1" stop-color="#07ff4f"/></linearGradient>
<linearGradient id="g183"><stop offset="0" stop-color="#fff200"/><stop offset=".039" stop-color="#ffe500"/><stop offset=".062" stop-color="#ffe100"/><stop offset=".25" stop-color="#ffda00"/><stop offset=".297" stop-color="#ffdd00"/><stop offset=".438" stop-color="#fff200"/><stop offset=".547" stop-color="#ffff00"/><stop offset=".656" stop-color="#edff00"/><stop offset=".812" stop-color="#c0ff00"/><stop offset=".906" stop-color="#a1ff00"/><stop offset=".914" stop-color="#9cff05"/><stop offset=".938" stop-color="#85ff1e"/><stop offset=".961" stop-color="#63ff44"/><stop offset=".992" stop-color="#14ff4e"/><stop offset="1" stop-color="#06ff4f"/></linearGradient>
<linearGradient id="g184"><stop offset="0" stop-color="#fff400"/><stop offset=".039" stop-color="#ffe800"/><stop offset=".07" stop-color="#ffe300"/><stop offset=".242" stop-color="#ffe000"/><stop offset=".289" stop-color="#ffe400"/><stop offset=".367" stop-color="#fff200"/><stop offset=".461" stop-color="#ffff00"/><stop offset=".617" stop-color="#ebff00"/><stop offset=".703" stop-color="#d9ff00"/><stop offset=".891" stop-color="#a2ff00"/><stop offset=".898" stop-color="#9fff01"/><stop offset=".914" stop-color="#96ff0b"/><stop offset=".938" stop-color="#82ff22"/><stop offset=".953" stop-color="#6dff3a"/><stop offset=".961" stop-color="#5fff45"/><stop offset=".992" stop-color="#13ff4e"/><stop offset="1" stop-color="#06ff4f"/></linearGradient>
<linearGradient id="g185"><stop offset="0" stop-color="#fff600"/><stop offset=".062" stop-color="#ffe900"/><stop offset=".203" stop-color="#ffe700"/><stop offset=".273" stop-color="#ffea00"/><stop offset=".398" stop-color="#ffff00"/><stop offset=".484" stop-color="#efff00"/><stop offset=".617" stop-color="#e0ff00"/><stop offset=".68" stop-color="#d6ff00"/><stop offset=".883" stop-color="#a1ff00"/><stop offset=".914" stop-color="#92ff10"/><stop offset=".938" stop-color="#7fff26"/><stop offset=".953" stop-color="#6bff3d"/><stop offset=".961" stop-color="#5bff45"/><stop offset=".984" stop-color="#23ff4c"/><stop offset=".992" stop-color="#12ff4e"/><stop offset="1" stop-color="#05ff4f"/></linearGradient>
<linearGradient id="g186"><stop offset="0" stop-color="#fff900"/><stop offset=".062" stop-color="#ffef00"/><stop offset=".18" stop-color="#ffee00"/><stop offset=".273" stop-color="#fff300"/><stop offset=".352" stop-color="#feff00"/><stop offset=".484" stop-color="#e2ff00"/><stop offset=".602" stop-color="#d6ff00"/><stop offset=".688" stop-color="#c9ff00"/><stop offset=".867" stop-color="#a1ff00"/><stop offset=".891" stop-color="#99ff08"/><stop offset=".914" stop-color="#8dff15"/><stop offset=".93" stop-color="#82ff22"/><stop offset=".945" stop-color="#72ff34"/><stop offset=".953" stop-color="#68ff40"/><stop offset=".961" stop-color="#57ff46"/><stop offset=".984" stop-color="#21ff4c"/><stop offset=".992" stop-color="#11ff4e"/><stop offset="1" stop-color="#05ff4f"/></linearGradient>
<linearGradient id="g187"><stop offset="0" stop-color="#fffd00"/><stop offset=".055" stop-color="#fff600"/><stop offset=".141" stop-color="#fff500"/><stop offset=".25" stop-color="#fff800"/><stop offset=".305" stop-color="#ffff00"/><stop offset=".391" stop-color="#edff00"/><stop offset=".5" stop-color="#d1ff00"/><stop offset=".734" stop-color="#b6ff00"/><stop offset=".836" stop-color="#a1ff00"/><stop offset=".867" stop-color="#9aff07"/><stop offset=".914" stop-color="#87ff1c"/><stop offset=".93" stop-color="#7dff27"/><stop offset=".945" stop-color="#6eff38"/><stop offset=".953" stop-color="#64ff44"/><stop offset=".984" stop-color="#1fff4c"/><stop offset="1" stop-color="#05ff4f"/></linearGradient>
<linearGradient id="g188"><stop offset="0" stop-color="#fbff00"/><stop offset=".031" stop-color="#ffff00"/><stop offset=".18" stop-color="#ffff00"/><stop offset=".266" stop-color="#faff00"/><stop offset=".391" stop-color="#e1ff00"/><stop offset=".5" stop-color="#c1ff00"/><stop offset=".727" stop-color="#abff00"/><stop offset=".781" stop-color="#a1ff00"/><stop offset=".812" stop-color="#98ff09"/><stop offset=".875" stop-color="#8eff14"/><stop offset=".922" stop-color="#7aff2b"/><stop offset=".945" stop-color="#67ff40"/><stop offset=".953" stop-color="#59ff45"/><stop offset=".977" stop-color="#28ff4b"/><stop offset=".992" stop-color="#0dff4e"/><stop offset="1" stop-color="#03ff50"/></linearGradient>
<linearGradient id="g189"><stop offset="0" stop-color="#efff00"/><stop offset=".055" stop-color="#f5ff00"/><stop offset=".133" stop-color="#f5ff00"/><stop offset=".258" stop-color="#eaff00"/><stop offset=".367" stop-color="#d7ff00"/><stop offset=".492" stop-color="#b3ff00"/><stop offset=".672" stop-color="#a0ff00"/><stop offset=".75" stop-color="#95ff0c"/><stop offset=".812" stop-color="#86ff1d"/><stop offset=".883" stop-color="#7eff27"/><stop offset=".914" stop-color="#71ff35"/><stop offset=".938" stop-color="#61ff44"/><stop offset=".969" stop-color="#26ff4b"/><stop offset=".992" stop-color="#06ff4f"/><stop offset="1" stop-color="#00ff50"/></linearGradient>
<linearGradient id="g190"><stop offset="0" stop-color="#e0ff00"/><stop offset=".07" stop-color="#e6ff00"/><stop offset=".141" stop-color="#e6ff00"/><stop offset=".195" stop-color="#e0ff00"/><stop offset=".273" stop-color="#d4ff00"/><stop offset=".469" stop-color="#a8ff00"/><stop offset=".523" stop-color="#a0ff00"/><stop offset=".633" stop-color="#91ff11"/><stop offset=".805" stop-color="#72ff35"/><stop offset=".883" stop-color="#6cff3b"/><stop offset=".906" stop-color="#64ff44"/><stop offset=".922" stop-color="#57ff46"/><stop offset=".938" stop-color="#45ff48"/><stop offset=".961" stop-color="#1bff4d"/><stop offset=".969" stop-color="#10ff4e"/><stop offset=".984" stop-color="#02ff50"/><stop offset="1" stop-color="#00ff52"/></linearGradient>
<linearGradient id="g191"><stop offset="0" stop-color="#ceff00"/><stop offset=".055" stop-color="#d7ff00"/><stop offset=".141" stop-color="#d7ff00"/><stop offset=".422" stop-color="#a0ff00"/><stop offset=".5" stop-color="#8eff14"/><stop offset=".633" stop-color="#7bff2a"/><stop offset=".734" stop-color="#63ff44"/><stop offset=".797" stop-color="#53ff46"/><stop offset=".875" stop-color="#4fff47"/><stop offset=".898" stop-color="#46ff48"/><stop offset=".922" stop-color="#35ff4a"/><stop offset=".938" stop-color="#24ff4c"/><stop offset=".961" stop-color="#00ff50"/><stop offset="1" stop-color="#00ff55"/></linearGradient>
<linearGradient id="g192"><stop offset="0" stop-color="#beff00"/><stop offset=".047" stop-color="#c5ff00"/><stop offset=".117" stop-color="#c5ff00"/><stop offset=".188" stop-color="#bcff00"/><stop offset=".336" stop-color="#9fff01"/><stop offset=".492" stop-color="#79ff2d"/><stop offset=".617" stop-color="#63ff44"/><stop offset=".719" stop-color="#3bff49"/><stop offset=".758" stop-color="#2eff4a"/><stop offset=".805" stop-color="#25ff4c"/><stop offset=".883" stop-color="#23ff4c"/><stop offset=".914" stop-color="#14ff4e"/><stop offset=".938" stop-color="#00ff50"/><stop offset=".969" stop-color="#00ff58"/><stop offset="1" stop-color="#00ff57"/></linearGradient>
<linearGradient id="g193"><stop offset="0" stop-color="#b1ff00"/><stop offset=".055" stop-color="#b6ff00"/><stop offset=".141" stop-color="#b3ff00"/><stop offset=".25" stop-color="#a0ff00"/><stop offset=".359" stop-color="#8aff19"/><stop offset=".398" stop-color="#7fff25"/><stop offset=".477" stop-color="#64ff44"/><stop offset=".516" stop-color="#53ff46"/><stop offset=".625" stop-color="#30ff4a"/><stop offset=".719" stop-color="#09ff4f"/><stop offset=".75" stop-color="#00ff50"/><stop offset=".891" stop-color="#00ff57"/><stop offset=".953" stop-color="#00ff5f"/><stop offset="1" stop-color="#00ff5b"/></linearGradient>
<linearGradient id="g194"><stop offset="0" stop-color="#a4ff00"/><stop offset=".062" stop-color="#a6ff00"/><stop offset=".164" stop-color="#a0ff00"/><stop offset=".367" stop-color="#78ff2d"/><stop offset=".422" stop-color="#63ff44"/><stop offset=".469" stop-color="#3eff49"/><stop offset=".5" stop-color="#2aff4b"/><stop offset=".602" stop-color="#01ff50"/><stop offset=".773" stop-color="#00ff62"/><stop offset=".914" stop-color="#00ff6b"/><stop offset=".945" stop-color="#00ff6a"/><stop offset="1" stop-color="#00ff5e"/></linearGradient>
<linearGradient id="g195"><stop offset="0" stop-color="#95ff0c"/><stop offset=".062" stop-color="#93ff0f"/><stop offset=".156" stop-color="#8bff18"/><stop offset=".289" stop-color="#78ff2e"/><stop offset=".367" stop-color="#65ff42"/><stop offset=".383" stop-color="#5eff45"/><stop offset=".406" stop-color="#4cff47"/><stop offset=".484" stop-color="#00ff50"/><stop offset=".617" stop-color="#00ff64"/><stop offset=".867" stop-color="#00ff7c"/><stop offset=".93" stop-color="#00ff7b"/><stop offset="1" stop-color="#00ff61"/></linearGradient>
<linearGradient id="g196"><stop offset="0" stop-color="#83ff21"/><stop offset=".055" stop-color="#7cff29"/><stop offset=".234" stop-color="#6cff3b"/><stop offset=".281" stop-color="#64ff44"/><stop offset=".32" stop-color="#52ff46"/><stop offset=".375" stop-color="#32ff4a"/><stop offset=".398" stop-color="#1fff4c"/><stop offset=".43" stop-color="#00ff51"/><stop offset=".492" stop-color="#00ff65"/><stop offset=".57" stop-color="#00ff72"/><stop offset=".867" stop-color="#00ff8f"/><stop offset=".906" stop-color="#00ff8f"/><stop offset=".93" stop-color="#00ff89"/><stop offset=".977" stop-color="#00ff6e"/><stop offset="1" stop-color="#00ff64"/></linearGradient>
<linearGradient id="g197"><stop offset="0" stop-color="#70ff36"/><stop offset=".039" stop-color="#63ff44"/><stop offset=".062" stop-color="#5dff45"/><stop offset=".133" stop-color="#59ff45"/><stop offset=".258" stop-color="#46ff48"/><stop offset=".289" stop-color="#35ff4a"/><stop offset=".344" stop-color="#03ff50"/><stop offset=".352" stop-color="#00ff51"/><stop offset=".484" stop-color="#00ff7b"/><stop offset=".562" stop-color="#00ff8a"/><stop offset=".625" stop-color="#00ff92"/><stop offset=".867" stop-color="#00fda3"/><stop offset=".898" stop-color="#00fda2"/><stop offset=".922" stop-color="#00fe9d"/><stop offset=".945" stop-color="#00ff8f"/><stop offset=".977" stop-color="#00ff76"/><stop offset="1" stop-color="#00ff67"/></linearGradient>
<linearGradient id="g198"><stop offset="0" stop-color="#57ff46"/><stop offset=".031" stop-color="#3bff49"/><stop offset=".055" stop-color="#2eff4a"/><stop offset=".133" stop-color="#2eff4a"/><stop offset=".242" stop-color="#20ff4c"/><stop offset=".266" stop-color="#18ff4d"/><stop offset=".289" stop-color="#02ff50"/><stop offset=".297" stop-color="#00ff52"/><stop offset=".359" stop-color="#00ff6d"/><stop offset=".453" stop-color="#00ff8d"/><stop offset=".555" stop-color="#00fda4"/><stop offset=".617" stop-color="#00fcab"/><stop offset=".867" stop-color="#00fcb6"/><stop offset=".898" stop-color="#00fcb4"/><stop offset=".922" stop-color="#00fcac"/><stop offset=".945" stop-color="#00fe9c"/><stop offset="1" stop-color="#00ff69"/></linearGradient>
<linearGradient id="g199"><stop offset="0" stop-color="#35ff4a"/><stop offset=".039" stop-color="#0bff4f"/><stop offset=".062" stop-color="#01ff50"/><stop offset=".148" stop-color="#00ff50"/><stop offset=".266" stop-color="#00ff57"/><stop offset=".297" stop-color="#00ff64"/><stop offset=".367" stop-color="#00ff89"/><stop offset=".438" stop-color="#00fda1"/><stop offset=".547" stop-color="#00fbba"/><stop offset=".617" stop-color="#00fac3"/><stop offset=".867" stop-color="#00fac7"/><stop offset=".898" stop-color="#00fac4"/><stop offset=".914" stop-color="#00fbbe"/><stop offset=".938" stop-color="#00fcac"/><stop offset="1" stop-color="#00ff6a"/></linearGradient>
<linearGradient id="g200"><stop offset="0" stop-color="#11ff4e"/><stop offset=".016" stop-color="#00ff50"/><stop offset=".055" stop-color="#00ff5b"/><stop offset=".258" stop-color="#00ff68"/><stop offset=".289" stop-color="#00ff73"/><stop offset=".367" stop-color="#00fd9f"/><stop offset=".422" stop-color="#00fcb2"/><stop offset=".477" stop-color="#00fbc0"/><stop offset=".539" stop-color="#00facd"/><stop offset=".617" stop-color="#00fbd7"/><stop offset=".773" stop-color="#00fbd6"/><stop offset=".891" stop-color="#00fbd1"/><stop offset=".906" stop-color="#00facc"/><stop offset=".922" stop-color="#00fbc1"/><stop offset=".945" stop-color="#00fda9"/><stop offset=".992" stop-color="#00ff71"/><stop offset="1" stop-color="#00ff6b"/></linearGradient>
<linearGradient id="g201"><stop offset="0" stop-color="#00ff58"/><stop offset=".055" stop-color="#00ff67"/><stop offset=".258" stop-color="#00ff80"/><stop offset=".289" stop-color="#00ff8c"/><stop offset=".359" stop-color="#00fcb1"/><stop offset=".422" stop-color="#00fac5"/><stop offset=".477" stop-color="#00fbd3"/><stop offset=".539" stop-color="#00fcdf"/><stop offset=".617" stop-color="#00fde8"/><stop offset=".766" stop-color="#00fde7"/><stop offset=".867" stop-color="#00fce1"/><stop offset=".891" stop-color="#00fcdc"/><stop offset=".906" stop-color="#00fbd5"/><stop offset=".922" stop-color="#00fac8"/><stop offset=".977" stop-color="#00ff83"/><stop offset="1" stop-color="#00ff6b"/></linearGradient>
<linearGradient id="g202"><stop offset="0" stop-color="#00ff65"/><stop offset=".125" stop-color="#00ff82"/><stop offset=".258" stop-color="#00fe9c"/><stop offset=".367" stop-color="#00fac7"/><stop offset=".453" stop-color="#00fce0"/><stop offset=".562" stop-color="#00fef3"/><stop offset=".625" stop-color="#00fef8"/><stop offset=".766" stop-color="#00fef7"/><stop offset=".883" stop-color="#00fde9"/><stop offset=".898" stop-color="#00fce2"/><stop offset=".914" stop-color="#00fbd6"/><stop offset=".93" stop-color="#00fac3"/><stop offset=".977" stop-color="#00ff83"/><stop offset="1" stop-color="#00ff6b"/></linearGradient>
<linearGradient id="g203"><stop offset="0" stop-color="#00ff6f"/><stop offset=".07" stop-color="#00ff7e"/><stop offset=".125" stop-color="#00ff90"/><stop offset=".258" stop-color="#00fcb2"/><stop offset=".32" stop-color="#00fac7"/><stop offset=".414" stop-color="#00fce3"/><stop offset=".492" stop-color="#00fef5"/><stop offset=".555" stop-color="#00ffff"/><stop offset=".633" stop-color="#00faff"/><stop offset=".75" stop-color="#00faff"/><stop offset=".797" stop-color="#00ffff"/><stop offset=".867" stop-color="#00fef5"/><stop offset=".898" stop-color="#00fde8"/><stop offset=".922" stop-color="#00fbd1"/><stop offset=".969" stop-color="#00ff8c"/><stop offset=".984" stop-color="#00ff79"/><stop offset="1" stop-color="#00ff6b"/></linearGradient>
<linearGradient id="g204"><stop offset="0" stop-color="#00ff74"/><stop offset=".062" stop-color="#00ff80"/><stop offset=".141" stop-color="#00fe9c"/><stop offset=".297" stop-color="#00fac9"/><stop offset=".438" stop-color="#00fef0"/><stop offset=".5" stop-color="#00fffe"/><stop offset=".586" stop-color="#00f5ff"/><stop offset=".633" stop-color="#00f4ff"/><stop offset=".758" stop-color="#00f4ff"/><stop offset=".836" stop-color="#00ffff"/><stop offset=".875" stop-color="#00fef7"/><stop offset=".891" stop-color="#00fef0"/><stop offset=".906" stop-color="#00fde5"/><stop offset=".922" stop-color="#00fbd3"/><stop offset=".969" stop-color="#00ff8c"/><stop offset=".984" stop-color="#00ff79"/><stop offset="1" stop-color="#00ff6a"/></linearGradient>
<linearGradient id="g205"><stop offset="0" stop-color="#00ff74"/><stop offset=".062" stop-color="#00ff80"/><stop offset=".141" stop-color="#00fe9d"/><stop offset=".289" stop-color="#00fac7"/><stop offset=".492" stop-color="#00ffff"/><stop offset=".578" stop-color="#00f3ff"/><stop offset=".633" stop-color="#00f0ff"/><stop offset=".758" stop-color="#00f0ff"/><stop offset=".844" stop-color="#00ffff"/><stop offset=".883" stop-color="#00fef4"/><stop offset=".906" stop-color="#00fde5"/><stop offset=".922" stop-color="#00fbd3"/><stop offset=".969" stop-color="#00ff8c"/><stop offset=".984" stop-color="#00ff79"/><stop offset="1" stop-color="#00ff6a"/></linearGradient>
<linearGradient id="g206"><stop offset="0" stop-color="#00ff74"/><stop offset=".062" stop-color="#00ff80"/><stop offset=".141" stop-color="#00fe9d"/><stop offset=".289" stop-color="#00fac7"/><stop offset=".492" stop-color="#00ffff"/><stop offset=".578" stop-color="#00f3ff"/><stop offset=".633" stop-color="#00f0ff"/><stop offset=".758" stop-color="#00f0ff"/><stop offset=".844" stop-color="#00ffff"/><stop offset=".883" stop-color="#00fef4"/><stop offset=".906" stop-color="#00fde5"/><stop offset=".922" stop-color="#00fbd3"/><stop offset=".969" stop-color="#00ff8c"/><stop offset=".984" stop-color="#00ff79"/><stop offset="1" stop-color="#00ff6a"/></linearGradient>
<linearGradient id="g207"><stop offset="0" stop-color="#00ff74"/><stop offset=".062" stop-color="#00ff80"/><stop offset=".141" stop-color="#00fe9d"/><stop offset=".289" stop-color="#00fac7"/><stop offset=".492" stop-color="#00ffff"/><stop offset=".578" stop-color="#00f3ff"/><stop offset=".633" stop-color="#00f0ff"/><stop offset=".758" stop-color="#00f0ff"/><stop offset=".844" stop-color="#00ffff"/><stop offset=".883" stop-color="#00fef4"/><stop offset=".906" stop-color="#00fde5"/><stop offset=".922" stop-color="#00fbd3"/><stop offset=".969" stop-color="#00ff8c"/><stop offset=".984" stop-color="#00ff79"/><stop offset="1" stop-color="#00ff6a"/></linearGradient>
<clipPath id="c4"><rect x="158.3" y="1844.2" width="815.9" height="654.4"/></clipPath>
<linearGradient id="g208"><stop offset="0" stop-color="#00ff53"/><stop offset=".039" stop-color="#00ff50"/><stop offset=".07" stop-color="#0cff4f"/><stop offset=".109" stop-color="#22ff4c"/><stop offset=".125" stop-color="#28ff4b"/><stop offset=".25" stop-color="#34ff4a"/><stop offset=".414" stop-color="#64ff44"/><stop offset=".5" stop-color="#6cff3b"/><stop offset=".57" stop-color="#68ff40"/><stop offset=".609" stop-color="#63ff44"/><stop offset=".672" stop-color="#5bff45"/><stop offset=".727" stop-color="#4fff46"/><stop offset=".805" stop-color="#39ff49"/><stop offset=".875" stop-color="#31ff4a"/><stop offset=".898" stop-color="#2aff4b"/><stop offset="1" stop-color="#01ff50"/></linearGradient>
<linearGradient id="g209"><stop offset="0" stop-color="#00ff53"/><stop offset=".039" stop-color="#00ff50"/><stop offset=".07" stop-color="#0cff4f"/><stop offset=".109" stop-color="#22ff4c"/><stop offset=".125" stop-color="#28ff4b"/><stop offset=".25" stop-color="#34ff4a"/><stop offset=".414" stop-color="#64ff44"/><stop offset=".5" stop-color="#6cff3b"/><stop offset=".57" stop-color="#68ff40"/><stop offset=".609" stop-color="#63ff44"/><stop offset=".672" stop-color="#5bff45"/><stop offset=".727" stop-color="#4fff46"/><stop offset=".805" stop-color="#39ff49"/><stop offset=".875" stop-color="#31ff4a"/><stop offset=".898" stop-color="#2aff4b"/><stop offset="1" stop-color="#01ff50"/></linearGradient>
<linearGradient id="g210"><stop offset="0" stop-color="#00ff53"/><stop offset=".039" stop-color="#00ff50"/><stop offset=".07" stop-color="#0cff4f"/><stop offset=".109" stop-color="#22ff4c"/><stop offset=".125" stop-color="#28ff4b"/><stop offset=".25" stop-color="#34ff4a"/><stop offset=".414" stop-color="#64ff44"/><stop offset=".5" stop-color="#6cff3b"/><stop offset=".57" stop-color="#68ff40"/><stop offset=".609" stop-color="#63ff44"/><stop offset=".672" stop-color="#5bff45"/><stop offset=".727" stop-color="#4fff46"/><stop offset=".805" stop-color="#39ff49"/><stop offset=".875" stop-color="#31ff4a"/><stop offset=".898" stop-color="#2aff4b"/><stop offset="1" stop-color="#01ff50"/></linearGradient>
<linearGradient id="g211"><stop offset="0" stop-color="#05ff4f"/><stop offset=".031" stop-color="#10ff4e"/><stop offset=".062" stop-color="#20ff4c"/><stop offset=".117" stop-color="#50ff46"/><stop offset=".141" stop-color="#5cff45"/><stop offset=".164" stop-color="#64ff44"/><stop offset=".195" stop-color="#69ff3f"/><stop offset=".25" stop-color="#74ff32"/><stop offset=".281" stop-color="#80ff24"/><stop offset=".344" stop-color="#a0ff00"/><stop offset=".445" stop-color="#bdff00"/><stop offset=".5" stop-color="#c4ff00"/><stop offset=".555" stop-color="#bfff00"/><stop offset=".68" stop-color="#a9ff00"/><stop offset=".719" stop-color="#9fff01"/><stop offset=".805" stop-color="#7bff2a"/><stop offset=".883" stop-color="#69ff3e"/><stop offset=".898" stop-color="#60ff44"/><stop offset=".938" stop-color="#3aff49"/><stop offset="1" stop-color="#02ff50"/></linearGradient>
<linearGradient id="g212"><stop offset="0" stop-color="#09ff4f"/><stop offset=".031" stop-color="#16ff4d"/><stop offset=".062" stop-color="#2aff4b"/><stop offset=".125" stop-color="#65ff42"/><stop offset=".227" stop-color="#8eff14"/><stop offset=".266" stop-color="#a1ff00"/><stop offset=".367" stop-color="#d6ff00"/><stop offset=".445" stop-color="#ebff00"/><stop offset=".5" stop-color="#f1ff00"/><stop offset=".547" stop-color="#edff00"/><stop offset=".68" stop-color="#d7ff00"/><stop offset=".805" stop-color="#a1ff00"/><stop offset=".875" stop-color="#87ff1d"/><stop offset=".906" stop-color="#73ff32"/><stop offset=".93" stop-color="#60ff44"/><stop offset=".992" stop-color="#0cff4f"/><stop offset="1" stop-color="#04ff50"/></linearGradient>
<linearGradient id="g213"><stop offset="0" stop-color="#09ff4f"/><stop offset=".023" stop-color="#13ff4e"/><stop offset=".062" stop-color="#2dff4b"/><stop offset=".086" stop-color="#42ff48"/><stop offset=".117" stop-color="#63ff44"/><stop offset=".211" stop-color="#9eff03"/><stop offset=".219" stop-color="#a2ff00"/><stop offset=".266" stop-color="#bcff00"/><stop offset=".305" stop-color="#d5ff00"/><stop offset=".352" stop-color="#ebff00"/><stop offset=".414" stop-color="#fffe00"/><stop offset=".461" stop-color="#fff400"/><stop offset=".5" stop-color="#fff000"/><stop offset=".547" stop-color="#fff400"/><stop offset=".609" stop-color="#ffff00"/><stop offset=".695" stop-color="#edff00"/><stop offset=".766" stop-color="#caff00"/><stop offset=".859" stop-color="#a3ff00"/><stop offset=".867" stop-color="#9fff01"/><stop offset=".875" stop-color="#9aff07"/><stop offset=".914" stop-color="#7fff26"/><stop offset=".945" stop-color="#64ff44"/><stop offset=".969" stop-color="#3cff49"/><stop offset=".992" stop-color="#10ff4e"/><stop offset="1" stop-color="#05ff4f"/></linearGradient>
<linearGradient id="g214"><stop offset="0" stop-color="#0aff4f"/><stop offset=".023" stop-color="#15ff4d"/><stop offset=".055" stop-color="#2bff4b"/><stop offset=".078" stop-color="#3eff49"/><stop offset=".109" stop-color="#5fff45"/><stop offset=".125" stop-color="#6cff3b"/><stop offset=".188" stop-color="#9dff04"/><stop offset=".195" stop-color="#a3ff00"/><stop offset=".273" stop-color="#d6ff00"/><stop offset=".359" stop-color="#ffff00"/><stop offset=".453" stop-color="#ffe300"/><stop offset=".5" stop-color="#ffdd00"/><stop offset=".547" stop-color="#ffe200"/><stop offset=".68" stop-color="#ffff00"/><stop offset=".703" stop-color="#f6ff00"/><stop offset=".742" stop-color="#e0ff00"/><stop offset=".812" stop-color="#c2ff00"/><stop offset=".875" stop-color="#a2ff00"/><stop offset=".883" stop-color="#9dff03"/><stop offset=".914" stop-color="#87ff1d"/><stop offset=".953" stop-color="#62ff44"/><stop offset=".969" stop-color="#44ff48"/><stop offset=".992" stop-color="#13ff4e"/><stop offset="1" stop-color="#06ff4f"/></linearGradient>
<linearGradient id="g215"><stop offset="0" stop-color="#14ff4e"/><stop offset=".016" stop-color="#1cff4d"/><stop offset=".047" stop-color="#34ff4a"/><stop offset=".102" stop-color="#66ff41"/><stop offset=".133" stop-color="#7eff27"/><stop offset=".172" stop-color="#a0ff00"/><stop offset=".25" stop-color="#d5ff00"/><stop offset=".336" stop-color="#feff00"/><stop offset=".453" stop-color="#ffe300"/><stop offset=".5" stop-color="#ffde00"/><stop offset=".547" stop-color="#ffe300"/><stop offset=".664" stop-color="#fffd00"/><stop offset=".695" stop-color="#f7ff00"/><stop offset=".742" stop-color="#ddff00"/><stop offset=".859" stop-color="#a4ff00"/><stop offset=".867" stop-color="#9fff01"/><stop offset=".883" stop-color="#94ff0e"/><stop offset=".945" stop-color="#62ff44"/><stop offset=".961" stop-color="#49ff47"/><stop offset=".992" stop-color="#10ff4e"/><stop offset="1" stop-color="#04ff4f"/></linearGradient>
<linearGradient id="g216"><stop offset="0" stop-color="#2bff4b"/><stop offset=".023" stop-color="#3cff49"/><stop offset=".062" stop-color="#61ff44"/><stop offset=".07" stop-color="#67ff41"/><stop offset=".109" stop-color="#82ff22"/><stop offset=".148" stop-color="#a1ff00"/><stop offset=".234" stop-color="#d8ff00"/><stop offset=".32" stop-color="#feff00"/><stop offset=".367" stop-color="#fff200"/><stop offset=".484" stop-color="#ffe700"/><stop offset=".531" stop-color="#ffeb00"/><stop offset=".633" stop-color="#fffe00"/><stop offset=".656" stop-color="#f9ff00"/><stop offset=".703" stop-color="#e7ff00"/><stop offset=".828" stop-color="#a2ff00"/><stop offset=".836" stop-color="#9dff03"/><stop offset=".883" stop-color="#7aff2b"/><stop offset=".906" stop-color="#67ff41"/><stop offset=".914" stop-color="#5fff45"/><stop offset="1" stop-color="#00ff50"/></linearGradient>
<linearGradient id="g217"><stop offset="0" stop-color="#46ff48"/><stop offset=".031" stop-color="#64ff44"/><stop offset=".117" stop-color="#a1ff00"/><stop offset=".211" stop-color="#d8ff00"/><stop offset=".305" stop-color="#fdff00"/><stop offset=".359" stop-color="#fff100"/><stop offset=".383" stop-color="#ffef00"/><stop offset=".508" stop-color="#fff300"/><stop offset=".594" stop-color="#fffe00"/><stop offset=".641" stop-color="#f4ff00"/><stop offset=".703" stop-color="#d9ff00"/><stop offset=".789" stop-color="#a3ff00"/><stop offset=".797" stop-color="#9dff03"/><stop offset=".875" stop-color="#60ff44"/><stop offset=".914" stop-color="#2aff4b"/><stop offset=".93" stop-color="#1bff4d"/><stop offset=".984" stop-color="#01ff50"/><stop offset="1" stop-color="#00ff52"/></linearGradient>
<linearGradient id="g218"><stop offset="0" stop-color="#5cff45"/><stop offset=".008" stop-color="#63ff44"/><stop offset=".016" stop-color="#69ff3e"/><stop offset=".086" stop-color="#9fff01"/><stop offset=".18" stop-color="#d6ff00"/><stop offset=".297" stop-color="#ffff00"/><stop offset=".352" stop-color="#fff100"/><stop offset=".383" stop-color="#ffee00"/><stop offset=".547" stop-color="#ffff00"/><stop offset=".609" stop-color="#f3ff00"/><stop offset=".648" stop-color="#e7ff00"/><stop offset=".68" stop-color="#d7ff00"/><stop offset=".766" stop-color="#a0ff00"/><stop offset=".812" stop-color="#76ff30"/><stop offset=".836" stop-color="#61ff44"/><stop offset=".914" stop-color="#00ff50"/><stop offset=".945" stop-color="#00ff56"/><stop offset="1" stop-color="#00ff54"/></linearGradient>
<linearGradient id="g219"><stop offset="0" stop-color="#6bff3d"/><stop offset=".062" stop-color="#9fff02"/><stop offset=".148" stop-color="#d6ff00"/><stop offset=".227" stop-color="#f4ff00"/><stop offset=".273" stop-color="#ffff00"/><stop offset=".344" stop-color="#fff100"/><stop offset=".375" stop-color="#ffee00"/><stop offset=".406" stop-color="#fff000"/><stop offset=".508" stop-color="#ffff00"/><stop offset=".578" stop-color="#f1ff00"/><stop offset=".633" stop-color="#e1ff00"/><stop offset=".656" stop-color="#d6ff00"/><stop offset=".688" stop-color="#c1ff00"/><stop offset=".742" stop-color="#a0ff00"/><stop offset=".766" stop-color="#8aff19"/><stop offset=".797" stop-color="#68ff40"/><stop offset=".805" stop-color="#5dff45"/><stop offset=".844" stop-color="#1fff4c"/><stop offset=".867" stop-color="#01ff50"/><stop offset=".938" stop-color="#00ff60"/><stop offset=".961" stop-color="#00ff5f"/><stop offset="1" stop-color="#00ff59"/></linearGradient>
<linearGradient id="g220"><stop offset="0" stop-color="#76ff30"/><stop offset=".047" stop-color="#a2ff00"/><stop offset=".125" stop-color="#d9ff00"/><stop offset=".219" stop-color="#fdff00"/><stop offset=".375" stop-color="#ffee00"/><stop offset=".406" stop-color="#fff100"/><stop offset=".477" stop-color="#ffff00"/><stop offset=".555" stop-color="#eeff00"/><stop offset=".625" stop-color="#d8ff00"/><stop offset=".711" stop-color="#a1ff00"/><stop offset=".727" stop-color="#97ff0a"/><stop offset=".75" stop-color="#84ff20"/><stop offset=".773" stop-color="#6aff3e"/><stop offset=".781" stop-color="#5dff45"/><stop offset=".805" stop-color="#2cff4b"/><stop offset=".828" stop-color="#02ff50"/><stop offset=".867" stop-color="#00ff60"/><stop offset=".93" stop-color="#00ff6a"/><stop offset=".961" stop-color="#00ff69"/><stop offset="1" stop-color="#00ff5e"/></linearGradient>
<linearGradient id="g221"><stop offset="0" stop-color="#83ff20"/><stop offset=".023" stop-color="#9bff05"/><stop offset=".031" stop-color="#a3ff00"/><stop offset=".102" stop-color="#daff00"/><stop offset=".188" stop-color="#feff00"/><stop offset=".242" stop-color="#fff300"/><stop offset=".367" stop-color="#ffee00"/><stop offset=".398" stop-color="#fff000"/><stop offset=".461" stop-color="#ffff00"/><stop offset=".594" stop-color="#d8ff00"/><stop offset=".633" stop-color="#c4ff00"/><stop offset=".68" stop-color="#a3ff00"/><stop offset=".688" stop-color="#9eff02"/><stop offset=".727" stop-color="#82ff22"/><stop offset=".758" stop-color="#66ff42"/><stop offset=".766" stop-color="#58ff45"/><stop offset=".805" stop-color="#02ff50"/><stop offset=".852" stop-color="#00ff69"/><stop offset=".875" stop-color="#00ff6f"/><stop offset=".945" stop-color="#00ff71"/><stop offset="1" stop-color="#00ff62"/></linearGradient>
<linearGradient id="g222"><stop offset="0" stop-color="#97ff0b"/><stop offset=".008" stop-color="#9eff02"/><stop offset=".016" stop-color="#a6ff00"/><stop offset=".078" stop-color="#daff00"/><stop offset=".117" stop-color="#eeff00"/><stop offset=".164" stop-color="#ffff00"/><stop offset=".227" stop-color="#ffed00"/><stop offset=".258" stop-color="#ffeb00"/><stop offset=".383" stop-color="#ffef00"/><stop offset=".453" stop-color="#feff00"/><stop offset=".57" stop-color="#d7ff00"/><stop offset=".625" stop-color="#baff00"/><stop offset=".664" stop-color="#a1ff00"/><stop offset=".734" stop-color="#67ff41"/><stop offset=".742" stop-color="#5dff45"/><stop offset=".766" stop-color="#34ff4a"/><stop offset=".789" stop-color="#01ff50"/><stop offset=".844" stop-color="#00ff6e"/><stop offset=".875" stop-color="#00ff77"/><stop offset=".945" stop-color="#00ff74"/><stop offset="1" stop-color="#00ff63"/></linearGradient>
<linearGradient id="g223"><stop offset="0" stop-color="#afff00"/><stop offset=".047" stop-color="#d8ff00"/><stop offset=".094" stop-color="#f1ff00"/><stop offset=".125" stop-color="#feff00"/><stop offset=".211" stop-color="#ffe900"/><stop offset=".25" stop-color="#ffe400"/><stop offset=".383" stop-color="#fff100"/><stop offset=".438" stop-color="#ffff00"/><stop offset=".547" stop-color="#d7ff00"/><stop offset=".648" stop-color="#9fff02"/><stop offset=".695" stop-color="#77ff2f"/><stop offset=".719" stop-color="#5fff45"/><stop offset=".75" stop-color="#2cff4b"/><stop offset=".773" stop-color="#01ff50"/><stop offset=".844" stop-color="#00ff74"/><stop offset=".875" stop-color="#00ff7c"/><stop offset=".945" stop-color="#00ff75"/><stop offset="1" stop-color="#00ff63"/></linearGradient>
<linearGradient id="g224"><stop offset="0" stop-color="#c9ff00"/><stop offset=".039" stop-color="#e5ff00"/><stop offset=".094" stop-color="#fffe00"/><stop offset=".188" stop-color="#ffe600"/><stop offset=".25" stop-color="#ffdf00"/><stop offset=".312" stop-color="#ffe600"/><stop offset=".422" stop-color="#fffe00"/><stop offset=".523" stop-color="#d8ff00"/><stop offset=".625" stop-color="#a0ff00"/><stop offset=".664" stop-color="#84ff1f"/><stop offset=".688" stop-color="#71ff36"/><stop offset=".703" stop-color="#5fff45"/><stop offset=".75" stop-color="#08ff4f"/><stop offset=".758" stop-color="#00ff52"/><stop offset=".844" stop-color="#00ff79"/><stop offset=".875" stop-color="#00ff81"/><stop offset=".945" stop-color="#00ff76"/><stop offset="1" stop-color="#00ff63"/></linearGradient>
<linearGradient id="g225"><stop offset="0" stop-color="#deff00"/><stop offset=".047" stop-color="#faff00"/><stop offset=".062" stop-color="#fffd00"/><stop offset=".125" stop-color="#ffe600"/><stop offset=".195" stop-color="#ffdc00"/><stop offset=".25" stop-color="#ffd900"/><stop offset=".305" stop-color="#ffe000"/><stop offset=".414" stop-color="#ffff00"/><stop offset=".516" stop-color="#d5ff00"/><stop offset=".602" stop-color="#a3ff00"/><stop offset=".609" stop-color="#9eff02"/><stop offset=".672" stop-color="#71ff35"/><stop offset=".688" stop-color="#63ff44"/><stop offset=".703" stop-color="#47ff48"/><stop offset=".734" stop-color="#04ff4f"/><stop offset=".742" stop-color="#00ff53"/><stop offset=".844" stop-color="#00ff7d"/><stop offset=".875" stop-color="#00ff84"/><stop offset=".898" stop-color="#00ff82"/><stop offset=".945" stop-color="#00ff77"/><stop offset="1" stop-color="#00ff63"/></linearGradient>
<linearGradient id="g226"><stop offset="0" stop-color="#edff00"/><stop offset=".031" stop-color="#fffe00"/><stop offset=".086" stop-color="#ffe400"/><stop offset=".117" stop-color="#ffdb00"/><stop offset=".156" stop-color="#ffd600"/><stop offset=".242" stop-color="#ffd500"/><stop offset=".289" stop-color="#ffd700"/><stop offset=".406" stop-color="#ffff00"/><stop offset=".5" stop-color="#d8ff00"/><stop offset=".594" stop-color="#a1ff00"/><stop offset=".602" stop-color="#9bff05"/><stop offset=".672" stop-color="#62ff44"/><stop offset=".695" stop-color="#3cff49"/><stop offset=".719" stop-color="#0aff4f"/><stop offset=".727" stop-color="#00ff52"/><stop offset=".773" stop-color="#00ff69"/><stop offset=".867" stop-color="#00ff87"/><stop offset=".891" stop-color="#00ff86"/><stop offset=".922" stop-color="#00ff7f"/><stop offset=".953" stop-color="#00ff76"/><stop offset="1" stop-color="#00ff63"/></linearGradient>
<linearGradient id="g227"><stop offset="0" stop-color="#f9ff00"/><stop offset=".008" stop-color="#feff00"/><stop offset=".016" stop-color="#fffb00"/><stop offset=".047" stop-color="#ffe400"/><stop offset=".078" stop-color="#ffd700"/><stop offset=".125" stop-color="#ffd300"/><stop offset=".242" stop-color="#ffd100"/><stop offset=".305" stop-color="#ffd700"/><stop offset=".359" stop-color="#fff100"/><stop offset=".406" stop-color="#fdff00"/><stop offset=".5" stop-color="#d5ff00"/><stop offset=".586" stop-color="#a2ff00"/><stop offset=".594" stop-color="#9cff04"/><stop offset=".656" stop-color="#63ff44"/><stop offset=".688" stop-color="#2eff4a"/><stop offset=".711" stop-color="#00ff50"/><stop offset=".742" stop-color="#00ff63"/><stop offset=".773" stop-color="#00ff70"/><stop offset=".867" stop-color="#00ff89"/><stop offset=".898" stop-color="#00ff87"/><stop offset=".938" stop-color="#00ff7e"/><stop offset="1" stop-color="#00ff65"/></linearGradient>
<linearGradient id="g228"><stop offset="0" stop-color="#fff900"/><stop offset=".008" stop-color="#fff500"/><stop offset=".039" stop-color="#ffd800"/><stop offset=".055" stop-color="#ffd300"/><stop offset=".117" stop-color="#ffcf00"/><stop offset=".25" stop-color="#ffce00"/><stop offset=".312" stop-color="#ffd600"/><stop offset=".359" stop-color="#fff100"/><stop offset=".398" stop-color="#ffff00"/><stop offset=".492" stop-color="#d7ff00"/><stop offset=".586" stop-color="#9eff02"/><stop offset=".625" stop-color="#7bff2a"/><stop offset=".648" stop-color="#60ff45"/><stop offset=".695" stop-color="#03ff50"/><stop offset=".703" stop-color="#00ff54"/><stop offset=".742" stop-color="#00ff69"/><stop offset=".773" stop-color="#00ff75"/><stop offset=".867" stop-color="#00ff8b"/><stop offset=".898" stop-color="#00ff89"/><stop offset=".938" stop-color="#00ff81"/><stop offset=".961" stop-color="#00ff7a"/><stop offset="1" stop-color="#00ff67"/></linearGradient>
<linearGradient id="g229"><stop offset="0" stop-color="#ffef00"/><stop offset=".023" stop-color="#ffd900"/><stop offset=".031" stop-color="#ffd500"/><stop offset=".055" stop-color="#ffcf00"/><stop offset=".258" stop-color="#ffcc00"/><stop offset=".312" stop-color="#ffd500"/><stop offset=".359" stop-color="#fff100"/><stop offset=".391" stop-color="#fffe00"/><stop offset=".484" stop-color="#d9ff00"/><stop offset=".578" stop-color="#a0ff00"/><stop offset=".617" stop-color="#7cff29"/><stop offset=".641" stop-color="#60ff45"/><stop offset=".68" stop-color="#08ff4f"/><stop offset=".688" stop-color="#00ff52"/><stop offset=".734" stop-color="#00ff6b"/><stop offset=".773" stop-color="#00ff7a"/><stop offset=".812" stop-color="#00ff84"/><stop offset=".867" stop-color="#00ff8d"/><stop offset=".898" stop-color="#00ff8c"/><stop offset=".945" stop-color="#00ff82"/><stop offset="1" stop-color="#00ff69"/></linearGradient>
<linearGradient id="g230"><stop offset="0" stop-color="#ffe500"/><stop offset=".023" stop-color="#ffd400"/><stop offset=".055" stop-color="#ffce00"/><stop offset=".258" stop-color="#ffcc00"/><stop offset=".312" stop-color="#ffd500"/><stop offset=".359" stop-color="#fff200"/><stop offset=".391" stop-color="#ffff00"/><stop offset=".484" stop-color="#d5ff00"/><stop offset=".562" stop-color="#a5ff00"/><stop offset=".57" stop-color="#9fff01"/><stop offset=".578" stop-color="#98ff09"/><stop offset=".617" stop-color="#73ff33"/><stop offset=".633" stop-color="#5fff45"/><stop offset=".672" stop-color="#03ff50"/><stop offset=".68" stop-color="#00ff54"/><stop offset=".727" stop-color="#00ff6c"/><stop offset=".766" stop-color="#00ff7b"/><stop offset=".805" stop-color="#00ff86"/><stop offset=".859" stop-color="#00ff8f"/><stop offset=".891" stop-color="#00ff8f"/><stop offset=".938" stop-color="#00ff87"/><stop offset=".961" stop-color="#00ff7f"/><stop offset="1" stop-color="#00ff6a"/></linearGradient>
<linearGradient id="g231"><stop offset="0" stop-color="#ffdd00"/><stop offset=".023" stop-color="#ffd200"/><stop offset=".062" stop-color="#ffcc00"/><stop offset=".266" stop-color="#ffcf00"/><stop offset=".312" stop-color="#ffd700"/><stop offset=".359" stop-color="#fff400"/><stop offset=".391" stop-color="#fdff00"/><stop offset=".477" stop-color="#d6ff00"/><stop offset=".555" stop-color="#a2ff00"/><stop offset=".57" stop-color="#95ff0d"/><stop offset=".617" stop-color="#66ff41"/><stop offset=".633" stop-color="#49ff47"/><stop offset=".664" stop-color="#02ff50"/><stop offset=".703" stop-color="#00ff65"/><stop offset=".75" stop-color="#00ff78"/><stop offset=".805" stop-color="#00ff88"/><stop offset=".859" stop-color="#00ff91"/><stop offset=".891" stop-color="#00ff91"/><stop offset=".938" stop-color="#00ff89"/><stop offset=".961" stop-color="#00ff80"/><stop offset="1" stop-color="#00ff6b"/></linearGradient>
<linearGradient id="g232"><stop offset="0" stop-color="#ffd600"/><stop offset=".039" stop-color="#ffce00"/><stop offset=".07" stop-color="#ffcc00"/><stop offset=".164" stop-color="#ffcd00"/><stop offset=".273" stop-color="#ffd300"/><stop offset=".297" stop-color="#ffd600"/><stop offset=".352" stop-color="#fff200"/><stop offset=".383" stop-color="#ffff00"/><stop offset=".469" stop-color="#d7ff00"/><stop offset=".547" stop-color="#9fff01"/><stop offset=".602" stop-color="#68ff3f"/><stop offset=".609" stop-color="#5dff45"/><stop offset=".633" stop-color="#31ff4a"/><stop offset=".656" stop-color="#00ff50"/><stop offset=".688" stop-color="#00ff62"/><stop offset=".742" stop-color="#00ff77"/><stop offset=".797" stop-color="#00ff88"/><stop offset=".859" stop-color="#00fe94"/><stop offset=".891" stop-color="#00fe94"/><stop offset=".938" stop-color="#00ff8a"/><stop offset=".961" stop-color="#00ff81"/><stop offset="1" stop-color="#00ff6d"/></linearGradient>
<linearGradient id="g233"><stop offset="0" stop-color="#ffd400"/><stop offset=".039" stop-color="#ffcd00"/><stop offset=".078" stop-color="#ffcc00"/><stop offset=".164" stop-color="#ffce00"/><stop offset=".266" stop-color="#ffd600"/><stop offset=".383" stop-color="#fdff00"/><stop offset=".461" stop-color="#d7ff00"/><stop offset=".531" stop-color="#a2ff00"/><stop offset=".539" stop-color="#9bff06"/><stop offset=".586" stop-color="#69ff3e"/><stop offset=".594" stop-color="#5fff45"/><stop offset=".641" stop-color="#09ff4f"/><stop offset=".648" stop-color="#00ff52"/><stop offset=".688" stop-color="#00ff67"/><stop offset=".727" stop-color="#00ff75"/><stop offset=".805" stop-color="#00ff8c"/><stop offset=".867" stop-color="#00fe98"/><stop offset=".898" stop-color="#00fe96"/><stop offset=".938" stop-color="#00ff8c"/><stop offset=".961" stop-color="#00ff82"/><stop offset="1" stop-color="#00ff6e"/></linearGradient>
<linearGradient id="g234"><stop offset="0" stop-color="#ffd200"/><stop offset=".047" stop-color="#ffcc00"/><stop offset=".078" stop-color="#ffcc00"/><stop offset=".148" stop-color="#ffce00"/><stop offset=".227" stop-color="#ffd500"/><stop offset=".375" stop-color="#feff00"/><stop offset=".406" stop-color="#f1ff00"/><stop offset=".453" stop-color="#d8ff00"/><stop offset=".523" stop-color="#a0ff00"/><stop offset=".578" stop-color="#62ff44"/><stop offset=".633" stop-color="#00ff50"/><stop offset=".672" stop-color="#00ff65"/><stop offset=".703" stop-color="#00ff71"/><stop offset=".805" stop-color="#00ff8f"/><stop offset=".867" stop-color="#00fe9c"/><stop offset=".898" stop-color="#00fe99"/><stop offset=".938" stop-color="#00ff8d"/><stop offset="1" stop-color="#00ff6f"/></linearGradient>
<linearGradient id="g235"><stop offset="0" stop-color="#ffd300"/><stop offset=".062" stop-color="#ffcc00"/><stop offset=".18" stop-color="#ffd200"/><stop offset=".211" stop-color="#ffd600"/><stop offset=".297" stop-color="#fff100"/><stop offset=".352" stop-color="#fffe00"/><stop offset=".391" stop-color="#f4ff00"/><stop offset=".445" stop-color="#d7ff00"/><stop offset=".508" stop-color="#a4ff00"/><stop offset=".516" stop-color="#9dff04"/><stop offset=".562" stop-color="#67ff41"/><stop offset=".57" stop-color="#59ff45"/><stop offset=".617" stop-color="#02ff50"/><stop offset=".695" stop-color="#00ff73"/><stop offset=".805" stop-color="#00fe92"/><stop offset=".867" stop-color="#00fda0"/><stop offset=".891" stop-color="#00fd9e"/><stop offset=".922" stop-color="#00fe95"/><stop offset=".961" stop-color="#00ff85"/><stop offset="1" stop-color="#00ff70"/></linearGradient>
<linearGradient id="g236"><stop offset="0" stop-color="#ffd400"/><stop offset=".062" stop-color="#ffcf00"/><stop offset=".172" stop-color="#ffd400"/><stop offset=".195" stop-color="#ffd800"/><stop offset=".273" stop-color="#fff100"/><stop offset=".328" stop-color="#fffe00"/><stop offset=".391" stop-color="#ecff00"/><stop offset=".438" stop-color="#d4ff00"/><stop offset=".5" stop-color="#a1ff00"/><stop offset=".508" stop-color="#99ff08"/><stop offset=".555" stop-color="#62ff44"/><stop offset=".602" stop-color="#06ff4f"/><stop offset=".609" stop-color="#00ff52"/><stop offset=".656" stop-color="#00ff69"/><stop offset=".695" stop-color="#00ff78"/><stop offset=".812" stop-color="#00fe99"/><stop offset=".867" stop-color="#00fda5"/><stop offset=".891" stop-color="#00fda3"/><stop offset=".914" stop-color="#00fe9c"/><stop offset=".953" stop-color="#00ff8b"/><stop offset="1" stop-color="#00ff71"/></linearGradient>
<linearGradient id="g237"><stop offset="0" stop-color="#ffda00"/><stop offset=".055" stop-color="#ffd300"/><stop offset=".156" stop-color="#ffd600"/><stop offset=".305" stop-color="#ffff00"/><stop offset=".391" stop-color="#e1ff00"/><stop offset=".414" stop-color="#d7ff00"/><stop offset=".484" stop-color="#a3ff00"/><stop offset=".492" stop-color="#9bff05"/><stop offset=".516" stop-color="#83ff21"/><stop offset=".539" stop-color="#68ff40"/><stop offset=".547" stop-color="#5bff45"/><stop offset=".586" stop-color="#0cff4f"/><stop offset=".594" stop-color="#00ff51"/><stop offset=".641" stop-color="#00ff69"/><stop offset=".688" stop-color="#00ff7c"/><stop offset=".805" stop-color="#00fe9d"/><stop offset=".867" stop-color="#00fcaa"/><stop offset=".883" stop-color="#00fdaa"/><stop offset=".906" stop-color="#00fda3"/><stop offset=".953" stop-color="#00ff8d"/><stop offset="1" stop-color="#00ff72"/></linearGradient>
<linearGradient id="g238"><stop offset="0" stop-color="#ffe400"/><stop offset=".047" stop-color="#ffda00"/><stop offset=".102" stop-color="#ffdb00"/><stop offset=".172" stop-color="#ffe500"/><stop offset=".281" stop-color="#fffe00"/><stop offset=".305" stop-color="#f8ff00"/><stop offset=".383" stop-color="#d8ff00"/><stop offset=".469" stop-color="#a2ff00"/><stop offset=".477" stop-color="#9bff06"/><stop offset=".516" stop-color="#74ff32"/><stop offset=".531" stop-color="#61ff44"/><stop offset=".578" stop-color="#03ff50"/><stop offset=".586" stop-color="#00ff54"/><stop offset=".633" stop-color="#00ff6c"/><stop offset=".688" stop-color="#00ff82"/><stop offset=".805" stop-color="#00fda4"/><stop offset=".867" stop-color="#00fcb1"/><stop offset=".883" stop-color="#00fcb0"/><stop offset=".906" stop-color="#00fda8"/><stop offset=".953" stop-color="#00ff90"/><stop offset="1" stop-color="#00ff74"/></linearGradient>
<linearGradient id="g239"><stop offset="0" stop-color="#fff000"/><stop offset=".047" stop-color="#ffe800"/><stop offset=".086" stop-color="#ffe800"/><stop offset=".156" stop-color="#ffef00"/><stop offset=".266" stop-color="#ffff00"/><stop offset=".305" stop-color="#f0ff00"/><stop offset=".359" stop-color="#d6ff00"/><stop offset=".445" stop-color="#a3ff00"/><stop offset=".453" stop-color="#9dff03"/><stop offset=".484" stop-color="#82ff22"/><stop offset=".516" stop-color="#64ff44"/><stop offset=".562" stop-color="#08ff4f"/><stop offset=".57" stop-color="#00ff52"/><stop offset=".617" stop-color="#00ff6c"/><stop offset=".68" stop-color="#00ff86"/><stop offset=".805" stop-color="#00fcac"/><stop offset=".867" stop-color="#00fbb8"/><stop offset=".883" stop-color="#00fbb7"/><stop offset=".906" stop-color="#00fcae"/><stop offset="1" stop-color="#00ff75"/></linearGradient>
<linearGradient id="g240"><stop offset="0" stop-color="#fff900"/><stop offset=".078" stop-color="#fff500"/><stop offset=".219" stop-color="#ffff00"/><stop offset=".258" stop-color="#f9ff00"/><stop offset=".297" stop-color="#ebff00"/><stop offset=".336" stop-color="#d8ff00"/><stop offset=".422" stop-color="#a2ff00"/><stop offset=".438" stop-color="#96ff0b"/><stop offset=".492" stop-color="#69ff3e"/><stop offset=".5" stop-color="#60ff44"/><stop offset=".508" stop-color="#54ff46"/><stop offset=".547" stop-color="#0bff4f"/><stop offset=".555" stop-color="#00ff51"/><stop offset=".617" stop-color="#00ff74"/><stop offset=".672" stop-color="#00ff8b"/><stop offset=".805" stop-color="#00fcb5"/><stop offset=".859" stop-color="#00fbc0"/><stop offset=".883" stop-color="#00fbbf"/><stop offset=".898" stop-color="#00fbb9"/><stop offset="1" stop-color="#00ff77"/></linearGradient>
<linearGradient id="g241"><stop offset="0" stop-color="#fbff00"/><stop offset=".07" stop-color="#ffff00"/><stop offset=".172" stop-color="#f9ff00"/><stop offset=".258" stop-color="#edff00"/><stop offset=".305" stop-color="#dcff00"/><stop offset=".398" stop-color="#a2ff00"/><stop offset=".406" stop-color="#9cff05"/><stop offset=".469" stop-color="#69ff3e"/><stop offset=".477" stop-color="#62ff44"/><stop offset=".492" stop-color="#4bff47"/><stop offset=".531" stop-color="#0aff4f"/><stop offset=".539" stop-color="#00ff51"/><stop offset=".609" stop-color="#00ff79"/><stop offset=".664" stop-color="#00ff90"/><stop offset=".805" stop-color="#00fbc0"/><stop offset=".859" stop-color="#00faca"/><stop offset=".883" stop-color="#00faca"/><stop offset=".898" stop-color="#00fac3"/><stop offset="1" stop-color="#00ff79"/></linearGradient>
<linearGradient id="g242"><stop offset="0" stop-color="#eeff00"/><stop offset=".062" stop-color="#f3ff00"/><stop offset=".148" stop-color="#f0ff00"/><stop offset=".25" stop-color="#e0ff00"/><stop offset=".289" stop-color="#d4ff00"/><stop offset=".375" stop-color="#a1ff00"/><stop offset=".391" stop-color="#96ff0b"/><stop offset=".445" stop-color="#69ff3f"/><stop offset=".453" stop-color="#61ff44"/><stop offset=".516" stop-color="#01ff50"/><stop offset=".609" stop-color="#00ff81"/><stop offset=".68" stop-color="#00fd9f"/><stop offset=".805" stop-color="#00facc"/><stop offset=".867" stop-color="#00fbd7"/><stop offset=".883" stop-color="#00fbd6"/><stop offset=".898" stop-color="#00fbcf"/><stop offset="1" stop-color="#00ff7b"/></linearGradient>
<linearGradient id="g243"><stop offset="0" stop-color="#e0ff00"/><stop offset=".062" stop-color="#e6ff00"/><stop offset=".156" stop-color="#e2ff00"/><stop offset=".219" stop-color="#d7ff00"/><stop offset=".266" stop-color="#c9ff00"/><stop offset=".297" stop-color="#bcff00"/><stop offset=".352" stop-color="#a0ff00"/><stop offset=".391" stop-color="#83ff21"/><stop offset=".422" stop-color="#69ff3e"/><stop offset=".43" stop-color="#61ff44"/><stop offset=".492" stop-color="#00ff50"/><stop offset=".68" stop-color="#00fdaa"/><stop offset=".805" stop-color="#00fcd9"/><stop offset=".859" stop-color="#00fce3"/><stop offset=".883" stop-color="#00fce3"/><stop offset=".898" stop-color="#00fcdb"/><stop offset=".922" stop-color="#00fac5"/><stop offset="1" stop-color="#00ff7d"/></linearGradient>
<linearGradient id="g244"><stop offset="0" stop-color="#d0ff00"/><stop offset=".055" stop-color="#d8ff00"/><stop offset=".148" stop-color="#d6ff00"/><stop offset=".195" stop-color="#caff00"/><stop offset=".312" stop-color="#a1ff00"/><stop offset=".359" stop-color="#85ff1f"/><stop offset=".398" stop-color="#69ff3f"/><stop offset=".406" stop-color="#60ff44"/><stop offset=".414" stop-color="#55ff46"/><stop offset=".461" stop-color="#09ff4f"/><stop offset=".469" stop-color="#00ff51"/><stop offset=".594" stop-color="#00ff8c"/><stop offset=".688" stop-color="#00fbb7"/><stop offset=".797" stop-color="#00fce3"/><stop offset=".859" stop-color="#00feef"/><stop offset=".883" stop-color="#00feef"/><stop offset=".898" stop-color="#00fde6"/><stop offset=".93" stop-color="#00fac6"/><stop offset="1" stop-color="#00ff80"/></linearGradient>
<linearGradient id="g245"><stop offset="0" stop-color="#bcff00"/><stop offset=".055" stop-color="#c5ff00"/><stop offset=".141" stop-color="#c4ff00"/><stop offset=".18" stop-color="#bbff00"/><stop offset=".25" stop-color="#a1ff00"/><stop offset=".266" stop-color="#9bff05"/><stop offset=".328" stop-color="#7fff26"/><stop offset=".375" stop-color="#64ff44"/><stop offset=".398" stop-color="#46ff48"/><stop offset=".438" stop-color="#08ff4f"/><stop offset=".445" stop-color="#00ff52"/><stop offset=".57" stop-color="#00ff8c"/><stop offset=".695" stop-color="#00fac6"/><stop offset=".797" stop-color="#00fdee"/><stop offset=".852" stop-color="#00fef9"/><stop offset=".883" stop-color="#00fef9"/><stop offset=".898" stop-color="#00feef"/><stop offset=".938" stop-color="#00fac5"/><stop offset="1" stop-color="#00ff82"/></linearGradient>
<linearGradient id="g246"><stop offset="0" stop-color="#aaff00"/><stop offset=".055" stop-color="#b1ff00"/><stop offset=".125" stop-color="#b1ff00"/><stop offset=".156" stop-color="#aeff00"/><stop offset=".195" stop-color="#a1ff00"/><stop offset=".328" stop-color="#64ff44"/><stop offset=".375" stop-color="#38ff49"/><stop offset=".391" stop-color="#25ff4c"/><stop offset=".414" stop-color="#02ff50"/><stop offset=".422" stop-color="#00ff53"/><stop offset=".5" stop-color="#00ff7b"/><stop offset=".617" stop-color="#00fcad"/><stop offset=".688" stop-color="#00facd"/><stop offset=".789" stop-color="#00fef5"/><stop offset=".828" stop-color="#00ffff"/><stop offset=".883" stop-color="#00ffff"/><stop offset=".891" stop-color="#00fffb"/><stop offset=".906" stop-color="#00fded"/><stop offset=".938" stop-color="#00facb"/><stop offset="1" stop-color="#00ff84"/></linearGradient>
<linearGradient id="g247"><stop offset="0" stop-color="#95ff0c"/><stop offset=".047" stop-color="#9bff06"/><stop offset=".125" stop-color="#9bff05"/><stop offset=".148" stop-color="#98ff09"/><stop offset=".172" stop-color="#91ff11"/><stop offset=".273" stop-color="#63ff44"/><stop offset=".328" stop-color="#34ff4a"/><stop offset=".375" stop-color="#03ff50"/><stop offset=".383" stop-color="#00ff52"/><stop offset=".508" stop-color="#00ff8f"/><stop offset=".648" stop-color="#00fac8"/><stop offset=".789" stop-color="#00ffff"/><stop offset=".852" stop-color="#00f9ff"/><stop offset=".875" stop-color="#00faff"/><stop offset=".891" stop-color="#00feff"/><stop offset=".906" stop-color="#00fef2"/><stop offset=".945" stop-color="#00fac7"/><stop offset="1" stop-color="#00ff87"/></linearGradient>
<linearGradient id="g248"><stop offset="0" stop-color="#7eff27"/><stop offset=".133" stop-color="#7eff27"/><stop offset=".156" stop-color="#7aff2b"/><stop offset=".188" stop-color="#6fff37"/><stop offset=".219" stop-color="#61ff44"/><stop offset=".266" stop-color="#3eff49"/><stop offset=".297" stop-color="#22ff4c"/><stop offset=".328" stop-color="#00ff50"/><stop offset=".398" stop-color="#00ff6b"/><stop offset=".516" stop-color="#00fda3"/><stop offset=".617" stop-color="#00fac9"/><stop offset=".727" stop-color="#00fef3"/><stop offset=".766" stop-color="#00feff"/><stop offset=".805" stop-color="#00f6ff"/><stop offset=".844" stop-color="#00f5ff"/><stop offset=".875" stop-color="#00f6ff"/><stop offset=".898" stop-color="#00fffe"/><stop offset=".945" stop-color="#00facb"/><stop offset="1" stop-color="#00ff8a"/></linearGradient>
<linearGradient id="g249"><stop offset="0" stop-color="#66ff42"/><stop offset=".062" stop-color="#5fff45"/><stop offset=".125" stop-color="#5eff45"/><stop offset=".156" stop-color="#56ff46"/><stop offset=".188" stop-color="#47ff47"/><stop offset=".219" stop-color="#34ff4a"/><stop offset=".258" stop-color="#1aff4d"/><stop offset=".281" stop-color="#04ff4f"/><stop offset=".289" stop-color="#00ff51"/><stop offset=".391" stop-color="#00ff7a"/><stop offset=".516" stop-color="#00fcb4"/><stop offset=".57" stop-color="#00fac8"/><stop offset=".727" stop-color="#00ffff"/><stop offset=".789" stop-color="#00f3ff"/><stop offset=".828" stop-color="#00f0ff"/><stop offset=".875" stop-color="#00f4ff"/><stop offset=".898" stop-color="#00feff"/><stop offset=".906" stop-color="#00fef9"/><stop offset=".953" stop-color="#00fac6"/><stop offset="1" stop-color="#00ff8c"/></linearGradient>
<linearGradient id="g250"><stop offset="0" stop-color="#3eff49"/><stop offset=".055" stop-color="#2eff4a"/><stop offset=".141" stop-color="#26ff4b"/><stop offset=".18" stop-color="#19ff4d"/><stop offset=".227" stop-color="#02ff50"/><stop offset=".266" stop-color="#00ff57"/><stop offset=".305" stop-color="#00ff65"/><stop offset=".508" stop-color="#00fbc2"/><stop offset=".594" stop-color="#00fce0"/><stop offset=".695" stop-color="#00ffff"/><stop offset=".75" stop-color="#00f2ff"/><stop offset=".82" stop-color="#00ebff"/><stop offset=".875" stop-color="#00f1ff"/><stop offset=".906" stop-color="#00fffd"/><stop offset=".953" stop-color="#00fac9"/><stop offset="1" stop-color="#00ff8e"/></linearGradient>
<linearGradient id="g251"><stop offset="0" stop-color="#14ff4e"/><stop offset=".039" stop-color="#01ff50"/><stop offset=".047" stop-color="#00ff51"/><stop offset=".172" stop-color="#00ff57"/><stop offset=".266" stop-color="#00ff65"/><stop offset=".297" stop-color="#00ff70"/><stop offset=".367" stop-color="#00fe93"/><stop offset=".492" stop-color="#00faca"/><stop offset=".57" stop-color="#00fde7"/><stop offset=".648" stop-color="#00ffff"/><stop offset=".742" stop-color="#00ebff"/><stop offset=".812" stop-color="#00e5ff"/><stop offset=".875" stop-color="#00edff"/><stop offset=".906" stop-color="#00fdff"/><stop offset=".914" stop-color="#00fef9"/><stop offset=".953" stop-color="#00facc"/><stop offset="1" stop-color="#00ff8f"/></linearGradient>
<linearGradient id="g252"><stop offset="0" stop-color="#00ff58"/><stop offset=".055" stop-color="#00ff61"/><stop offset=".195" stop-color="#00ff6a"/><stop offset=".266" stop-color="#00ff74"/><stop offset=".297" stop-color="#00ff7f"/><stop offset=".367" stop-color="#00fda1"/><stop offset=".477" stop-color="#00fbd0"/><stop offset=".609" stop-color="#00feff"/><stop offset=".734" stop-color="#00e4ff"/><stop offset=".812" stop-color="#00dfff"/><stop offset=".875" stop-color="#00e8ff"/><stop offset=".891" stop-color="#00efff"/><stop offset=".914" stop-color="#00fffe"/><stop offset=".961" stop-color="#00fac4"/><stop offset="1" stop-color="#00ff90"/></linearGradient>
<linearGradient id="g253"><stop offset="0" stop-color="#00ff68"/><stop offset=".078" stop-color="#00ff76"/><stop offset=".219" stop-color="#00ff7f"/><stop offset=".266" stop-color="#00ff85"/><stop offset=".297" stop-color="#00ff8f"/><stop offset=".367" stop-color="#00fcb0"/><stop offset=".43" stop-color="#00fac9"/><stop offset=".578" stop-color="#00feff"/><stop offset=".664" stop-color="#00e9ff"/><stop offset=".719" stop-color="#00deff"/><stop offset=".805" stop-color="#00d8ff"/><stop offset=".836" stop-color="#00daff"/><stop offset=".875" stop-color="#00e2ff"/><stop offset=".891" stop-color="#00e9ff"/><stop offset=".914" stop-color="#00fcff"/><stop offset=".922" stop-color="#00fef9"/><stop offset=".961" stop-color="#00fac5"/><stop offset=".992" stop-color="#00fe98"/><stop offset="1" stop-color="#00ff90"/></linearGradient>
<linearGradient id="g254"><stop offset="0" stop-color="#00ff79"/><stop offset=".055" stop-color="#00ff86"/><stop offset=".109" stop-color="#00ff8f"/><stop offset=".242" stop-color="#00fe94"/><stop offset=".273" stop-color="#00fe98"/><stop offset=".398" stop-color="#00fac8"/><stop offset=".547" stop-color="#00fffe"/><stop offset=".555" stop-color="#00fdff"/><stop offset=".68" stop-color="#00dbff"/><stop offset=".742" stop-color="#00d3ff"/><stop offset=".805" stop-color="#00d1ff"/><stop offset=".836" stop-color="#00d3ff"/><stop offset=".875" stop-color="#00daff"/><stop offset=".891" stop-color="#00e2ff"/><stop offset=".922" stop-color="#00fffd"/><stop offset=".961" stop-color="#00fac6"/><stop offset=".992" stop-color="#00fe98"/><stop offset="1" stop-color="#00ff90"/></linearGradient>
<linearGradient id="g255"><stop offset="0" stop-color="#00ff88"/><stop offset=".109" stop-color="#00fda1"/><stop offset=".25" stop-color="#00fda4"/><stop offset=".273" stop-color="#00fda7"/><stop offset=".305" stop-color="#00fcb0"/><stop offset=".367" stop-color="#00fac8"/><stop offset=".523" stop-color="#00ffff"/><stop offset=".531" stop-color="#00fdff"/><stop offset=".68" stop-color="#00d0ff"/><stop offset=".734" stop-color="#00cbff"/><stop offset=".805" stop-color="#00c9ff"/><stop offset=".852" stop-color="#00cdff"/><stop offset=".883" stop-color="#00d5ff"/><stop offset=".898" stop-color="#00e2ff"/><stop offset=".922" stop-color="#00fdff"/><stop offset=".961" stop-color="#00fac7"/><stop offset=".992" stop-color="#00fe98"/><stop offset="1" stop-color="#00ff90"/></linearGradient>
<linearGradient id="g256"><stop offset="0" stop-color="#00ff92"/><stop offset=".109" stop-color="#00fcad"/><stop offset=".25" stop-color="#00fcaf"/><stop offset=".281" stop-color="#00fcb3"/><stop offset=".344" stop-color="#00fac8"/><stop offset=".5" stop-color="#00fffe"/><stop offset=".602" stop-color="#00e1ff"/><stop offset=".68" stop-color="#00c6ff"/><stop offset=".758" stop-color="#00bfff"/><stop offset=".828" stop-color="#00bfff"/><stop offset=".875" stop-color="#00c9ff"/><stop offset=".883" stop-color="#00cdff"/><stop offset=".898" stop-color="#00dbff"/><stop offset=".922" stop-color="#00f9ff"/><stop offset=".93" stop-color="#00fef9"/><stop offset=".961" stop-color="#00fac8"/><stop offset=".992" stop-color="#00fe98"/><stop offset="1" stop-color="#00ff90"/></linearGradient>
<linearGradient id="g257"><stop offset="0" stop-color="#00fe97"/><stop offset=".109" stop-color="#00fcb3"/><stop offset=".25" stop-color="#00fcb4"/><stop offset=".281" stop-color="#00fbb8"/><stop offset=".336" stop-color="#00faca"/><stop offset=".484" stop-color="#00ffff"/><stop offset=".617" stop-color="#00d4ff"/><stop offset=".68" stop-color="#00bbff"/><stop offset=".719" stop-color="#00b3ff"/><stop offset=".75" stop-color="#00b1ff"/><stop offset=".82" stop-color="#00b2ff"/><stop offset=".867" stop-color="#00bcff"/><stop offset=".891" stop-color="#00ccff"/><stop offset=".922" stop-color="#00f5ff"/><stop offset=".93" stop-color="#00fffe"/><stop offset=".961" stop-color="#00faca"/><stop offset=".992" stop-color="#00fe99"/><stop offset="1" stop-color="#00ff90"/></linearGradient>
<linearGradient id="g258"><stop offset="0" stop-color="#00fe97"/><stop offset=".109" stop-color="#00fcb3"/><stop offset=".25" stop-color="#00fcb4"/><stop offset=".281" stop-color="#00fbb8"/><stop offset=".336" stop-color="#00faca"/><stop offset=".484" stop-color="#00ffff"/><stop offset=".617" stop-color="#00d4ff"/><stop offset=".68" stop-color="#00bbff"/><stop offset=".719" stop-color="#00b3ff"/><stop offset=".75" stop-color="#00b1ff"/><stop offset=".82" stop-color="#00b2ff"/><stop offset=".867" stop-color="#00bcff"/><stop offset=".891" stop-color="#00ccff"/><stop offset=".922" stop-color="#00f5ff"/><stop offset=".93" stop-color="#00fffe"/><stop offset=".961" stop-color="#00faca"/><stop offset=".992" stop-color="#00fe99"/><stop offset="1" stop-color="#00ff90"/></linearGradient>
<linearGradient id="g259"><stop offset="0" stop-color="#00fe97"/><stop offset=".109" stop-color="#00fcb3"/><stop offset=".25" stop-color="#00fcb4"/><stop offset=".281" stop-color="#00fbb8"/><stop offset=".336" stop-color="#00faca"/><stop offset=".484" stop-color="#00ffff"/><stop offset=".617" stop-color="#00d4ff"/><stop offset=".68" stop-color="#00bbff"/><stop offset=".719" stop-color="#00b3ff"/><stop offset=".75" stop-color="#00b1ff"/><stop offset=".82" stop-color="#00b2ff"/><stop offset=".867" stop-color="#00bcff"/><stop offset=".891" stop-color="#00ccff"/><stop offset=".922" stop-color="#00f5ff"/><stop offset=".93" stop-color="#00fffe"/><stop offset=".961" stop-color="#00faca"/><stop offset=".992" stop-color="#00fe99"/><stop offset="1" stop-color="#00ff90"/></linearGradient>
<clipPath id="c5"><rect x="1015.8" y="1844.2" width="812.8" height="654.4"/></clipPath>
<linearGradient id="g260"><stop offset="0" stop-color="#3eff49"/><stop offset=".141" stop-color="#63ff44"/><stop offset=".25" stop-color="#7aff2b"/><stop offset=".367" stop-color="#98ff09"/><stop offset=".43" stop-color="#9fff01"/><stop offset=".516" stop-color="#9eff02"/><stop offset=".578" stop-color="#97ff0b"/><stop offset=".688" stop-color="#81ff23"/><stop offset=".82" stop-color="#62ff44"/><stop offset=".938" stop-color="#39ff49"/><stop offset=".961" stop-color="#29ff4b"/><stop offset="1" stop-color="#03ff50"/></linearGradient>
<linearGradient id="g261"><stop offset="0" stop-color="#3eff49"/><stop offset=".141" stop-color="#63ff44"/><stop offset=".25" stop-color="#7aff2b"/><stop offset=".367" stop-color="#98ff09"/><stop offset=".43" stop-color="#9fff01"/><stop offset=".516" stop-color="#9eff02"/><stop offset=".578" stop-color="#97ff0b"/><stop offset=".688" stop-color="#81ff23"/><stop offset=".82" stop-color="#62ff44"/><stop offset=".938" stop-color="#39ff49"/><stop offset=".961" stop-color="#29ff4b"/><stop offset="1" stop-color="#03ff50"/></linearGradient>
<linearGradient id="g262"><stop offset="0" stop-color="#3eff49"/><stop offset=".141" stop-color="#63ff44"/><stop offset=".25" stop-color="#7aff2b"/><stop offset=".367" stop-color="#98ff09"/><stop offset=".43" stop-color="#9fff01"/><stop offset=".516" stop-color="#9eff02"/><stop offset=".578" stop-color="#97ff0b"/><stop offset=".688" stop-color="#81ff23"/><stop offset=".82" stop-color="#62ff44"/><stop offset=".938" stop-color="#39ff49"/><stop offset=".961" stop-color="#29ff4b"/><stop offset="1" stop-color="#03ff50"/></linearGradient>
<linearGradient id="g263"><stop offset="0" stop-color="#65ff43"/><stop offset=".102" stop-color="#88ff1c"/><stop offset=".164" stop-color="#a1ff00"/><stop offset=".227" stop-color="#baff00"/><stop offset=".289" stop-color="#daff00"/><stop offset=".383" stop-color="#feff00"/><stop offset=".43" stop-color="#fff600"/><stop offset=".492" stop-color="#fff200"/><stop offset=".523" stop-color="#fff500"/><stop offset=".562" stop-color="#ffff00"/><stop offset=".648" stop-color="#e2ff00"/><stop offset=".742" stop-color="#b4ff00"/><stop offset=".797" stop-color="#9fff01"/><stop offset=".922" stop-color="#64ff44"/><stop offset=".953" stop-color="#44ff48"/><stop offset="1" stop-color="#04ff50"/></linearGradient>
<linearGradient id="g264"><stop offset="0" stop-color="#80ff25"/><stop offset=".07" stop-color="#a2ff00"/><stop offset=".242" stop-color="#fdff00"/><stop offset=".266" stop-color="#fff200"/><stop offset=".289" stop-color="#ffd900"/><stop offset=".297" stop-color="#ffd400"/><stop offset=".422" stop-color="#ffa600"/><stop offset=".492" stop-color="#ff9b00"/><stop offset=".523" stop-color="#ffa000"/><stop offset=".648" stop-color="#ffd300"/><stop offset=".656" stop-color="#ffd700"/><stop offset=".68" stop-color="#fff200"/><stop offset=".695" stop-color="#fffd00"/><stop offset=".859" stop-color="#a2ff00"/><stop offset=".906" stop-color="#83ff21"/><stop offset=".938" stop-color="#6cff3b"/><stop offset=".945" stop-color="#65ff43"/><stop offset=".953" stop-color="#59ff45"/><stop offset=".992" stop-color="#11ff4e"/><stop offset="1" stop-color="#05ff4f"/></linearGradient>
<linearGradient id="g265"><stop offset="0" stop-color="#8aff19"/><stop offset=".031" stop-color="#a0ff00"/><stop offset=".117" stop-color="#cfff00"/><stop offset=".188" stop-color="#fffe00"/><stop offset=".211" stop-color="#ffef00"/><stop offset=".242" stop-color="#ffd500"/><stop offset=".312" stop-color="#ffb100"/><stop offset=".359" stop-color="#ff9100"/><stop offset=".383" stop-color="#ff8400"/><stop offset=".438" stop-color="#ff6f00"/><stop offset=".477" stop-color="#ff6600"/><stop offset=".5" stop-color="#ff6400"/><stop offset=".523" stop-color="#ff6900"/><stop offset=".578" stop-color="#ff8700"/><stop offset=".703" stop-color="#ffd300"/><stop offset=".711" stop-color="#ffda00"/><stop offset=".727" stop-color="#fff100"/><stop offset=".742" stop-color="#ffff00"/><stop offset=".773" stop-color="#ebff00"/><stop offset=".812" stop-color="#d8ff00"/><stop offset=".898" stop-color="#a1ff00"/><stop offset=".922" stop-color="#8dff16"/><stop offset=".945" stop-color="#75ff31"/><stop offset=".961" stop-color="#61ff44"/><stop offset=".992" stop-color="#19ff4d"/><stop offset="1" stop-color="#0bff4f"/></linearGradient>
<linearGradient id="g266"><stop offset="0" stop-color="#8aff18"/><stop offset=".023" stop-color="#9dff03"/><stop offset=".031" stop-color="#a3ff00"/><stop offset=".133" stop-color="#dcff00"/><stop offset=".18" stop-color="#fffe00"/><stop offset=".234" stop-color="#ffd500"/><stop offset=".266" stop-color="#ffc800"/><stop offset=".305" stop-color="#ffb100"/><stop offset=".352" stop-color="#ff8f00"/><stop offset=".375" stop-color="#ff8100"/><stop offset=".43" stop-color="#ff6b00"/><stop offset=".477" stop-color="#ff5f00"/><stop offset=".5" stop-color="#ff5d00"/><stop offset=".531" stop-color="#ff6600"/><stop offset=".625" stop-color="#ff9900"/><stop offset=".656" stop-color="#ffb100"/><stop offset=".711" stop-color="#ffd300"/><stop offset=".719" stop-color="#ffdb00"/><stop offset=".734" stop-color="#fff200"/><stop offset=".75" stop-color="#ffff00"/><stop offset=".828" stop-color="#d5ff00"/><stop offset=".906" stop-color="#a1ff00"/><stop offset=".922" stop-color="#93ff0f"/><stop offset=".961" stop-color="#66ff41"/><stop offset=".969" stop-color="#56ff46"/><stop offset=".992" stop-color="#1dff4d"/><stop offset="1" stop-color="#0eff4e"/></linearGradient>
<linearGradient id="g267"><stop offset="0" stop-color="#8eff14"/><stop offset=".023" stop-color="#a1ff00"/><stop offset=".078" stop-color="#c5ff00"/><stop offset=".141" stop-color="#e8ff00"/><stop offset=".172" stop-color="#feff00"/><stop offset=".195" stop-color="#fff100"/><stop offset=".227" stop-color="#ffd900"/><stop offset=".266" stop-color="#ffc800"/><stop offset=".305" stop-color="#ffb200"/><stop offset=".352" stop-color="#ff9200"/><stop offset=".375" stop-color="#ff8500"/><stop offset=".43" stop-color="#ff7100"/><stop offset=".477" stop-color="#ff6700"/><stop offset=".5" stop-color="#ff6500"/><stop offset=".531" stop-color="#ff6d00"/><stop offset=".625" stop-color="#ff9d00"/><stop offset=".656" stop-color="#ffb300"/><stop offset=".711" stop-color="#ffd400"/><stop offset=".734" stop-color="#fff200"/><stop offset=".75" stop-color="#ffff00"/><stop offset=".828" stop-color="#d5ff00"/><stop offset=".906" stop-color="#a0ff00"/><stop offset=".922" stop-color="#92ff10"/><stop offset=".938" stop-color="#82ff22"/><stop offset=".961" stop-color="#66ff42"/><stop offset=".992" stop-color="#1cff4d"/><stop offset="1" stop-color="#0dff4e"/></linearGradient>
<linearGradient id="g268"><stop offset="0" stop-color="#97ff0a"/><stop offset=".016" stop-color="#a3ff00"/><stop offset=".086" stop-color="#d8ff00"/><stop offset=".156" stop-color="#feff00"/><stop offset=".188" stop-color="#fff100"/><stop offset=".227" stop-color="#ffd600"/><stop offset=".266" stop-color="#ffc800"/><stop offset=".367" stop-color="#ff9200"/><stop offset=".422" stop-color="#ff8300"/><stop offset=".5" stop-color="#ff7800"/><stop offset=".531" stop-color="#ff7f00"/><stop offset=".625" stop-color="#ffa700"/><stop offset=".711" stop-color="#ffd600"/><stop offset=".734" stop-color="#fff300"/><stop offset=".75" stop-color="#ffff00"/><stop offset=".828" stop-color="#d5ff00"/><stop offset=".898" stop-color="#a3ff00"/><stop offset=".906" stop-color="#9eff03"/><stop offset=".93" stop-color="#88ff1b"/><stop offset=".961" stop-color="#64ff44"/><stop offset=".992" stop-color="#19ff4d"/><stop offset="1" stop-color="#0aff4f"/></linearGradient>
<linearGradient id="g269"><stop offset="0" stop-color="#a2ff00"/><stop offset=".07" stop-color="#d8ff00"/><stop offset=".109" stop-color="#f3ff00"/><stop offset=".133" stop-color="#feff00"/><stop offset=".172" stop-color="#fff200"/><stop offset=".227" stop-color="#ffd500"/><stop offset=".266" stop-color="#ffc900"/><stop offset=".367" stop-color="#ff9e00"/><stop offset=".422" stop-color="#ff9400"/><stop offset=".5" stop-color="#ff8e00"/><stop offset=".531" stop-color="#ff9400"/><stop offset=".641" stop-color="#ffb900"/><stop offset=".703" stop-color="#ffd700"/><stop offset=".727" stop-color="#ffef00"/><stop offset=".75" stop-color="#ffff00"/><stop offset=".82" stop-color="#d9ff00"/><stop offset=".898" stop-color="#a1ff00"/><stop offset=".93" stop-color="#85ff1e"/><stop offset=".953" stop-color="#6bff3c"/><stop offset=".961" stop-color="#60ff45"/><stop offset=".992" stop-color="#16ff4d"/><stop offset="1" stop-color="#07ff4f"/></linearGradient>
<linearGradient id="g270"><stop offset="0" stop-color="#a9ff00"/><stop offset=".062" stop-color="#daff00"/><stop offset=".125" stop-color="#ffff00"/><stop offset=".172" stop-color="#fff000"/><stop offset=".227" stop-color="#ffd500"/><stop offset=".359" stop-color="#ffab00"/><stop offset=".406" stop-color="#ffa400"/><stop offset=".477" stop-color="#ffa100"/><stop offset=".516" stop-color="#ffa300"/><stop offset=".633" stop-color="#ffbe00"/><stop offset=".688" stop-color="#ffd500"/><stop offset=".719" stop-color="#ffef00"/><stop offset=".742" stop-color="#fffc00"/><stop offset=".75" stop-color="#fdff00"/><stop offset=".82" stop-color="#d8ff00"/><stop offset=".891" stop-color="#a3ff00"/><stop offset=".898" stop-color="#9dff04"/><stop offset=".93" stop-color="#82ff22"/><stop offset=".953" stop-color="#69ff3f"/><stop offset=".961" stop-color="#5cff45"/><stop offset=".992" stop-color="#14ff4e"/><stop offset="1" stop-color="#06ff4f"/></linearGradient>
<linearGradient id="g271"><stop offset="0" stop-color="#b2ff00"/><stop offset=".055" stop-color="#dbff00"/><stop offset=".125" stop-color="#ffff00"/><stop offset=".172" stop-color="#fff000"/><stop offset=".227" stop-color="#ffd500"/><stop offset=".336" stop-color="#ffb900"/><stop offset=".375" stop-color="#ffb100"/><stop offset=".445" stop-color="#ffaf00"/><stop offset=".516" stop-color="#ffb400"/><stop offset=".633" stop-color="#ffc900"/><stop offset=".672" stop-color="#ffd600"/><stop offset=".703" stop-color="#ffef00"/><stop offset=".734" stop-color="#ffff00"/><stop offset=".812" stop-color="#d9ff00"/><stop offset=".891" stop-color="#9fff01"/><stop offset=".93" stop-color="#7eff26"/><stop offset=".953" stop-color="#66ff42"/><stop offset=".969" stop-color="#47ff47"/><stop offset=".992" stop-color="#13ff4e"/><stop offset="1" stop-color="#06ff4f"/></linearGradient>
<linearGradient id="g272"><stop offset="0" stop-color="#baff00"/><stop offset=".039" stop-color="#d7ff00"/><stop offset=".086" stop-color="#efff00"/><stop offset=".125" stop-color="#ffff00"/><stop offset=".172" stop-color="#fff100"/><stop offset=".227" stop-color="#ffd600"/><stop offset=".359" stop-color="#ffbb00"/><stop offset=".438" stop-color="#ffb800"/><stop offset=".516" stop-color="#ffc000"/><stop offset=".641" stop-color="#ffd600"/><stop offset=".688" stop-color="#fff300"/><stop offset=".711" stop-color="#fffe00"/><stop offset=".805" stop-color="#d5ff00"/><stop offset=".883" stop-color="#9fff01"/><stop offset=".922" stop-color="#81ff24"/><stop offset=".953" stop-color="#61ff44"/><stop offset=".992" stop-color="#12ff4e"/><stop offset="1" stop-color="#05ff4f"/></linearGradient>
<linearGradient id="g273"><stop offset="0" stop-color="#c3ff00"/><stop offset=".031" stop-color="#d9ff00"/><stop offset=".047" stop-color="#e1ff00"/><stop offset=".125" stop-color="#ffff00"/><stop offset=".172" stop-color="#fff200"/><stop offset=".234" stop-color="#ffd500"/><stop offset=".359" stop-color="#ffc200"/><stop offset=".43" stop-color="#ffc100"/><stop offset=".461" stop-color="#ffc300"/><stop offset=".578" stop-color="#ffd600"/><stop offset=".641" stop-color="#fff100"/><stop offset=".688" stop-color="#feff00"/><stop offset=".781" stop-color="#d7ff00"/><stop offset=".875" stop-color="#9fff01"/><stop offset=".922" stop-color="#7bff2a"/><stop offset=".945" stop-color="#66ff41"/><stop offset=".953" stop-color="#5bff45"/><stop offset=".992" stop-color="#11ff4e"/><stop offset="1" stop-color="#05ff4f"/></linearGradient>
<linearGradient id="g274"><stop offset="0" stop-color="#cbff00"/><stop offset=".023" stop-color="#dbff00"/><stop offset=".055" stop-color="#ebff00"/><stop offset=".125" stop-color="#ffff00"/><stop offset=".18" stop-color="#fff100"/><stop offset=".234" stop-color="#ffd600"/><stop offset=".383" stop-color="#ffc800"/><stop offset=".453" stop-color="#ffca00"/><stop offset=".523" stop-color="#ffd500"/><stop offset=".594" stop-color="#fff300"/><stop offset=".633" stop-color="#ffff00"/><stop offset=".688" stop-color="#f1ff00"/><stop offset=".75" stop-color="#d9ff00"/><stop offset=".812" stop-color="#bbff00"/><stop offset=".859" stop-color="#a2ff00"/><stop offset=".867" stop-color="#9dff04"/><stop offset=".922" stop-color="#75ff31"/><stop offset=".945" stop-color="#5fff45"/><stop offset=".992" stop-color="#0fff4e"/><stop offset="1" stop-color="#04ff4f"/></linearGradient>
<linearGradient id="g275"><stop offset="0" stop-color="#d3ff00"/><stop offset=".031" stop-color="#e6ff00"/><stop offset=".055" stop-color="#f1ff00"/><stop offset=".117" stop-color="#feff00"/><stop offset=".18" stop-color="#fff300"/><stop offset=".234" stop-color="#ffda00"/><stop offset=".25" stop-color="#ffd600"/><stop offset=".375" stop-color="#ffd000"/><stop offset=".445" stop-color="#ffd100"/><stop offset=".484" stop-color="#ffd600"/><stop offset=".555" stop-color="#fff300"/><stop offset=".594" stop-color="#feff00"/><stop offset=".719" stop-color="#d9ff00"/><stop offset=".844" stop-color="#a1ff00"/><stop offset=".852" stop-color="#9dff03"/><stop offset=".914" stop-color="#73ff33"/><stop offset=".938" stop-color="#5fff45"/><stop offset=".961" stop-color="#3eff49"/><stop offset=".992" stop-color="#0cff4f"/><stop offset="1" stop-color="#02ff50"/></linearGradient>
<linearGradient id="g276"><stop offset="0" stop-color="#daff00"/><stop offset=".031" stop-color="#ecff00"/><stop offset=".055" stop-color="#f7ff00"/><stop offset=".109" stop-color="#feff00"/><stop offset=".188" stop-color="#fff300"/><stop offset=".234" stop-color="#ffe000"/><stop offset=".25" stop-color="#ffdd00"/><stop offset=".367" stop-color="#ffd800"/><stop offset=".453" stop-color="#ffdd00"/><stop offset=".562" stop-color="#feff00"/><stop offset=".68" stop-color="#d7ff00"/><stop offset=".812" stop-color="#a2ff00"/><stop offset=".836" stop-color="#97ff0a"/><stop offset=".875" stop-color="#83ff21"/><stop offset=".922" stop-color="#65ff43"/><stop offset=".953" stop-color="#3eff49"/><stop offset=".992" stop-color="#08ff4f"/><stop offset="1" stop-color="#00ff50"/></linearGradient>
<linearGradient id="g277"><stop offset="0" stop-color="#dfff00"/><stop offset=".039" stop-color="#f6ff00"/><stop offset=".062" stop-color="#fdff00"/><stop offset=".117" stop-color="#fffd00"/><stop offset=".164" stop-color="#fff800"/><stop offset=".195" stop-color="#fff300"/><stop offset=".234" stop-color="#ffe500"/><stop offset=".258" stop-color="#ffe300"/><stop offset=".43" stop-color="#ffea00"/><stop offset=".531" stop-color="#feff00"/><stop offset=".641" stop-color="#d9ff00"/><stop offset=".695" stop-color="#c0ff00"/><stop offset=".773" stop-color="#a2ff00"/><stop offset=".781" stop-color="#9fff02"/><stop offset=".883" stop-color="#72ff34"/><stop offset=".906" stop-color="#65ff43"/><stop offset=".945" stop-color="#3bff49"/><stop offset=".992" stop-color="#03ff50"/><stop offset="1" stop-color="#00ff51"/></linearGradient>
<linearGradient id="g278"><stop offset="0" stop-color="#e5ff00"/><stop offset=".031" stop-color="#f7ff00"/><stop offset=".055" stop-color="#ffff00"/><stop offset=".156" stop-color="#fff900"/><stop offset=".25" stop-color="#ffe700"/><stop offset=".43" stop-color="#fff500"/><stop offset=".5" stop-color="#fdff00"/><stop offset=".617" stop-color="#d8ff00"/><stop offset=".688" stop-color="#b6ff00"/><stop offset=".742" stop-color="#a1ff00"/><stop offset=".883" stop-color="#63ff44"/><stop offset=".914" stop-color="#49ff47"/><stop offset=".984" stop-color="#07ff4f"/><stop offset=".992" stop-color="#00ff50"/><stop offset="1" stop-color="#00ff52"/></linearGradient>
<linearGradient id="g279"><stop offset="0" stop-color="#ecff00"/><stop offset=".031" stop-color="#fbff00"/><stop offset=".047" stop-color="#fffe00"/><stop offset=".148" stop-color="#fff900"/><stop offset=".25" stop-color="#ffe900"/><stop offset=".453" stop-color="#fffe00"/><stop offset=".492" stop-color="#f8ff00"/><stop offset=".594" stop-color="#d8ff00"/><stop offset=".719" stop-color="#a0ff00"/><stop offset=".836" stop-color="#64ff44"/><stop offset=".867" stop-color="#4aff47"/><stop offset=".906" stop-color="#34ff4a"/><stop offset=".984" stop-color="#00ff50"/><stop offset="1" stop-color="#00ff53"/></linearGradient>
<linearGradient id="g280"><stop offset="0" stop-color="#f2ff00"/><stop offset=".031" stop-color="#ffff00"/><stop offset=".039" stop-color="#fffd00"/><stop offset=".062" stop-color="#fffa00"/><stop offset=".156" stop-color="#fff800"/><stop offset=".25" stop-color="#ffeb00"/><stop offset=".422" stop-color="#ffff00"/><stop offset=".477" stop-color="#f5ff00"/><stop offset=".57" stop-color="#d9ff00"/><stop offset=".633" stop-color="#bbff00"/><stop offset=".695" stop-color="#a1ff00"/><stop offset=".812" stop-color="#61ff44"/><stop offset=".852" stop-color="#31ff4a"/><stop offset=".867" stop-color="#22ff4c"/><stop offset=".961" stop-color="#02ff50"/><stop offset="1" stop-color="#00ff54"/></linearGradient>
<linearGradient id="g281"><stop offset="0" stop-color="#f7ff00"/><stop offset=".031" stop-color="#fffd00"/><stop offset=".062" stop-color="#fff900"/><stop offset=".156" stop-color="#fff700"/><stop offset=".25" stop-color="#ffed00"/><stop offset=".391" stop-color="#ffff00"/><stop offset=".469" stop-color="#f0ff00"/><stop offset=".555" stop-color="#d7ff00"/><stop offset=".625" stop-color="#b4ff00"/><stop offset=".672" stop-color="#a2ff00"/><stop offset=".688" stop-color="#9aff06"/><stop offset=".781" stop-color="#66ff42"/><stop offset=".812" stop-color="#48ff47"/><stop offset=".852" stop-color="#0fff4e"/><stop offset=".859" stop-color="#05ff4f"/><stop offset=".867" stop-color="#00ff50"/><stop offset="1" stop-color="#00ff55"/></linearGradient>
<linearGradient id="g282"><stop offset="0" stop-color="#faff00"/><stop offset=".023" stop-color="#fffe00"/><stop offset=".055" stop-color="#fff900"/><stop offset=".141" stop-color="#fff800"/><stop offset=".25" stop-color="#fff000"/><stop offset=".359" stop-color="#ffff00"/><stop offset=".461" stop-color="#ebff00"/><stop offset=".531" stop-color="#d6ff00"/><stop offset=".648" stop-color="#a0ff00"/><stop offset=".695" stop-color="#88ff1b"/><stop offset=".75" stop-color="#68ff40"/><stop offset=".758" stop-color="#62ff44"/><stop offset=".812" stop-color="#2eff4b"/><stop offset=".844" stop-color="#00ff50"/><stop offset=".875" stop-color="#00ff59"/><stop offset="1" stop-color="#00ff57"/></linearGradient>
<linearGradient id="g283"><stop offset="0" stop-color="#fcff00"/><stop offset=".055" stop-color="#fff900"/><stop offset=".242" stop-color="#fff400"/><stop offset=".273" stop-color="#fff500"/><stop offset=".328" stop-color="#fffe00"/><stop offset=".453" stop-color="#e5ff00"/><stop offset=".508" stop-color="#d5ff00"/><stop offset=".617" stop-color="#a2ff00"/><stop offset=".625" stop-color="#9eff02"/><stop offset=".695" stop-color="#77ff2e"/><stop offset=".727" stop-color="#63ff44"/><stop offset=".758" stop-color="#44ff48"/><stop offset=".805" stop-color="#1aff4d"/><stop offset=".828" stop-color="#00ff50"/><stop offset=".852" stop-color="#00ff5a"/><stop offset=".875" stop-color="#00ff5e"/><stop offset=".945" stop-color="#00ff5e"/><stop offset="1" stop-color="#00ff59"/></linearGradient>
<linearGradient id="g284"><stop offset="0" stop-color="#fdff00"/><stop offset=".055" stop-color="#fffa00"/><stop offset=".242" stop-color="#fff700"/><stop offset=".305" stop-color="#ffff00"/><stop offset=".469" stop-color="#d8ff00"/><stop offset=".508" stop-color="#c9ff00"/><stop offset=".594" stop-color="#a1ff00"/><stop offset=".633" stop-color="#8cff17"/><stop offset=".688" stop-color="#6aff3d"/><stop offset=".695" stop-color="#65ff43"/><stop offset=".703" stop-color="#5cff45"/><stop offset=".75" stop-color="#29ff4b"/><stop offset=".797" stop-color="#02ff50"/><stop offset=".852" stop-color="#00ff5f"/><stop offset=".875" stop-color="#00ff63"/><stop offset=".945" stop-color="#00ff63"/><stop offset="1" stop-color="#00ff5c"/></linearGradient>
<linearGradient id="g285"><stop offset="0" stop-color="#feff00"/><stop offset=".062" stop-color="#fffb00"/><stop offset=".227" stop-color="#fffa00"/><stop offset=".281" stop-color="#ffff00"/><stop offset=".344" stop-color="#f1ff00"/><stop offset=".438" stop-color="#d6ff00"/><stop offset=".484" stop-color="#c6ff00"/><stop offset=".562" stop-color="#a0ff00"/><stop offset=".625" stop-color="#82ff22"/><stop offset=".672" stop-color="#61ff44"/><stop offset=".734" stop-color="#17ff4d"/><stop offset=".758" stop-color="#00ff50"/><stop offset=".867" stop-color="#00ff66"/><stop offset=".945" stop-color="#00ff67"/><stop offset="1" stop-color="#00ff5f"/></linearGradient>
<linearGradient id="g286"><stop offset="0" stop-color="#ffff00"/><stop offset=".117" stop-color="#fffc00"/><stop offset=".258" stop-color="#feff00"/><stop offset=".328" stop-color="#eeff00"/><stop offset=".406" stop-color="#d7ff00"/><stop offset=".5" stop-color="#b4ff00"/><stop offset=".539" stop-color="#a0ff00"/><stop offset=".562" stop-color="#90ff12"/><stop offset=".633" stop-color="#6eff39"/><stop offset=".648" stop-color="#62ff44"/><stop offset=".727" stop-color="#00ff50"/><stop offset=".789" stop-color="#00ff60"/><stop offset=".867" stop-color="#00ff6b"/><stop offset=".945" stop-color="#00ff6c"/><stop offset="1" stop-color="#00ff62"/></linearGradient>
<linearGradient id="g287"><stop offset="0" stop-color="#ffff00"/><stop offset=".07" stop-color="#fffd00"/><stop offset=".164" stop-color="#ffff00"/><stop offset=".25" stop-color="#f9ff00"/><stop offset=".281" stop-color="#f3ff00"/><stop offset=".383" stop-color="#d8ff00"/><stop offset=".516" stop-color="#a1ff00"/><stop offset=".562" stop-color="#81ff23"/><stop offset=".617" stop-color="#67ff41"/><stop offset=".633" stop-color="#59ff45"/><stop offset=".688" stop-color="#10ff4e"/><stop offset=".703" stop-color="#00ff51"/><stop offset=".773" stop-color="#00ff65"/><stop offset=".859" stop-color="#00ff70"/><stop offset=".945" stop-color="#00ff6f"/><stop offset="1" stop-color="#00ff63"/></linearGradient>
<linearGradient id="g288"><stop offset="0" stop-color="#feff00"/><stop offset=".156" stop-color="#fdff00"/><stop offset=".266" stop-color="#efff00"/><stop offset=".367" stop-color="#d5ff00"/><stop offset=".438" stop-color="#b5ff00"/><stop offset=".492" stop-color="#a1ff00"/><stop offset=".508" stop-color="#99ff08"/><stop offset=".555" stop-color="#78ff2d"/><stop offset=".586" stop-color="#66ff41"/><stop offset=".625" stop-color="#43ff48"/><stop offset=".672" stop-color="#04ff50"/><stop offset=".68" stop-color="#00ff52"/><stop offset=".766" stop-color="#00ff6b"/><stop offset=".844" stop-color="#00ff76"/><stop offset=".938" stop-color="#00ff73"/><stop offset="1" stop-color="#00ff65"/></linearGradient>
<linearGradient id="g289"><stop offset="0" stop-color="#fdff00"/><stop offset=".086" stop-color="#feff00"/><stop offset=".148" stop-color="#faff00"/><stop offset=".273" stop-color="#e3ff00"/><stop offset=".328" stop-color="#d7ff00"/><stop offset=".375" stop-color="#c8ff00"/><stop offset=".469" stop-color="#a0ff01"/><stop offset=".508" stop-color="#8bff18"/><stop offset=".562" stop-color="#67ff41"/><stop offset=".609" stop-color="#35ff4a"/><stop offset=".648" stop-color="#03ff50"/><stop offset=".656" stop-color="#00ff53"/><stop offset=".688" stop-color="#00ff5f"/><stop offset=".734" stop-color="#00ff6b"/><stop offset=".797" stop-color="#00ff78"/><stop offset=".836" stop-color="#00ff7c"/><stop offset=".883" stop-color="#00ff7d"/><stop offset=".914" stop-color="#00ff7a"/><stop offset=".953" stop-color="#00ff74"/><stop offset="1" stop-color="#00ff66"/></linearGradient>
<linearGradient id="g290"><stop offset="0" stop-color="#fbff00"/><stop offset=".086" stop-color="#fcff00"/><stop offset=".148" stop-color="#f7ff00"/><stop offset=".281" stop-color="#d7ff00"/><stop offset=".383" stop-color="#bbff00"/><stop offset=".438" stop-color="#a2ff00"/><stop offset=".445" stop-color="#9eff02"/><stop offset=".5" stop-color="#81ff23"/><stop offset=".547" stop-color="#64ff44"/><stop offset=".578" stop-color="#40ff48"/><stop offset=".625" stop-color="#02ff50"/><stop offset=".633" stop-color="#00ff52"/><stop offset=".672" stop-color="#00ff63"/><stop offset=".703" stop-color="#00ff6c"/><stop offset=".789" stop-color="#00ff7e"/><stop offset=".836" stop-color="#00ff83"/><stop offset=".875" stop-color="#00ff84"/><stop offset=".906" stop-color="#00ff81"/><stop offset=".953" stop-color="#00ff76"/><stop offset="1" stop-color="#00ff67"/></linearGradient>
<linearGradient id="g291"><stop offset="0" stop-color="#f9ff00"/><stop offset=".078" stop-color="#f9ff00"/><stop offset=".141" stop-color="#f4ff00"/><stop offset=".289" stop-color="#c8ff00"/><stop offset=".367" stop-color="#b6ff00"/><stop offset=".391" stop-color="#aeff00"/><stop offset=".422" stop-color="#9eff02"/><stop offset=".523" stop-color="#65ff43"/><stop offset=".562" stop-color="#3cff49"/><stop offset=".602" stop-color="#07ff4f"/><stop offset=".609" stop-color="#00ff51"/><stop offset=".688" stop-color="#00ff70"/><stop offset=".789" stop-color="#00ff85"/><stop offset=".828" stop-color="#00ff89"/><stop offset=".875" stop-color="#00ff8b"/><stop offset=".898" stop-color="#00ff88"/><stop offset=".953" stop-color="#00ff79"/><stop offset="1" stop-color="#00ff68"/></linearGradient>
<linearGradient id="g292"><stop offset="0" stop-color="#f6ff00"/><stop offset=".086" stop-color="#f5ff00"/><stop offset=".141" stop-color="#efff00"/><stop offset=".211" stop-color="#d9ff00"/><stop offset=".281" stop-color="#beff00"/><stop offset=".383" stop-color="#a6ff00"/><stop offset=".398" stop-color="#9fff01"/><stop offset=".438" stop-color="#85ff1f"/><stop offset=".5" stop-color="#62ff44"/><stop offset=".555" stop-color="#2bff4b"/><stop offset=".586" stop-color="#04ff50"/><stop offset=".594" stop-color="#00ff52"/><stop offset=".688" stop-color="#00ff77"/><stop offset=".797" stop-color="#00ff8d"/><stop offset=".828" stop-color="#00ff91"/><stop offset=".875" stop-color="#00ff92"/><stop offset=".898" stop-color="#00ff8f"/><stop offset=".953" stop-color="#00ff7d"/><stop offset="1" stop-color="#00ff6a"/></linearGradient>
<linearGradient id="g293"><stop offset="0" stop-color="#f0ff00"/><stop offset=".078" stop-color="#efff00"/><stop offset=".133" stop-color="#eaff00"/><stop offset=".188" stop-color="#d8ff00"/><stop offset=".281" stop-color="#b3ff00"/><stop offset=".367" stop-color="#a0ff00"/><stop offset=".375" stop-color="#9eff03"/><stop offset=".391" stop-color="#95ff0c"/><stop offset=".438" stop-color="#73ff33"/><stop offset=".461" stop-color="#66ff41"/><stop offset=".5" stop-color="#47ff48"/><stop offset=".57" stop-color="#00ff51"/><stop offset=".688" stop-color="#00ff7c"/><stop offset=".797" stop-color="#00fe94"/><stop offset=".828" stop-color="#00fe98"/><stop offset=".875" stop-color="#00fe99"/><stop offset=".898" stop-color="#00fe96"/><stop offset=".953" stop-color="#00ff82"/><stop offset="1" stop-color="#00ff6c"/></linearGradient>
<linearGradient id="g294"><stop offset="0" stop-color="#e7ff00"/><stop offset=".078" stop-color="#e7ff00"/><stop offset=".133" stop-color="#e1ff00"/><stop offset=".156" stop-color="#daff00"/><stop offset=".227" stop-color="#bcff00"/><stop offset=".305" stop-color="#a1ff00"/><stop offset=".375" stop-color="#8fff13"/><stop offset=".391" stop-color="#86ff1e"/><stop offset=".43" stop-color="#65ff43"/><stop offset=".453" stop-color="#4fff47"/><stop offset=".5" stop-color="#2aff4b"/><stop offset=".539" stop-color="#02ff50"/><stop offset=".688" stop-color="#00ff81"/><stop offset=".797" stop-color="#00fe9b"/><stop offset=".844" stop-color="#00fda0"/><stop offset=".875" stop-color="#00fda1"/><stop offset=".898" stop-color="#00fe9d"/><stop offset=".953" stop-color="#00ff87"/><stop offset="1" stop-color="#00ff6e"/></linearGradient>
<linearGradient id="g295"><stop offset="0" stop-color="#dcff00"/><stop offset=".078" stop-color="#dcff00"/><stop offset=".133" stop-color="#d7ff00"/><stop offset=".188" stop-color="#bdff00"/><stop offset=".273" stop-color="#a1ff00"/><stop offset=".312" stop-color="#90ff12"/><stop offset=".375" stop-color="#80ff25"/><stop offset=".398" stop-color="#6fff38"/><stop offset=".414" stop-color="#5dff45"/><stop offset=".43" stop-color="#45ff48"/><stop offset=".445" stop-color="#35ff4a"/><stop offset=".516" stop-color="#00ff51"/><stop offset=".688" stop-color="#00ff85"/><stop offset=".789" stop-color="#00fda0"/><stop offset=".852" stop-color="#00fda8"/><stop offset=".883" stop-color="#00fda9"/><stop offset=".906" stop-color="#00fda2"/><stop offset=".953" stop-color="#00ff8d"/><stop offset="1" stop-color="#00ff71"/></linearGradient>
<linearGradient id="g296"><stop offset="0" stop-color="#ceff00"/><stop offset=".07" stop-color="#ceff00"/><stop offset=".125" stop-color="#caff00"/><stop offset=".141" stop-color="#c5ff00"/><stop offset=".188" stop-color="#aeff00"/><stop offset=".242" stop-color="#a0ff00"/><stop offset=".258" stop-color="#9bff06"/><stop offset=".312" stop-color="#82ff22"/><stop offset=".375" stop-color="#70ff36"/><stop offset=".391" stop-color="#65ff43"/><stop offset=".422" stop-color="#30ff4a"/><stop offset=".438" stop-color="#1bff4d"/><stop offset=".453" stop-color="#0eff4e"/><stop offset=".477" stop-color="#00ff50"/><stop offset=".562" stop-color="#00ff69"/><stop offset=".633" stop-color="#00ff79"/><stop offset=".797" stop-color="#00fda9"/><stop offset=".852" stop-color="#00fcb0"/><stop offset=".883" stop-color="#00fcb0"/><stop offset=".906" stop-color="#00fdaa"/><stop offset=".953" stop-color="#00fe93"/><stop offset="1" stop-color="#00ff73"/></linearGradient>
<linearGradient id="g297"><stop offset="0" stop-color="#beff00"/><stop offset=".078" stop-color="#beff00"/><stop offset=".125" stop-color="#baff00"/><stop offset=".141" stop-color="#b5ff00"/><stop offset=".18" stop-color="#a1ff00"/><stop offset=".25" stop-color="#8fff13"/><stop offset=".312" stop-color="#73ff33"/><stop offset=".367" stop-color="#63ff44"/><stop offset=".383" stop-color="#55ff46"/><stop offset=".398" stop-color="#3cff49"/><stop offset=".422" stop-color="#11ff4e"/><stop offset=".43" stop-color="#05ff4f"/><stop offset=".438" stop-color="#00ff51"/><stop offset=".5" stop-color="#00ff5e"/><stop offset=".562" stop-color="#00ff72"/><stop offset=".633" stop-color="#00ff7f"/><stop offset=".797" stop-color="#00fcaf"/><stop offset=".859" stop-color="#00fbb8"/><stop offset=".883" stop-color="#00fbb8"/><stop offset=".914" stop-color="#00fcad"/><stop offset=".953" stop-color="#00fe98"/><stop offset="1" stop-color="#00ff75"/></linearGradient>
<linearGradient id="g298"><stop offset="0" stop-color="#aeff00"/><stop offset=".117" stop-color="#aaff00"/><stop offset=".148" stop-color="#a1ff00"/><stop offset=".188" stop-color="#8aff19"/><stop offset=".242" stop-color="#81ff23"/><stop offset=".266" stop-color="#7aff2b"/><stop offset=".312" stop-color="#64ff44"/><stop offset=".367" stop-color="#47ff48"/><stop offset=".383" stop-color="#38ff49"/><stop offset=".391" stop-color="#2cff4b"/><stop offset=".414" stop-color="#01ff50"/><stop offset=".422" stop-color="#00ff54"/><stop offset=".445" stop-color="#00ff5c"/><stop offset=".508" stop-color="#00ff68"/><stop offset=".562" stop-color="#00ff7a"/><stop offset=".641" stop-color="#00ff88"/><stop offset=".797" stop-color="#00fbb6"/><stop offset=".859" stop-color="#00fbbf"/><stop offset=".891" stop-color="#00fbbd"/><stop offset=".914" stop-color="#00fcb3"/><stop offset=".953" stop-color="#00fe9d"/><stop offset="1" stop-color="#00ff77"/></linearGradient>
<linearGradient id="g299"><stop offset="0" stop-color="#9dff03"/><stop offset=".047" stop-color="#95ff0c"/><stop offset=".125" stop-color="#90ff12"/><stop offset=".141" stop-color="#8bff18"/><stop offset=".172" stop-color="#7aff2b"/><stop offset=".188" stop-color="#74ff32"/><stop offset=".25" stop-color="#6cff3a"/><stop offset=".273" stop-color="#65ff43"/><stop offset=".367" stop-color="#28ff4b"/><stop offset=".383" stop-color="#19ff4d"/><stop offset=".398" stop-color="#00ff50"/><stop offset=".422" stop-color="#00ff5c"/><stop offset=".445" stop-color="#00ff64"/><stop offset=".5" stop-color="#00ff6e"/><stop offset=".562" stop-color="#00ff82"/><stop offset=".633" stop-color="#00ff8e"/><stop offset=".797" stop-color="#00fbbd"/><stop offset=".852" stop-color="#00fac4"/><stop offset=".883" stop-color="#00fac4"/><stop offset=".914" stop-color="#00fbb9"/><stop offset=".953" stop-color="#00fda2"/><stop offset="1" stop-color="#00ff79"/></linearGradient>
<linearGradient id="g300"><stop offset="0" stop-color="#86ff1d"/><stop offset=".047" stop-color="#76ff30"/><stop offset=".125" stop-color="#71ff35"/><stop offset=".164" stop-color="#64ff44"/><stop offset=".188" stop-color="#58ff45"/><stop offset=".258" stop-color="#4eff47"/><stop offset=".281" stop-color="#44ff48"/><stop offset=".328" stop-color="#28ff4b"/><stop offset=".375" stop-color="#01ff50"/><stop offset=".438" stop-color="#00ff6b"/><stop offset=".5" stop-color="#00ff76"/><stop offset=".562" stop-color="#00ff8a"/><stop offset=".633" stop-color="#00fe98"/><stop offset=".797" stop-color="#00fac4"/><stop offset=".836" stop-color="#00fac9"/><stop offset=".875" stop-color="#00facb"/><stop offset=".906" stop-color="#00fac3"/><stop offset=".953" stop-color="#00fda7"/><stop offset="1" stop-color="#00ff7a"/></linearGradient>
<linearGradient id="g301"><stop offset="0" stop-color="#6fff37"/><stop offset=".023" stop-color="#61ff44"/><stop offset=".039" stop-color="#53ff46"/><stop offset=".055" stop-color="#4aff47"/><stop offset=".125" stop-color="#45ff48"/><stop offset=".188" stop-color="#33ff4a"/><stop offset=".266" stop-color="#2cff4b"/><stop offset=".312" stop-color="#18ff4d"/><stop offset=".344" stop-color="#00ff50"/><stop offset=".383" stop-color="#00ff5c"/><stop offset=".438" stop-color="#00ff73"/><stop offset=".5" stop-color="#00ff7e"/><stop offset=".695" stop-color="#00fcb4"/><stop offset=".797" stop-color="#00facb"/><stop offset=".844" stop-color="#00fbd0"/><stop offset=".883" stop-color="#00fbd0"/><stop offset=".914" stop-color="#00fac4"/><stop offset=".953" stop-color="#00fcac"/><stop offset="1" stop-color="#00ff7c"/></linearGradient>
<linearGradient id="g302"><stop offset="0" stop-color="#53ff46"/><stop offset=".031" stop-color="#2eff4b"/><stop offset=".047" stop-color="#20ff4c"/><stop offset=".055" stop-color="#1cff4d"/><stop offset=".133" stop-color="#18ff4d"/><stop offset=".188" stop-color="#11ff4e"/><stop offset=".258" stop-color="#10ff4e"/><stop offset=".312" stop-color="#00ff51"/><stop offset=".344" stop-color="#00ff59"/><stop offset=".43" stop-color="#00ff78"/><stop offset=".508" stop-color="#00ff88"/><stop offset=".68" stop-color="#00fbba"/><stop offset=".797" stop-color="#00fbd2"/><stop offset=".844" stop-color="#00fbd6"/><stop offset=".883" stop-color="#00fbd6"/><stop offset=".898" stop-color="#00fbd1"/><stop offset=".922" stop-color="#00fac5"/><stop offset=".953" stop-color="#00fcb0"/><stop offset="1" stop-color="#00ff7d"/></linearGradient>
<linearGradient id="g303"><stop offset="0" stop-color="#33ff4a"/><stop offset=".031" stop-color="#0cff4f"/><stop offset=".047" stop-color="#00ff51"/><stop offset=".258" stop-color="#00ff53"/><stop offset=".312" stop-color="#00ff58"/><stop offset=".43" stop-color="#00ff80"/><stop offset=".508" stop-color="#00ff90"/><stop offset=".68" stop-color="#00fac2"/><stop offset=".797" stop-color="#00fbd8"/><stop offset=".836" stop-color="#00fcdc"/><stop offset=".883" stop-color="#00fcdc"/><stop offset=".914" stop-color="#00fbcf"/><stop offset=".953" stop-color="#00fcb3"/><stop offset="1" stop-color="#00ff7d"/></linearGradient>
<linearGradient id="g304"><stop offset="0" stop-color="#17ff4d"/><stop offset=".023" stop-color="#00ff51"/><stop offset=".062" stop-color="#00ff58"/><stop offset=".25" stop-color="#00ff59"/><stop offset=".305" stop-color="#00ff5f"/><stop offset=".328" stop-color="#00ff65"/><stop offset=".422" stop-color="#00ff86"/><stop offset=".516" stop-color="#00fe9b"/><stop offset=".672" stop-color="#00fac8"/><stop offset=".797" stop-color="#00fcdf"/><stop offset=".836" stop-color="#00fce3"/><stop offset=".883" stop-color="#00fce2"/><stop offset=".906" stop-color="#00fcd9"/><stop offset=".953" stop-color="#00fcb6"/><stop offset="1" stop-color="#00ff7e"/></linearGradient>
<linearGradient id="g305"><stop offset="0" stop-color="#00ff52"/><stop offset=".055" stop-color="#00ff5b"/><stop offset=".242" stop-color="#00ff5e"/><stop offset=".273" stop-color="#00ff61"/><stop offset=".32" stop-color="#00ff6c"/><stop offset=".414" stop-color="#00ff8d"/><stop offset=".672" stop-color="#00fbcf"/><stop offset=".797" stop-color="#00fde7"/><stop offset=".852" stop-color="#00fdeb"/><stop offset=".883" stop-color="#00fdeb"/><stop offset=".898" stop-color="#00fde4"/><stop offset=".914" stop-color="#00fcda"/><stop offset=".953" stop-color="#00fbb8"/><stop offset="1" stop-color="#00ff7e"/></linearGradient>
<linearGradient id="g306"><stop offset="0" stop-color="#00ff59"/><stop offset=".055" stop-color="#00ff5f"/><stop offset=".258" stop-color="#00ff64"/><stop offset=".32" stop-color="#00ff77"/><stop offset=".383" stop-color="#00ff8e"/><stop offset=".57" stop-color="#00fbbe"/><stop offset=".789" stop-color="#00fded"/><stop offset=".859" stop-color="#00fef4"/><stop offset=".875" stop-color="#00fef4"/><stop offset=".891" stop-color="#00fef0"/><stop offset=".914" stop-color="#00fce0"/><stop offset=".953" stop-color="#00fbba"/><stop offset="1" stop-color="#00ff7e"/></linearGradient>
<linearGradient id="g307"><stop offset="0" stop-color="#00ff5f"/><stop offset=".133" stop-color="#00ff61"/><stop offset=".258" stop-color="#00ff68"/><stop offset=".375" stop-color="#00fe94"/><stop offset=".516" stop-color="#00fbb9"/><stop offset=".789" stop-color="#00fef3"/><stop offset=".859" stop-color="#00fffb"/><stop offset=".883" stop-color="#00fef9"/><stop offset=".906" stop-color="#00fdeb"/><stop offset=".953" stop-color="#00fbbc"/><stop offset="1" stop-color="#00ff7e"/></linearGradient>
<linearGradient id="g308"><stop offset="0" stop-color="#00ff62"/><stop offset=".133" stop-color="#00ff62"/><stop offset=".258" stop-color="#00ff69"/><stop offset=".367" stop-color="#00fe95"/><stop offset=".516" stop-color="#00fbbd"/><stop offset=".789" stop-color="#00fef6"/><stop offset=".867" stop-color="#00fffe"/><stop offset=".891" stop-color="#00fef9"/><stop offset=".914" stop-color="#00fde6"/><stop offset=".953" stop-color="#00fbbd"/><stop offset="1" stop-color="#00ff7e"/></linearGradient>
<linearGradient id="g309"><stop offset="0" stop-color="#00ff62"/><stop offset=".133" stop-color="#00ff62"/><stop offset=".258" stop-color="#00ff69"/><stop offset=".367" stop-color="#00fe95"/><stop offset=".516" stop-color="#00fbbe"/><stop offset=".789" stop-color="#00fef7"/><stop offset=".867" stop-color="#00ffff"/><stop offset=".891" stop-color="#00fffa"/><stop offset=".914" stop-color="#00fde6"/><stop offset=".953" stop-color="#00fbbd"/><stop offset="1" stop-color="#00ff7e"/></linearGradient>
<linearGradient id="g310"><stop offset="0" stop-color="#00ff62"/><stop offset=".133" stop-color="#00ff62"/><stop offset=".258" stop-color="#00ff69"/><stop offset=".367" stop-color="#00fe95"/><stop offset=".516" stop-color="#00fbbe"/><stop offset=".789" stop-color="#00fef7"/><stop offset=".867" stop-color="#00ffff"/><stop offset=".891" stop-color="#00fffa"/><stop offset=".914" stop-color="#00fde6"/><stop offset=".953" stop-color="#00fbbd"/><stop offset="1" stop-color="#00ff7e"/></linearGradient>
<linearGradient id="g311"><stop offset="0" stop-color="#00ff62"/><stop offset=".133" stop-color="#00ff62"/><stop offset=".258" stop-color="#00ff69"/><stop offset=".367" stop-color="#00fe95"/><stop offset=".516" stop-color="#00fbbe"/><stop offset=".789" stop-color="#00fef7"/><stop offset=".867" stop-color="#00ffff"/><stop offset=".891" stop-color="#00fffa"/><stop offset=".914" stop-color="#00fde6"/><stop offset=".953" stop-color="#00fbbd"/><stop offset="1" stop-color="#00ff7e"/></linearGradient>
<linearGradient id="cb" x1="0" y1="0" x2="0" y2="1"><stop offset="0.0000" stop-color="#800000"/><stop offset="0.0500" stop-color="#be0000"/><stop offset="0.1050" stop-color="#ff0000"/><stop offset="0.1400" stop-color="#ff0a00"/><stop offset="0.2000" stop-color="#ff5000"/><stop offset="0.3000" stop-color="#ffb000"/><stop offset="0.3550" stop-color="#ffd600"/><stop offset="0.3700" stop-color="#fff200"/><stop offset="0.3800" stop-color="#ffff00"/><stop offset="0.4100" stop-color="#d7ff00"/><stop offset="0.4400" stop-color="#a4ff00"/><stop offset="0.4680" stop-color="#74ff3c"/><stop offset="0.4840" stop-color="#50ff50"/><stop offset="0.4950" stop-color="#00ff52"/><stop offset="0.5400" stop-color="#00ff8c"/><stop offset="0.5900" stop-color="#00fac8"/><stop offset="0.6360" stop-color="#00ffff"/><stop offset="0.7000" stop-color="#00c8ff"/><stop offset="0.8000" stop-color="#0060ff"/><stop offset="0.8750" stop-color="#0000ff"/><stop offset="1.0000" stop-color="#000080"/></linearGradient>
<linearGradient id="cbe" x1="0" y1="0" x2="1" y2="0"><stop offset="0" stop-color="#000" stop-opacity=".45"/><stop offset=".05" stop-color="#000" stop-opacity="0"/><stop offset=".95" stop-color="#000" stop-opacity="0"/><stop offset="1" stop-color="#000" stop-opacity=".5"/></linearGradient>
</defs>
<g clip-path="url(#c0)"><g filter="url(#vb)"><rect x="158.3" y="50.5" width="815.9" height="14.2" fill="url(#g0)"/><rect x="158.3" y="64.1" width="815.9" height="14.2" fill="url(#g1)"/><rect x="158.3" y="77.7" width="815.9" height="14.2" fill="url(#g2)"/><rect x="158.3" y="91.3" width="815.9" height="14.2" fill="url(#g3)"/><rect x="158.3" y="104.9" width="815.9" height="14.2" fill="url(#g4)"/><rect x="158.3" y="118.5" width="815.9" height="14.2" fill="url(#g5)"/><rect x="158.3" y="132.1" width="815.9" height="14.2" fill="url(#g6)"/><rect x="158.3" y="145.7" width="815.9" height="14.2" fill="url(#g7)"/><rect x="158.3" y="159.3" width="815.9" height="14.2" fill="url(#g8)"/><rect x="158.3" y="172.9" width="815.9" height="14.2" fill="url(#g9)"/><rect x="158.3" y="186.5" width="815.9" height="14.2" fill="url(#g10)"/><rect x="158.3" y="200.1" width="815.9" height="14.2" fill="url(#g11)"/><rect x="158.3" y="213.7" width="815.9" height="14.2" fill="url(#g12)"/><rect x="158.3" y="227.3" width="815.9" height="14.2" fill="url(#g13)"/><rect x="158.3" y="240.8" width="815.9" height="14.2" fill="url(#g14)"/><rect x="158.3" y="254.4" width="815.9" height="14.2" fill="url(#g15)"/><rect x="158.3" y="268" width="815.9" height="14.2" fill="url(#g16)"/><rect x="158.3" y="281.6" width="815.9" height="14.2" fill="url(#g17)"/><rect x="158.3" y="295.2" width="815.9" height="14.2" fill="url(#g18)"/><rect x="158.3" y="308.8" width="815.9" height="14.2" fill="url(#g19)"/><rect x="158.3" y="322.4" width="815.9" height="14.2" fill="url(#g20)"/><rect x="158.3" y="336" width="815.9" height="14.2" fill="url(#g21)"/><rect x="158.3" y="349.6" width="815.9" height="14.2" fill="url(#g22)"/><rect x="158.3" y="363.2" width="815.9" height="14.2" fill="url(#g23)"/><rect x="158.3" y="376.8" width="815.9" height="14.2" fill="url(#g24)"/><rect x="158.3" y="390.4" width="815.9" height="14.2" fill="url(#g25)"/><rect x="158.3" y="404" width="815.9" height="14.2" fill="url(#g26)"/><rect x="158.3" y="417.6" width="815.9" height="14.2" fill="url(#g27)"/><rect x="158.3" y="431.2" width="815.9" height="14.2" fill="url(#g28)"/><rect x="158.3" y="444.8" width="815.9" height="14.2" fill="url(#g29)"/><rect x="158.3" y="458.4" width="815.9" height="14.2" fill="url(#g30)"/><rect x="158.3" y="472" width="815.9" height="14.2" fill="url(#g31)"/><rect x="158.3" y="485.6" width="815.9" height="14.2" fill="url(#g32)"/><rect x="158.3" y="499.2" width="815.9" height="14.2" fill="url(#g33)"/><rect x="158.3" y="512.8" width="815.9" height="14.2" fill="url(#g34)"/><rect x="158.3" y="526.4" width="815.9" height="14.2" fill="url(#g35)"/><rect x="158.3" y="540" width="815.9" height="14.2" fill="url(#g36)"/><rect x="158.3" y="553.6" width="815.9" height="14.2" fill="url(#g37)"/><rect x="158.3" y="567.2" width="815.9" height="14.2" fill="url(#g38)"/><rect x="158.3" y="580.7" width="815.9" height="14.2" fill="url(#g39)"/><rect x="158.3" y="594.3" width="815.9" height="14.2" fill="url(#g40)"/><rect x="158.3" y="607.9" width="815.9" height="14.2" fill="url(#g41)"/><rect x="158.3" y="621.5" width="815.9" height="14.2" fill="url(#g42)"/><rect x="158.3" y="635.1" width="815.9" height="14.2" fill="url(#g43)"/><rect x="158.3" y="648.7" width="815.9" height="14.2" fill="url(#g44)"/><rect x="158.3" y="662.3" width="815.9" height="14.2" fill="url(#g45)"/><rect x="158.3" y="675.9" width="815.9" height="14.2" fill="url(#g46)"/><rect x="158.3" y="689.5" width="815.9" height="14.2" fill="url(#g47)"/><rect x="158.3" y="703.1" width="815.9" height="14.2" fill="url(#g48)"/><rect x="158.3" y="716.7" width="815.9" height="14.2" fill="url(#g49)"/><rect x="158.3" y="730.3" width="815.9" height="14.2" fill="url(#g50)"/><rect x="158.3" y="743.9" width="815.9" height="14.2" fill="url(#g51)"/></g></g>
<rect x="158.3" y="78" width="815.9" height="652.6" fill="none" stroke="#15241a" stroke-width="2.8"/>
<path d="M158.3 730.6v10.8M260.3 730.6v10.8M362.3 730.6v10.8M464.3 730.6v10.8M566.2 730.6v10.8M668.2 730.6v10.8M770.2 730.6v10.8M872.2 730.6v10.8M974.2 730.6v10.8M158.3 78h-11.5M158.3 186.8h-11.5M158.3 295.5h-11.5M158.3 404.3h-11.5M158.3 513.1h-11.5M158.3 621.8h-11.5M158.3 730.6h-11.5" stroke="#15241a" stroke-width="2.2" fill="none"/>
<g class="tk" text-anchor="middle"><text x="158.3" y="799.6">0</text><text x="260.3" y="799.6">4</text><text x="362.3" y="799.6">8</text><text x="464.3" y="799.6">12</text><text x="566.2" y="799.6">16</text><text x="668.2" y="799.6">20</text><text x="770.2" y="799.6">24</text><text x="872.2" y="799.6">28</text><text x="974.2" y="799.6">32</text></g>
<g class="tk" text-anchor="end"><text x="132.3" y="91.7">60</text><text x="132.3" y="200.5">56</text><text x="132.3" y="309.2">52</text><text x="132.3" y="418">48</text><text x="132.3" y="526.8">44</text><text x="132.3" y="635.5">40</text><text x="132.3" y="747.5">36</text></g>
<text class="lby" text-anchor="middle" transform="translate(59.2 403.8) rotate(-90)">Latitude (degrees)</text>
<text class="lb" text-anchor="middle" x="565.5" y="868.6">Longitude (degrees)</text>
<text class="tt" text-anchor="middle" x="548" y="56.8">2:00UT</text>
<g clip-path="url(#c1)"><g filter="url(#vb)"><rect x="1015.8" y="50.5" width="812.8" height="14.2" fill="url(#g52)"/><rect x="1015.8" y="64.1" width="812.8" height="14.2" fill="url(#g53)"/><rect x="1015.8" y="77.7" width="812.8" height="14.2" fill="url(#g54)"/><rect x="1015.8" y="91.3" width="812.8" height="14.2" fill="url(#g55)"/><rect x="1015.8" y="104.9" width="812.8" height="14.2" fill="url(#g56)"/><rect x="1015.8" y="118.5" width="812.8" height="14.2" fill="url(#g57)"/><rect x="1015.8" y="132.1" width="812.8" height="14.2" fill="url(#g58)"/><rect x="1015.8" y="145.7" width="812.8" height="14.2" fill="url(#g59)"/><rect x="1015.8" y="159.3" width="812.8" height="14.2" fill="url(#g60)"/><rect x="1015.8" y="172.9" width="812.8" height="14.2" fill="url(#g61)"/><rect x="1015.8" y="186.5" width="812.8" height="14.2" fill="url(#g62)"/><rect x="1015.8" y="200.1" width="812.8" height="14.2" fill="url(#g63)"/><rect x="1015.8" y="213.7" width="812.8" height="14.2" fill="url(#g64)"/><rect x="1015.8" y="227.3" width="812.8" height="14.2" fill="url(#g65)"/><rect x="1015.8" y="240.8" width="812.8" height="14.2" fill="url(#g66)"/><rect x="1015.8" y="254.4" width="812.8" height="14.2" fill="url(#g67)"/><rect x="1015.8" y="268" width="812.8" height="14.2" fill="url(#g68)"/><rect x="1015.8" y="281.6" width="812.8" height="14.2" fill="url(#g69)"/><rect x="1015.8" y="295.2" width="812.8" height="14.2" fill="url(#g70)"/><rect x="1015.8" y="308.8" width="812.8" height="14.2" fill="url(#g71)"/><rect x="1015.8" y="322.4" width="812.8" height="14.2" fill="url(#g72)"/><rect x="1015.8" y="336" width="812.8" height="14.2" fill="url(#g73)"/><rect x="1015.8" y="349.6" width="812.8" height="14.2" fill="url(#g74)"/><rect x="1015.8" y="363.2" width="812.8" height="14.2" fill="url(#g75)"/><rect x="1015.8" y="376.8" width="812.8" height="14.2" fill="url(#g76)"/><rect x="1015.8" y="390.4" width="812.8" height="14.2" fill="url(#g77)"/><rect x="1015.8" y="404" width="812.8" height="14.2" fill="url(#g78)"/><rect x="1015.8" y="417.6" width="812.8" height="14.2" fill="url(#g79)"/><rect x="1015.8" y="431.2" width="812.8" height="14.2" fill="url(#g80)"/><rect x="1015.8" y="444.8" width="812.8" height="14.2" fill="url(#g81)"/><rect x="1015.8" y="458.4" width="812.8" height="14.2" fill="url(#g82)"/><rect x="1015.8" y="472" width="812.8" height="14.2" fill="url(#g83)"/><rect x="1015.8" y="485.6" width="812.8" height="14.2" fill="url(#g84)"/><rect x="1015.8" y="499.2" width="812.8" height="14.2" fill="url(#g85)"/><rect x="1015.8" y="512.8" width="812.8" height="14.2" fill="url(#g86)"/><rect x="1015.8" y="526.4" width="812.8" height="14.2" fill="url(#g87)"/><rect x="1015.8" y="540" width="812.8" height="14.2" fill="url(#g88)"/><rect x="1015.8" y="553.6" width="812.8" height="14.2" fill="url(#g89)"/><rect x="1015.8" y="567.2" width="812.8" height="14.2" fill="url(#g90)"/><rect x="1015.8" y="580.7" width="812.8" height="14.2" fill="url(#g91)"/><rect x="1015.8" y="594.3" width="812.8" height="14.2" fill="url(#g92)"/><rect x="1015.8" y="607.9" width="812.8" height="14.2" fill="url(#g93)"/><rect x="1015.8" y="621.5" width="812.8" height="14.2" fill="url(#g94)"/><rect x="1015.8" y="635.1" width="812.8" height="14.2" fill="url(#g95)"/><rect x="1015.8" y="648.7" width="812.8" height="14.2" fill="url(#g96)"/><rect x="1015.8" y="662.3" width="812.8" height="14.2" fill="url(#g97)"/><rect x="1015.8" y="675.9" width="812.8" height="14.2" fill="url(#g98)"/><rect x="1015.8" y="689.5" width="812.8" height="14.2" fill="url(#g99)"/><rect x="1015.8" y="703.1" width="812.8" height="14.2" fill="url(#g100)"/><rect x="1015.8" y="716.7" width="812.8" height="14.2" fill="url(#g101)"/><rect x="1015.8" y="730.3" width="812.8" height="14.2" fill="url(#g102)"/><rect x="1015.8" y="743.9" width="812.8" height="14.2" fill="url(#g103)"/></g></g>
<rect x="1015.8" y="78" width="812.8" height="652.6" fill="none" stroke="#15241a" stroke-width="2.8"/>
<path d="M1015.8 730.6v10.8M1117.4 730.6v10.8M1219 730.6v10.8M1320.6 730.6v10.8M1422.2 730.6v10.8M1523.8 730.6v10.8M1625.4 730.6v10.8M1727 730.6v10.8M1828.6 730.6v10.8" stroke="#15241a" stroke-width="2.2" fill="none"/>
<g class="tk" text-anchor="middle"><text x="1015.8" y="799.6">0</text><text x="1117.4" y="799.6">4</text><text x="1219" y="799.6">8</text><text x="1320.6" y="799.6">12</text><text x="1422.2" y="799.6">16</text><text x="1523.8" y="799.6">20</text><text x="1625.4" y="799.6">24</text><text x="1727" y="799.6">28</text><text x="1828.6" y="799.6">32</text></g>
<text class="lb" text-anchor="middle" x="1421.4" y="868.6">Longitude (degrees)</text>
<text class="tt" text-anchor="middle" x="1404.5" y="56.8">6:00UT</text>
<g clip-path="url(#c2)"><g filter="url(#vb)"><rect x="158.3" y="933.5" width="815.9" height="14.2" fill="url(#g104)"/><rect x="158.3" y="947.1" width="815.9" height="14.2" fill="url(#g105)"/><rect x="158.3" y="960.7" width="815.9" height="14.2" fill="url(#g106)"/><rect x="158.3" y="974.3" width="815.9" height="14.2" fill="url(#g107)"/><rect x="158.3" y="987.9" width="815.9" height="14.2" fill="url(#g108)"/><rect x="158.3" y="1001.5" width="815.9" height="14.2" fill="url(#g109)"/><rect x="158.3" y="1015.1" width="815.9" height="14.2" fill="url(#g110)"/><rect x="158.3" y="1028.7" width="815.9" height="14.2" fill="url(#g111)"/><rect x="158.3" y="1042.3" width="815.9" height="14.2" fill="url(#g112)"/><rect x="158.3" y="1055.9" width="815.9" height="14.2" fill="url(#g113)"/><rect x="158.3" y="1069.5" width="815.9" height="14.2" fill="url(#g114)"/><rect x="158.3" y="1083.1" width="815.9" height="14.2" fill="url(#g115)"/><rect x="158.3" y="1096.7" width="815.9" height="14.2" fill="url(#g116)"/><rect x="158.3" y="1110.3" width="815.9" height="14.2" fill="url(#g117)"/><rect x="158.3" y="1124" width="815.9" height="14.2" fill="url(#g118)"/><rect x="158.3" y="1137.6" width="815.9" height="14.2" fill="url(#g119)"/><rect x="158.3" y="1151.2" width="815.9" height="14.2" fill="url(#g120)"/><rect x="158.3" y="1164.8" width="815.9" height="14.2" fill="url(#g121)"/><rect x="158.3" y="1178.4" width="815.9" height="14.2" fill="url(#g122)"/><rect x="158.3" y="1192" width="815.9" height="14.2" fill="url(#g123)"/><rect x="158.3" y="1205.6" width="815.9" height="14.2" fill="url(#g124)"/><rect x="158.3" y="1219.2" width="815.9" height="14.2" fill="url(#g125)"/><rect x="158.3" y="1232.8" width="815.9" height="14.2" fill="url(#g126)"/><rect x="158.3" y="1246.4" width="815.9" height="14.2" fill="url(#g127)"/><rect x="158.3" y="1260" width="815.9" height="14.2" fill="url(#g128)"/><rect x="158.3" y="1273.6" width="815.9" height="14.2" fill="url(#g129)"/><rect x="158.3" y="1287.2" width="815.9" height="14.2" fill="url(#g130)"/><rect x="158.3" y="1300.8" width="815.9" height="14.2" fill="url(#g131)"/><rect x="158.3" y="1314.4" width="815.9" height="14.2" fill="url(#g132)"/><rect x="158.3" y="1328" width="815.9" height="14.2" fill="url(#g133)"/><rect x="158.3" y="1341.6" width="815.9" height="14.2" fill="url(#g134)"/><rect x="158.3" y="1355.2" width="815.9" height="14.2" fill="url(#g135)"/><rect x="158.3" y="1368.8" width="815.9" height="14.2" fill="url(#g136)"/><rect x="158.3" y="1382.4" width="815.9" height="14.2" fill="url(#g137)"/><rect x="158.3" y="1396" width="815.9" height="14.2" fill="url(#g138)"/><rect x="158.3" y="1409.6" width="815.9" height="14.2" fill="url(#g139)"/><rect x="158.3" y="1423.2" width="815.9" height="14.2" fill="url(#g140)"/><rect x="158.3" y="1436.8" width="815.9" height="14.2" fill="url(#g141)"/><rect x="158.3" y="1450.5" width="815.9" height="14.2" fill="url(#g142)"/><rect x="158.3" y="1464.1" width="815.9" height="14.2" fill="url(#g143)"/><rect x="158.3" y="1477.7" width="815.9" height="14.2" fill="url(#g144)"/><rect x="158.3" y="1491.3" width="815.9" height="14.2" fill="url(#g145)"/><rect x="158.3" y="1504.9" width="815.9" height="14.2" fill="url(#g146)"/><rect x="158.3" y="1518.5" width="815.9" height="14.2" fill="url(#g147)"/><rect x="158.3" y="1532.1" width="815.9" height="14.2" fill="url(#g148)"/><rect x="158.3" y="1545.7" width="815.9" height="14.2" fill="url(#g149)"/><rect x="158.3" y="1559.3" width="815.9" height="14.2" fill="url(#g150)"/><rect x="158.3" y="1572.9" width="815.9" height="14.2" fill="url(#g151)"/><rect x="158.3" y="1586.5" width="815.9" height="14.2" fill="url(#g152)"/><rect x="158.3" y="1600.1" width="815.9" height="14.2" fill="url(#g153)"/><rect x="158.3" y="1613.7" width="815.9" height="14.2" fill="url(#g154)"/><rect x="158.3" y="1627.3" width="815.9" height="14.2" fill="url(#g155)"/></g></g>
<rect x="158.3" y="961" width="815.9" height="653" fill="none" stroke="#15241a" stroke-width="2.8"/>
<path d="M158.3 1614v10.8M260.3 1614v10.8M362.3 1614v10.8M464.3 1614v10.8M566.2 1614v10.8M668.2 1614v10.8M770.2 1614v10.8M872.2 1614v10.8M974.2 1614v10.8M158.3 961h-11.5M158.3 1069.8h-11.5M158.3 1178.7h-11.5M158.3 1287.5h-11.5M158.3 1396.3h-11.5M158.3 1505.2h-11.5M158.3 1614h-11.5" stroke="#15241a" stroke-width="2.2" fill="none"/>
<g class="tk" text-anchor="middle"><text x="158.3" y="1683">0</text><text x="260.3" y="1683">4</text><text x="362.3" y="1683">8</text><text x="464.3" y="1683">12</text><text x="566.2" y="1683">16</text><text x="668.2" y="1683">20</text><text x="770.2" y="1683">24</text><text x="872.2" y="1683">28</text><text x="974.2" y="1683">32</text></g>
<g class="tk" text-anchor="end"><text x="132.3" y="974.7">60</text><text x="132.3" y="1083.5">56</text><text x="132.3" y="1192.4">52</text><text x="132.3" y="1301.2">48</text><text x="132.3" y="1410">44</text><text x="132.3" y="1518.9">40</text><text x="132.3" y="1630.9">36</text></g>
<text class="lby" text-anchor="middle" transform="translate(59.2 1287) rotate(-90)">Latitude (degrees)</text>
<text class="lb" text-anchor="middle" x="565.5" y="1752">Longitude (degrees)</text>
<text class="tt" text-anchor="middle" x="564" y="939.8">10:00UT</text>
<g clip-path="url(#c3)"><g filter="url(#vb)"><rect x="1015.8" y="933.5" width="812.8" height="14.2" fill="url(#g156)"/><rect x="1015.8" y="947.1" width="812.8" height="14.2" fill="url(#g157)"/><rect x="1015.8" y="960.7" width="812.8" height="14.2" fill="url(#g158)"/><rect x="1015.8" y="974.3" width="812.8" height="14.2" fill="url(#g159)"/><rect x="1015.8" y="987.9" width="812.8" height="14.2" fill="url(#g160)"/><rect x="1015.8" y="1001.5" width="812.8" height="14.2" fill="url(#g161)"/><rect x="1015.8" y="1015.1" width="812.8" height="14.2" fill="url(#g162)"/><rect x="1015.8" y="1028.7" width="812.8" height="14.2" fill="url(#g163)"/><rect x="1015.8" y="1042.3" width="812.8" height="14.2" fill="url(#g164)"/><rect x="1015.8" y="1055.9" width="812.8" height="14.2" fill="url(#g165)"/><rect x="1015.8" y="1069.5" width="812.8" height="14.2" fill="url(#g166)"/><rect x="1015.8" y="1083.1" width="812.8" height="14.2" fill="url(#g167)"/><rect x="1015.8" y="1096.7" width="812.8" height="14.2" fill="url(#g168)"/><rect x="1015.8" y="1110.3" width="812.8" height="14.2" fill="url(#g169)"/><rect x="1015.8" y="1124" width="812.8" height="14.2" fill="url(#g170)"/><rect x="1015.8" y="1137.6" width="812.8" height="14.2" fill="url(#g171)"/><rect x="1015.8" y="1151.2" width="812.8" height="14.2" fill="url(#g172)"/><rect x="1015.8" y="1164.8" width="812.8" height="14.2" fill="url(#g173)"/><rect x="1015.8" y="1178.4" width="812.8" height="14.2" fill="url(#g174)"/><rect x="1015.8" y="1192" width="812.8" height="14.2" fill="url(#g175)"/><rect x="1015.8" y="1205.6" width="812.8" height="14.2" fill="url(#g176)"/><rect x="1015.8" y="1219.2" width="812.8" height="14.2" fill="url(#g177)"/><rect x="1015.8" y="1232.8" width="812.8" height="14.2" fill="url(#g178)"/><rect x="1015.8" y="1246.4" width="812.8" height="14.2" fill="url(#g179)"/><rect x="1015.8" y="1260" width="812.8" height="14.2" fill="url(#g180)"/><rect x="1015.8" y="1273.6" width="812.8" height="14.2" fill="url(#g181)"/><rect x="1015.8" y="1287.2" width="812.8" height="14.2" fill="url(#g182)"/><rect x="1015.8" y="1300.8" width="812.8" height="14.2" fill="url(#g183)"/><rect x="1015.8" y="1314.4" width="812.8" height="14.2" fill="url(#g184)"/><rect x="1015.8" y="1328" width="812.8" height="14.2" fill="url(#g185)"/><rect x="1015.8" y="1341.6" width="812.8" height="14.2" fill="url(#g186)"/><rect x="1015.8" y="1355.2" width="812.8" height="14.2" fill="url(#g187)"/><rect x="1015.8" y="1368.8" width="812.8" height="14.2" fill="url(#g188)"/><rect x="1015.8" y="1382.4" width="812.8" height="14.2" fill="url(#g189)"/><rect x="1015.8" y="1396" width="812.8" height="14.2" fill="url(#g190)"/><rect x="1015.8" y="1409.6" width="812.8" height="14.2" fill="url(#g191)"/><rect x="1015.8" y="1423.2" width="812.8" height="14.2" fill="url(#g192)"/><rect x="1015.8" y="1436.8" width="812.8" height="14.2" fill="url(#g193)"/><rect x="1015.8" y="1450.5" width="812.8" height="14.2" fill="url(#g194)"/><rect x="1015.8" y="1464.1" width="812.8" height="14.2" fill="url(#g195)"/><rect x="1015.8" y="1477.7" width="812.8" height="14.2" fill="url(#g196)"/><rect x="1015.8" y="1491.3" width="812.8" height="14.2" fill="url(#g197)"/><rect x="1015.8" y="1504.9" width="812.8" height="14.2" fill="url(#g198)"/><rect x="1015.8" y="1518.5" width="812.8" height="14.2" fill="url(#g199)"/><rect x="1015.8" y="1532.1" width="812.8" height="14.2" fill="url(#g200)"/><rect x="1015.8" y="1545.7" width="812.8" height="14.2" fill="url(#g201)"/><rect x="1015.8" y="1559.3" width="812.8" height="14.2" fill="url(#g202)"/><rect x="1015.8" y="1572.9" width="812.8" height="14.2" fill="url(#g203)"/><rect x="1015.8" y="1586.5" width="812.8" height="14.2" fill="url(#g204)"/><rect x="1015.8" y="1600.1" width="812.8" height="14.2" fill="url(#g205)"/><rect x="1015.8" y="1613.7" width="812.8" height="14.2" fill="url(#g206)"/><rect x="1015.8" y="1627.3" width="812.8" height="14.2" fill="url(#g207)"/></g></g>
<rect x="1015.8" y="961" width="812.8" height="653" fill="none" stroke="#15241a" stroke-width="2.8"/>
<path d="M1015.8 1614v10.8M1117.4 1614v10.8M1219 1614v10.8M1320.6 1614v10.8M1422.2 1614v10.8M1523.8 1614v10.8M1625.4 1614v10.8M1727 1614v10.8M1828.6 1614v10.8" stroke="#15241a" stroke-width="2.2" fill="none"/>
<g class="tk" text-anchor="middle"><text x="1015.8" y="1683">0</text><text x="1117.4" y="1683">4</text><text x="1219" y="1683">8</text><text x="1320.6" y="1683">12</text><text x="1422.2" y="1683">16</text><text x="1523.8" y="1683">20</text><text x="1625.4" y="1683">24</text><text x="1727" y="1683">28</text><text x="1828.6" y="1683">32</text></g>
<text class="lb" text-anchor="middle" x="1421.4" y="1752">Longitude (degrees)</text>
<text class="tt" text-anchor="middle" x="1418.5" y="939.8">14:00UT</text>
<g clip-path="url(#c4)"><g filter="url(#vb)"><rect x="158.3" y="1816.6" width="815.9" height="14.2" fill="url(#g208)"/><rect x="158.3" y="1830.3" width="815.9" height="14.2" fill="url(#g209)"/><rect x="158.3" y="1843.9" width="815.9" height="14.2" fill="url(#g210)"/><rect x="158.3" y="1857.5" width="815.9" height="14.2" fill="url(#g211)"/><rect x="158.3" y="1871.2" width="815.9" height="14.2" fill="url(#g212)"/><rect x="158.3" y="1884.8" width="815.9" height="14.2" fill="url(#g213)"/><rect x="158.3" y="1898.4" width="815.9" height="14.2" fill="url(#g214)"/><rect x="158.3" y="1912.1" width="815.9" height="14.2" fill="url(#g215)"/><rect x="158.3" y="1925.7" width="815.9" height="14.2" fill="url(#g216)"/><rect x="158.3" y="1939.3" width="815.9" height="14.2" fill="url(#g217)"/><rect x="158.3" y="1953" width="815.9" height="14.2" fill="url(#g218)"/><rect x="158.3" y="1966.6" width="815.9" height="14.2" fill="url(#g219)"/><rect x="158.3" y="1980.2" width="815.9" height="14.2" fill="url(#g220)"/><rect x="158.3" y="1993.9" width="815.9" height="14.2" fill="url(#g221)"/><rect x="158.3" y="2007.5" width="815.9" height="14.2" fill="url(#g222)"/><rect x="158.3" y="2021.1" width="815.9" height="14.2" fill="url(#g223)"/><rect x="158.3" y="2034.8" width="815.9" height="14.2" fill="url(#g224)"/><rect x="158.3" y="2048.4" width="815.9" height="14.2" fill="url(#g225)"/><rect x="158.3" y="2062" width="815.9" height="14.2" fill="url(#g226)"/><rect x="158.3" y="2075.7" width="815.9" height="14.2" fill="url(#g227)"/><rect x="158.3" y="2089.3" width="815.9" height="14.2" fill="url(#g228)"/><rect x="158.3" y="2102.9" width="815.9" height="14.2" fill="url(#g229)"/><rect x="158.3" y="2116.6" width="815.9" height="14.2" fill="url(#g230)"/><rect x="158.3" y="2130.2" width="815.9" height="14.2" fill="url(#g231)"/><rect x="158.3" y="2143.8" width="815.9" height="14.2" fill="url(#g232)"/><rect x="158.3" y="2157.5" width="815.9" height="14.2" fill="url(#g233)"/><rect x="158.3" y="2171.1" width="815.9" height="14.2" fill="url(#g234)"/><rect x="158.3" y="2184.7" width="815.9" height="14.2" fill="url(#g235)"/><rect x="158.3" y="2198.4" width="815.9" height="14.2" fill="url(#g236)"/><rect x="158.3" y="2212" width="815.9" height="14.2" fill="url(#g237)"/><rect x="158.3" y="2225.6" width="815.9" height="14.2" fill="url(#g238)"/><rect x="158.3" y="2239.3" width="815.9" height="14.2" fill="url(#g239)"/><rect x="158.3" y="2252.9" width="815.9" height="14.2" fill="url(#g240)"/><rect x="158.3" y="2266.5" width="815.9" height="14.2" fill="url(#g241)"/><rect x="158.3" y="2280.2" width="815.9" height="14.2" fill="url(#g242)"/><rect x="158.3" y="2293.8" width="815.9" height="14.2" fill="url(#g243)"/><rect x="158.3" y="2307.4" width="815.9" height="14.2" fill="url(#g244)"/><rect x="158.3" y="2321.1" width="815.9" height="14.2" fill="url(#g245)"/><rect x="158.3" y="2334.7" width="815.9" height="14.2" fill="url(#g246)"/><rect x="158.3" y="2348.3" width="815.9" height="14.2" fill="url(#g247)"/><rect x="158.3" y="2362" width="815.9" height="14.2" fill="url(#g248)"/><rect x="158.3" y="2375.6" width="815.9" height="14.2" fill="url(#g249)"/><rect x="158.3" y="2389.2" width="815.9" height="14.2" fill="url(#g250)"/><rect x="158.3" y="2402.9" width="815.9" height="14.2" fill="url(#g251)"/><rect x="158.3" y="2416.5" width="815.9" height="14.2" fill="url(#g252)"/><rect x="158.3" y="2430.1" width="815.9" height="14.2" fill="url(#g253)"/><rect x="158.3" y="2443.8" width="815.9" height="14.2" fill="url(#g254)"/><rect x="158.3" y="2457.4" width="815.9" height="14.2" fill="url(#g255)"/><rect x="158.3" y="2471" width="815.9" height="14.2" fill="url(#g256)"/><rect x="158.3" y="2484.7" width="815.9" height="14.2" fill="url(#g257)"/><rect x="158.3" y="2498.3" width="815.9" height="14.2" fill="url(#g258)"/><rect x="158.3" y="2511.9" width="815.9" height="14.2" fill="url(#g259)"/></g></g>
<rect x="158.3" y="1844.2" width="815.9" height="654.4" fill="none" stroke="#15241a" stroke-width="2.8"/>
<path d="M158.3 2498.6v10.8M260.3 2498.6v10.8M362.3 2498.6v10.8M464.3 2498.6v10.8M566.2 2498.6v10.8M668.2 2498.6v10.8M770.2 2498.6v10.8M872.2 2498.6v10.8M974.2 2498.6v10.8M158.3 1844.2h-11.5M158.3 1953.3h-11.5M158.3 2062.3h-11.5M158.3 2171.4h-11.5M158.3 2280.5h-11.5M158.3 2389.5h-11.5M158.3 2498.6h-11.5" stroke="#15241a" stroke-width="2.2" fill="none"/>
<g class="tk" text-anchor="middle"><text x="158.3" y="2567.6">0</text><text x="260.3" y="2567.6">4</text><text x="362.3" y="2567.6">8</text><text x="464.3" y="2567.6">12</text><text x="566.2" y="2567.6">16</text><text x="668.2" y="2567.6">20</text><text x="770.2" y="2567.6">24</text><text x="872.2" y="2567.6">28</text><text x="974.2" y="2567.6">32</text></g>
<g class="tk" text-anchor="end"><text x="132.3" y="1857.9">60</text><text x="132.3" y="1967">56</text><text x="132.3" y="2076">52</text><text x="132.3" y="2185.1">48</text><text x="132.3" y="2294.2">44</text><text x="132.3" y="2403.2">40</text><text x="132.3" y="2515.5">36</text></g>
<text class="lby" text-anchor="middle" transform="translate(59.2 2170.9) rotate(-90)">Latitude (degrees)</text>
<text class="lb" text-anchor="middle" x="565.5" y="2636.6">Longitude (degrees)</text>
<text class="tt" text-anchor="middle" x="564" y="1823">18:00UT</text>
<g clip-path="url(#c5)"><g filter="url(#vb)"><rect x="1015.8" y="1816.6" width="812.8" height="14.2" fill="url(#g260)"/><rect x="1015.8" y="1830.3" width="812.8" height="14.2" fill="url(#g261)"/><rect x="1015.8" y="1843.9" width="812.8" height="14.2" fill="url(#g262)"/><rect x="1015.8" y="1857.5" width="812.8" height="14.2" fill="url(#g263)"/><rect x="1015.8" y="1871.2" width="812.8" height="14.2" fill="url(#g264)"/><rect x="1015.8" y="1884.8" width="812.8" height="14.2" fill="url(#g265)"/><rect x="1015.8" y="1898.4" width="812.8" height="14.2" fill="url(#g266)"/><rect x="1015.8" y="1912.1" width="812.8" height="14.2" fill="url(#g267)"/><rect x="1015.8" y="1925.7" width="812.8" height="14.2" fill="url(#g268)"/><rect x="1015.8" y="1939.3" width="812.8" height="14.2" fill="url(#g269)"/><rect x="1015.8" y="1953" width="812.8" height="14.2" fill="url(#g270)"/><rect x="1015.8" y="1966.6" width="812.8" height="14.2" fill="url(#g271)"/><rect x="1015.8" y="1980.2" width="812.8" height="14.2" fill="url(#g272)"/><rect x="1015.8" y="1993.9" width="812.8" height="14.2" fill="url(#g273)"/><rect x="1015.8" y="2007.5" width="812.8" height="14.2" fill="url(#g274)"/><rect x="1015.8" y="2021.1" width="812.8" height="14.2" fill="url(#g275)"/><rect x="1015.8" y="2034.8" width="812.8" height="14.2" fill="url(#g276)"/><rect x="1015.8" y="2048.4" width="812.8" height="14.2" fill="url(#g277)"/><rect x="1015.8" y="2062" width="812.8" height="14.2" fill="url(#g278)"/><rect x="1015.8" y="2075.7" width="812.8" height="14.2" fill="url(#g279)"/><rect x="1015.8" y="2089.3" width="812.8" height="14.2" fill="url(#g280)"/><rect x="1015.8" y="2102.9" width="812.8" height="14.2" fill="url(#g281)"/><rect x="1015.8" y="2116.6" width="812.8" height="14.2" fill="url(#g282)"/><rect x="1015.8" y="2130.2" width="812.8" height="14.2" fill="url(#g283)"/><rect x="1015.8" y="2143.8" width="812.8" height="14.2" fill="url(#g284)"/><rect x="1015.8" y="2157.5" width="812.8" height="14.2" fill="url(#g285)"/><rect x="1015.8" y="2171.1" width="812.8" height="14.2" fill="url(#g286)"/><rect x="1015.8" y="2184.7" width="812.8" height="14.2" fill="url(#g287)"/><rect x="1015.8" y="2198.4" width="812.8" height="14.2" fill="url(#g288)"/><rect x="1015.8" y="2212" width="812.8" height="14.2" fill="url(#g289)"/><rect x="1015.8" y="2225.6" width="812.8" height="14.2" fill="url(#g290)"/><rect x="1015.8" y="2239.3" width="812.8" height="14.2" fill="url(#g291)"/><rect x="1015.8" y="2252.9" width="812.8" height="14.2" fill="url(#g292)"/><rect x="1015.8" y="2266.5" width="812.8" height="14.2" fill="url(#g293)"/><rect x="1015.8" y="2280.2" width="812.8" height="14.2" fill="url(#g294)"/><rect x="1015.8" y="2293.8" width="812.8" height="14.2" fill="url(#g295)"/><rect x="1015.8" y="2307.4" width="812.8" height="14.2" fill="url(#g296)"/><rect x="1015.8" y="2321.1" width="812.8" height="14.2" fill="url(#g297)"/><rect x="1015.8" y="2334.7" width="812.8" height="14.2" fill="url(#g298)"/><rect x="1015.8" y="2348.3" width="812.8" height="14.2" fill="url(#g299)"/><rect x="1015.8" y="2362" width="812.8" height="14.2" fill="url(#g300)"/><rect x="1015.8" y="2375.6" width="812.8" height="14.2" fill="url(#g301)"/><rect x="1015.8" y="2389.2" width="812.8" height="14.2" fill="url(#g302)"/><rect x="1015.8" y="2402.9" width="812.8" height="14.2" fill="url(#g303)"/><rect x="1015.8" y="2416.5" width="812.8" height="14.2" fill="url(#g304)"/><rect x="1015.8" y="2430.1" width="812.8" height="14.2" fill="url(#g305)"/><rect x="1015.8" y="2443.8" width="812.8" height="14.2" fill="url(#g306)"/><rect x="1015.8" y="2457.4" width="812.8" height="14.2" fill="url(#g307)"/><rect x="1015.8" y="2471" width="812.8" height="14.2" fill="url(#g308)"/><rect x="1015.8" y="2484.7" width="812.8" height="14.2" fill="url(#g309)"/><rect x="1015.8" y="2498.3" width="812.8" height="14.2" fill="url(#g310)"/><rect x="1015.8" y="2511.9" width="812.8" height="14.2" fill="url(#g311)"/></g></g>
<rect x="1015.8" y="1844.2" width="812.8" height="654.4" fill="none" stroke="#15241a" stroke-width="2.8"/>
<path d="M1015.8 2498.6v10.8M1117.4 2498.6v10.8M1219 2498.6v10.8M1320.6 2498.6v10.8M1422.2 2498.6v10.8M1523.8 2498.6v10.8M1625.4 2498.6v10.8M1727 2498.6v10.8M1828.6 2498.6v10.8" stroke="#15241a" stroke-width="2.2" fill="none"/>
<g class="tk" text-anchor="middle"><text x="1015.8" y="2567.6">0</text><text x="1117.4" y="2567.6">4</text><text x="1219" y="2567.6">8</text><text x="1320.6" y="2567.6">12</text><text x="1422.2" y="2567.6">16</text><text x="1523.8" y="2567.6">20</text><text x="1625.4" y="2567.6">24</text><text x="1727" y="2567.6">28</text><text x="1828.6" y="2567.6">32</text></g>
<text class="lb" text-anchor="middle" x="1421.4" y="2636.6">Longitude (degrees)</text>
<text class="tt" text-anchor="middle" x="1418.5" y="1823">22:00UT</text>
<rect x="1892.5" y="277" width="81.3" height="2006" fill="url(#cb)"/>
<rect x="1892.5" y="277" width="81.3" height="2006" fill="url(#cbe)"/>
<path d="M1973.8 2082.4h-20M1973.8 1881.8h-20M1973.8 1681.2h-20M1973.8 1480.6h-20M1973.8 1280h-20M1973.8 1079.4h-20M1973.8 878.8h-20M1973.8 678.2h-20M1973.8 477.6h-20" stroke="#2a2a2a" stroke-opacity=".75" stroke-width="2" fill="none"/>
<g class="cbt"><text x="1976.5" y="2297.5">−5</text><text x="1976.5" y="2096.9">−4</text><text x="1976.5" y="1896.3">−3</text><text x="1976.5" y="1695.7">−2</text><text x="1976.5" y="1495.1">−1</text><text x="1990" y="1294.5">0</text><text x="1990" y="1093.9">1</text><text x="1990" y="893.3">2</text><text x="1990" y="692.7">3</text><text x="1990" y="492.1">4</text><text x="1990" y="291.5">5</text></g>
<text class="ct" x="1834.5" y="256">TEC(TECU)</text>
</svg>
</body></html>
